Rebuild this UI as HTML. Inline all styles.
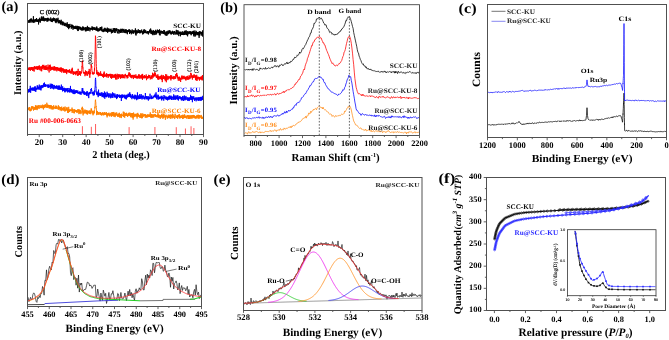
<!DOCTYPE html>
<html><head><meta charset="utf-8"><style>
html,body{margin:0;padding:0;background:#fff;}
svg{display:block;will-change:transform;}
text{font-family:"Liberation Serif", serif;text-rendering:geometricPrecision;}
</style></head><body>
<svg width="669" height="340" viewBox="0 0 669 340">
<rect width="669" height="340" fill="#fff"/>
<polyline fill="none" stroke="#000" stroke-width="0.9" stroke-linejoin="round"  points="28,21.55 28.12,21.88 28.24,21.21 28.36,21.12 28.48,20.98 28.6,20.35 28.72,21.55 28.84,23 28.96,21.24 29.08,20.72 29.2,21.98 29.32,20.5 29.44,21.51 29.56,20.3 29.68,21.31 29.8,22.13 29.92,19.77 30.04,22.77 30.16,19.09 30.28,19.78 30.4,19.12 30.52,20.95 30.64,19.75 30.76,21.5 30.88,21.35 31,20.94 31.12,18.24 31.24,20.49 31.36,21.17 31.48,21.21 31.6,19.3 31.72,20.49 31.84,19.9 31.96,22.69 32.08,22.21 32.2,20.04 32.32,20.91 32.44,21.95 32.56,20.24 32.68,20.77 32.8,21.01 32.92,21.45 33.04,19.44 33.16,20.91 33.28,22.37 33.4,16.21 33.52,21.76 33.64,20.89 33.76,20 33.88,23.02 34,21.58 34.12,19.3 34.24,20.75 34.36,21.31 34.48,20.41 34.6,21.4 34.72,20.52 34.84,21.34 34.96,22.21 35.08,19.76 35.2,20.76 35.32,19.98 35.44,20.64 35.56,19.11 35.68,20.13 35.8,20.22 35.92,21.46 36.04,21.73 36.16,18.88 36.28,19.47 36.4,21.12 36.52,18.07 36.64,19.81 36.76,20.22 36.88,21.77 37,21.1 37.12,19.92 37.24,19.86 37.36,19.98 37.48,22.01 37.6,19.76 37.72,19.89 37.84,20.63 37.96,19.96 38.08,19.98 38.2,18.91 38.32,19.42 38.44,19.66 38.56,24.48 38.68,20.03 38.8,20.11 38.92,20.89 39.04,19.72 39.16,22.3 39.28,20.17 39.4,20.75 39.52,18.58 39.64,20.46 39.76,18.1 39.88,17.69 40,19.67 40.12,18.98 40.24,20.19 40.36,22.57 40.48,19.02 40.6,19.25 40.72,20.3 40.84,20.51 40.96,19.73 41.08,19.69 41.2,20.72 41.32,20.5 41.44,16.49 41.56,19.79 41.68,19.91 41.8,18.64 41.92,20.14 42.04,18.84 42.16,20.94 42.28,20.03 42.4,19.9 42.52,19.11 42.64,19.64 42.76,17.47 42.88,18.45 43,20.23 43.12,16.34 43.24,20.69 43.36,17.7 43.48,20.57 43.6,16.92 43.72,19.89 43.84,19.83 43.96,17.9 44.08,21.1 44.2,21.32 44.32,19.58 44.44,19.34 44.56,19.82 44.68,18.53 44.8,20.91 44.92,19.02 45.04,19.59 45.16,18.73 45.28,18.93 45.4,18.18 45.52,19.75 45.64,20.03 45.76,20.77 45.88,19.67 46,18.87 46.12,19.29 46.24,19.03 46.36,19.69 46.48,19.25 46.6,19.34 46.72,18.11 46.84,18.77 46.96,21.61 47.08,18.94 47.2,18.5 47.32,20.11 47.44,21.34 47.56,18.06 47.68,19.5 47.8,19.01 47.92,17.72 48.04,20.6 48.16,21.24 48.28,19.84 48.4,18.9 48.52,20.29 48.64,19.16 48.76,18.3 48.88,18.51 49,18.39 49.12,19.11 49.24,19.22 49.36,19.75 49.48,19.77 49.6,19.31 49.72,19.24 49.84,20.55 49.96,19.49 50.08,19.66 50.2,20.87 50.32,21.2 50.44,20.64 50.56,20.3 50.68,17.51 50.8,18.28 50.92,20.97 51.04,20.99 51.16,19.72 51.28,20.51 51.4,21.92 51.52,20.85 51.64,20.96 51.76,19.38 51.88,21.66 52,18.49 52.12,20.92 52.24,20.5 52.36,20.94 52.48,22.1 52.6,21.65 52.72,18.64 52.84,19.41 52.96,20.92 53.08,18.82 53.2,19.99 53.32,20.99 53.44,18.15 53.56,17.63 53.68,20.38 53.8,20.15 53.92,19.84 54.04,20.2 54.16,19.19 54.28,18.47 54.4,18.24 54.52,19.15 54.64,18.42 54.76,20.92 54.88,20.31 55,21.28 55.12,19.32 55.24,19.74 55.36,22.33 55.48,19.57 55.6,20.85 55.72,19.77 55.84,22.31 55.96,21.15 56.08,23.14 56.2,18.13 56.32,21.92 56.44,20.84 56.56,20.97 56.68,19.36 56.8,20.54 56.92,21.97 57.04,21.07 57.16,20.91 57.28,20.92 57.4,21.14 57.52,21.32 57.64,18.85 57.76,20.63 57.88,19.21 58,17.78 58.12,20.95 58.24,23.27 58.36,21.71 58.48,20.35 58.6,20.66 58.72,23.09 58.84,22.02 58.96,21.94 59.08,21.87 59.2,20.49 59.32,22.95 59.44,22.7 59.56,22.36 59.68,20.96 59.8,19.93 59.92,21.47 60.04,23.56 60.16,20.89 60.28,22.24 60.4,22.44 60.52,20.97 60.64,24.53 60.76,24.27 60.88,22.11 61,23.58 61.12,23.18 61.24,19.78 61.36,23.13 61.48,22.82 61.6,23.03 61.72,21.75 61.84,22.73 61.96,22.88 62.08,25.14 62.2,22.12 62.32,23.22 62.44,25.04 62.56,22.69 62.68,24.7 62.8,21.34 62.92,25.28 63.04,24.63 63.16,24.63 63.28,24.39 63.4,23.8 63.52,23.97 63.64,23.48 63.76,22.08 63.88,23.93 64,25.47 64.12,24.6 64.24,23.95 64.36,23.4 64.48,23.38 64.6,26 64.72,24.79 64.84,24.33 64.96,23.91 65.08,23.08 65.2,24.33 65.32,26.28 65.44,25.36 65.56,24.29 65.68,24.35 65.8,24.77 65.92,22.87 66.04,23.15 66.16,23.81 66.28,25.03 66.4,24 66.52,25.6 66.64,26.74 66.76,24.67 66.88,24.38 67,25.34 67.12,25.16 67.24,22.31 67.36,25.79 67.48,27.62 67.6,25.05 67.72,25.26 67.84,24.23 67.96,25.84 68.08,24.08 68.2,24.28 68.32,27.07 68.44,24.6 68.56,26.92 68.68,29.15 68.8,26.06 68.92,26.14 69.04,28.08 69.16,25.65 69.28,25.24 69.4,24.4 69.52,26.04 69.64,27.74 69.76,27.18 69.88,25.03 70,23.88 70.12,26.5 70.24,26.57 70.36,26.02 70.48,26.56 70.6,26.69 70.72,26.05 70.84,26.38 70.96,26.71 71.08,26.54 71.2,27.13 71.32,28.74 71.44,27.31 71.56,27.58 71.68,24.77 71.8,27.19 71.92,24.55 72.04,25.2 72.16,27.85 72.28,27.71 72.4,26.77 72.52,25.01 72.64,26.59 72.76,26.28 72.88,25.23 73,29.73 73.12,27.42 73.24,26.31 73.36,25.9 73.48,28.45 73.6,27.11 73.72,26.02 73.84,27.51 73.96,26.08 74.08,27.99 74.2,28.52 74.32,28.52 74.44,26.98 74.56,28.14 74.68,27.42 74.8,28.94 74.92,27.24 75.04,26.16 75.16,26.01 75.28,26.72 75.4,27.11 75.52,27.99 75.64,28.91 75.76,25.79 75.88,26.9 76,28.03 76.12,28.29 76.24,27.43 76.36,29.07 76.48,28.15 76.6,26.53 76.72,27.83 76.84,28.89 76.96,28.52 77.08,25.82 77.2,29.58 77.32,28.74 77.44,29.61 77.56,26.29 77.68,27.77 77.8,26.83 77.92,31.07 78.04,27.97 78.16,30.82 78.28,27.47 78.4,28.42 78.52,26.33 78.64,27.83 78.76,29.42 78.88,26.87 79,29.57 79.12,28.74 79.24,27.25 79.36,27.82 79.48,26.59 79.6,28.38 79.72,27.84 79.84,27.53 79.96,28.15 80.08,28.31 80.2,27.06 80.32,27.48 80.44,29.59 80.56,26.84 80.68,28.62 80.8,27.89 80.92,27.56 81.04,29.66 81.16,28.11 81.28,30.45 81.4,27.85 81.52,29.21 81.64,28.13 81.76,27.94 81.88,28.5 82,28.21 82.12,29.56 82.24,30.62 82.36,27.65 82.48,28.8 82.6,29 82.72,30.06 82.84,26.33 82.96,27.67 83.08,27.02 83.2,29.76 83.32,27.78 83.44,26.96 83.56,30.04 83.68,30.33 83.8,27.31 83.92,27.82 84.04,28.23 84.16,27.79 84.28,29.53 84.4,28.17 84.52,28.27 84.64,28.35 84.76,28.24 84.88,29.61 85,28 85.12,27.72 85.24,27.97 85.36,31.26 85.48,27.28 85.6,29.4 85.72,29.08 85.84,29.17 85.96,29.18 86.08,31.32 86.2,27.93 86.32,27.34 86.44,27.96 86.56,30.42 86.68,29.99 86.8,30.07 86.92,28.03 87.04,27.53 87.16,28.73 87.28,30.73 87.4,25.89 87.52,29.74 87.64,27.9 87.76,30.34 87.88,27.9 88,28.81 88.12,27.41 88.24,28.02 88.36,30.74 88.48,30.09 88.6,28.69 88.72,28.15 88.84,26.97 88.96,28.7 89.08,29.12 89.2,29.06 89.32,29.05 89.44,27.86 89.56,29.08 89.68,29.11 89.8,30.64 89.92,31.31 90.04,28.91 90.16,28.28 90.28,29.09 90.4,28.47 90.52,27.87 90.64,29.1 90.76,27.97 90.88,29.89 91,29.05 91.12,29.46 91.24,28.96 91.36,28.34 91.48,28.08 91.6,28.9 91.72,28.55 91.84,29.45 91.96,26.41 92.08,27.61 92.2,29.26 92.32,27.64 92.44,28.47 92.56,30.42 92.68,26.8 92.8,29.29 92.92,29.36 93.04,29.01 93.16,28.7 93.28,28.76 93.4,28.07 93.52,28.89 93.64,27.31 93.76,29.68 93.88,27.82 94,29.08 94.12,29.38 94.24,29.06 94.36,28.72 94.48,29.87 94.6,27.32 94.72,29.77 94.84,29.53 94.96,28.82 95.08,29.7 95.2,29.38 95.32,28.98 95.44,30.02 95.56,29.79 95.68,29.54 95.8,27.57 95.92,29.94 96.04,30.67 96.16,30.5 96.28,29.04 96.4,27.56 96.52,30.45 96.64,29.2 96.76,26.47 96.88,29.82 97,27.68 97.12,27.92 97.24,28.69 97.36,30.89 97.48,29.01 97.6,29.76 97.72,31.46 97.84,31.3 97.96,29.35 98.08,29.2 98.2,28.04 98.32,28.7 98.44,30 98.56,29.97 98.68,31.35 98.8,31.33 98.92,29.63 99.04,29.49 99.16,30.4 99.28,30.24 99.4,30.81 99.52,30.04 99.64,29.24 99.76,30.02 99.88,28.46 100,27.74 100.12,30.3 100.24,27.22 100.36,30 100.48,27.71 100.6,29.25 100.72,27.4 100.84,28.69 100.96,27.1 101.08,29.32 101.2,30.74 101.32,27.85 101.44,29.04 101.56,29.72 101.68,30.62 101.8,26.58 101.92,29.62 102.04,30.4 102.16,31.29 102.28,31.75 102.4,31.11 102.52,30.17 102.64,30.17 102.76,30.73 102.88,29.22 103,29.8 103.12,30.9 103.24,32.11 103.36,29.69 103.48,29.67 103.6,30.12 103.72,31.44 103.84,29.87 103.96,31.61 104.08,28.56 104.2,29.72 104.32,30.82 104.44,30.86 104.56,31.16 104.68,28.23 104.8,27.78 104.92,30.37 105.04,29.24 105.16,28.25 105.28,31.21 105.4,31.04 105.52,30.6 105.64,29.49 105.76,31.23 105.88,29.78 106,31.33 106.12,29.03 106.24,28.65 106.36,30.33 106.48,29.29 106.6,30.89 106.72,31.6 106.84,29.07 106.96,31.73 107.08,29.74 107.2,31.21 107.32,27.63 107.44,29.67 107.56,32.86 107.68,32.77 107.8,32.5 107.92,29.39 108.04,30.47 108.16,31.99 108.28,28.79 108.4,28.65 108.52,30.39 108.64,30.78 108.76,29.32 108.88,28.39 109,28.64 109.12,31.07 109.24,29.44 109.36,30.16 109.48,30.57 109.6,31.61 109.72,29.96 109.84,30.93 109.96,29.34 110.08,29.96 110.2,29.2 110.32,31.69 110.44,30.37 110.56,29.56 110.68,30.01 110.8,30.17 110.92,31.24 111.04,28.61 111.16,29.26 111.28,30.03 111.4,33.39 111.52,31.58 111.64,30.36 111.76,31.32 111.88,32.88 112,30.25 112.12,32.47 112.24,31.93 112.36,31.95 112.48,31.33 112.6,29.98 112.72,32.79 112.84,32.55 112.96,31.24 113.08,31.39 113.2,28.28 113.32,31.35 113.44,30.41 113.56,31.14 113.68,31.43 113.8,30.26 113.92,28.38 114.04,31.1 114.16,29.83 114.28,30.31 114.4,30.01 114.52,30.32 114.64,28.06 114.76,32.75 114.88,31.03 115,32.03 115.12,33.03 115.24,30.79 115.36,28.7 115.48,29.76 115.6,29.39 115.72,30.23 115.84,30.9 115.96,28.52 116.08,31.22 116.2,29.1 116.32,31.19 116.44,30.73 116.56,30.5 116.68,28.36 116.8,30.25 116.92,30.18 117.04,28.95 117.16,30.86 117.28,33.02 117.4,33.18 117.52,32.43 117.64,31.73 117.76,33.19 117.88,32.59 118,30.87 118.12,30.86 118.24,29.17 118.36,31.06 118.48,30.45 118.6,30.86 118.72,29.72 118.84,30.54 118.96,33.6 119.08,30.9 119.2,30.71 119.32,31.6 119.44,31.81 119.56,29.71 119.68,30.76 119.8,32.06 119.92,31.32 120.04,31.15 120.16,32.8 120.28,30.24 120.4,31.12 120.52,30.43 120.64,32.75 120.76,28.8 120.88,30.27 121,30.44 121.12,31.82 121.24,31.75 121.36,32.67 121.48,29.26 121.6,31.93 121.72,30.74 121.84,30.31 121.96,30.44 122.08,30.03 122.2,28.71 122.32,30.67 122.44,29.38 122.56,29.59 122.68,31.54 122.8,31.47 122.92,32.95 123.04,30.9 123.16,29.37 123.28,30.26 123.4,30.08 123.52,29.74 123.64,31.65 123.76,30.41 123.88,28.88 124,32.43 124.12,31.04 124.24,30.04 124.36,31.3 124.48,31.9 124.6,31.38 124.72,32.61 124.84,31.68 124.96,31.65 125.08,33.08 125.2,29.53 125.32,31.02 125.44,30.92 125.56,31.46 125.68,29.66 125.8,33.11 125.92,31.35 126.04,29.84 126.16,29.28 126.28,30.92 126.4,31.15 126.52,30.43 126.64,31.36 126.76,30.53 126.88,33.27 127,30.44 127.12,31.23 127.24,32.41 127.36,34.24 127.48,31.24 127.6,30.76 127.72,30.33 127.84,32.21 127.96,29.99 128.08,30.76 128.2,31.28 128.32,30.68 128.44,30.22 128.56,32 128.68,29.65 128.8,29.68 128.92,29.79 129.04,31.52 129.16,31.14 129.28,29.32 129.4,30.83 129.52,34 129.64,32.01 129.76,31.02 129.88,30.36 130,32.11 130.12,29.86 130.24,30.05 130.36,30.47 130.48,32.56 130.6,31.66 130.72,33.12 130.84,31.36 130.96,32.5 131.08,30.73 131.2,31.25 131.32,34.29 131.44,31.41 131.56,30.87 131.68,32.71 131.8,31.83 131.92,32.85 132.04,30.9 132.16,29.46 132.28,31.15 132.4,31.49 132.52,31.6 132.64,33.3 132.76,31.85 132.88,32.43 133,30.23 133.12,31.67 133.24,33.33 133.36,32.4 133.48,31.8 133.6,31.28 133.72,33.58 133.84,30.46 133.96,31.4 134.08,32.06 134.2,32.4 134.32,31.04 134.44,31.9 134.56,31.23 134.68,31.77 134.8,31.41 134.92,30.25 135.04,31.55 135.16,32.58 135.28,30.47 135.4,28.39 135.52,34.56 135.64,30.36 135.76,31.81 135.88,29.86 136,35.52 136.12,34.27 136.24,34.36 136.36,31.37 136.48,32.48 136.6,31.77 136.72,31.75 136.84,33.42 136.96,30.13 137.08,32.86 137.2,31.6 137.32,33.28 137.44,31.88 137.56,30.89 137.68,31.99 137.8,32.52 137.92,31.72 138.04,32.24 138.16,31.09 138.28,29.24 138.4,32.73 138.52,32.5 138.64,31.88 138.76,31.79 138.88,32.91 139,30.73 139.12,30.91 139.24,31.51 139.36,33.1 139.48,30.14 139.6,33.11 139.72,31.01 139.84,30.48 139.96,33.2 140.08,31.65 140.2,30.27 140.32,31.36 140.44,32.84 140.56,33.15 140.68,31.29 140.8,32.25 140.92,31.58 141.04,31.05 141.16,32.21 141.28,31.77 141.4,31.63 141.52,31.25 141.64,29.59 141.76,31.86 141.88,31.18 142,32.76 142.12,33.12 142.24,32.09 142.36,32.86 142.48,33.23 142.6,32.53 142.72,34.47 142.84,30.91 142.96,32.8 143.08,31.5 143.2,34.01 143.32,33.83 143.44,29.64 143.56,30.77 143.68,32.66 143.8,32.81 143.92,32.75 144.04,31.82 144.16,32.43 144.28,32.67 144.4,31.83 144.52,33.11 144.64,29.33 144.76,32.52 144.88,30.75 145,33.04 145.12,31.68 145.24,30.93 145.36,32.39 145.48,30.91 145.6,30.91 145.72,30.17 145.84,31.94 145.96,32.55 146.08,33.16 146.2,31.82 146.32,33.2 146.44,32.02 146.56,31.89 146.68,32.66 146.8,33.23 146.92,31.62 147.04,31.74 147.16,31.84 147.28,32.12 147.4,31 147.52,33.22 147.64,31.58 147.76,32.58 147.88,31.1 148,33.48 148.12,32.51 148.24,31.58 148.36,34.39 148.48,32.5 148.6,34.12 148.72,33.18 148.84,31.32 148.96,31.65 149.08,32.6 149.2,32.17 149.32,32.16 149.44,31.57 149.56,30.03 149.68,31.86 149.8,29.57 149.92,32.55 150.04,31.29 150.16,31.31 150.28,31.89 150.4,32.46 150.52,31.41 150.64,28.53 150.76,30.93 150.88,29.81 151,31.05 151.12,34 151.24,30.96 151.36,33.71 151.48,30.61 151.6,32.53 151.72,31.82 151.84,32.13 151.96,32.85 152.08,34.22 152.2,32.43 152.32,32.36 152.44,31.1 152.56,32.89 152.68,31.94 152.8,35.16 152.92,32.19 153.04,34.24 153.16,29.97 153.28,31.91 153.4,33.27 153.52,31.86 153.64,31.35 153.76,31.67 153.88,30.69 154,32.41 154.12,35.09 154.24,33.6 154.36,31.01 154.48,31.29 154.6,31.83 154.72,33.46 154.84,31.36 154.96,31.52 155.08,34.48 155.2,34.83 155.32,31.9 155.44,31.04 155.56,30.55 155.68,31.54 155.8,29.78 155.92,33.21 156.04,31.63 156.16,32.91 156.28,34.51 156.4,33.71 156.52,31.05 156.64,33.37 156.76,33.71 156.88,31.53 157,31.29 157.12,32.27 157.24,30.56 157.36,32.25 157.48,29.64 157.6,31.14 157.72,32.24 157.84,32.16 157.96,32.62 158.08,32.74 158.2,32.19 158.32,32.31 158.44,29.98 158.56,32.36 158.68,31.63 158.8,32.61 158.92,32.91 159.04,32.08 159.16,31.73 159.28,34.43 159.4,32.88 159.52,29.37 159.64,34.83 159.76,35.14 159.88,30.81 160,30.85 160.12,35.38 160.24,33.4 160.36,31.72 160.48,32.97 160.6,31.89 160.72,32.27 160.84,31.89 160.96,30.51 161.08,32.07 161.2,32.02 161.32,31.15 161.44,32.48 161.56,31.51 161.68,32.73 161.8,33.74 161.92,32.97 162.04,33.13 162.16,32.96 162.28,32.63 162.4,31.11 162.52,32.21 162.64,33.44 162.76,31.32 162.88,32.18 163,32.62 163.12,31.72 163.24,32.02 163.36,31.81 163.48,34.06 163.6,32.72 163.72,33.91 163.84,31.7 163.96,29.99 164.08,31.32 164.2,30.3 164.32,32.56 164.44,33.83 164.56,33.36 164.68,31.08 164.8,31.75 164.92,34.67 165.04,33 165.16,32.64 165.28,33.85 165.4,35.46 165.52,34.13 165.64,32.8 165.76,33.06 165.88,33.36 166,31.95 166.12,33 166.24,32.72 166.36,31.57 166.48,32.6 166.6,32.78 166.72,35.83 166.84,31.59 166.96,32.54 167.08,35.26 167.2,33.19 167.32,33.89 167.44,32.13 167.56,31.75 167.68,30.81 167.8,31.63 167.92,33.32 168.04,32.32 168.16,31.54 168.28,32.28 168.4,32.75 168.52,34.17 168.64,32.04 168.76,32.44 168.88,30.64 169,32.31 169.12,33.54 169.24,30.22 169.36,32.35 169.48,32.99 169.6,31.35 169.72,31.82 169.84,32.68 169.96,32.75 170.08,32.66 170.2,30.6 170.32,32.59 170.44,31.78 170.56,32.14 170.68,34.29 170.8,33.51 170.92,33.81 171.04,32.21 171.16,33.85 171.28,34.14 171.4,34.1 171.52,34.39 171.64,32.63 171.76,32.6 171.88,33.75 172,31.24 172.12,33.05 172.24,32.2 172.36,32.39 172.48,30.82 172.6,31.8 172.72,33.03 172.84,33.85 172.96,33.97 173.08,32.74 173.2,32.62 173.32,31.89 173.44,33.31 173.56,32.56 173.68,33.55 173.8,34.87 173.92,32.82 174.04,31.14 174.16,31.87 174.28,31.19 174.4,31.49 174.52,32.85 174.64,32.82 174.76,31.13 174.88,33.63 175,34.33 175.12,32.47 175.24,33.29 175.36,32.5 175.48,33.22 175.6,33.64 175.72,34.26 175.84,34.3 175.96,34.27 176.08,34.48 176.2,33.68 176.32,29.84 176.44,33.67 176.56,33.28 176.68,32.01 176.8,33.98 176.92,32.52 177.04,30.67 177.16,34.6 177.28,34.63 177.4,33.2 177.52,34.01 177.64,34.17 177.76,33.35 177.88,30.13 178,32.18 178.12,32.44 178.24,31.83 178.36,33.2 178.48,34.34 178.6,32.42 178.72,31.67 178.84,36.11 178.96,32.47 179.08,31.57 179.2,33.27 179.32,33.48 179.44,32.19 179.56,33.91 179.68,32.85 179.8,33.43 179.92,33.21 180.04,33.9 180.16,32.29 180.28,33.4 180.4,32.91 180.52,36.27 180.64,32.21 180.76,34.62 180.88,31.56 181,32.89 181.12,33.87 181.24,33.43 181.36,34.85 181.48,33.54 181.6,32.36 181.72,32.44 181.84,33.64 181.96,33.73 182.08,34.67 182.2,33.55 182.32,34.29 182.44,34.91 182.56,33.27 182.68,31.37 182.8,31.73 182.92,31.43 183.04,34.92 183.16,32.12 183.28,34.51 183.4,33.77 183.52,35.07 183.64,34.26 183.76,32.99 183.88,32.88 184,33.21 184.12,33.32 184.24,32.51 184.36,33.09 184.48,34.98 184.6,30.79 184.72,33.43 184.84,32.09 184.96,33.35 185.08,34.42 185.2,33.08 185.32,34.04 185.44,31.32 185.56,34.43 185.68,32.46 185.8,31.19 185.92,33.37 186.04,30.19 186.16,32.3 186.28,33.43 186.4,34.96 186.52,33.51 186.64,33.48 186.76,31.56 186.88,34.83 187,35.27 187.12,33.23 187.24,32.94 187.36,31.34 187.48,34.22 187.6,36.31 187.72,34.03 187.84,33.81 187.96,33.84 188.08,31.41 188.2,33.58 188.32,31.8 188.44,32.99 188.56,33.55 188.68,34.25 188.8,33.72 188.92,33.68 189.04,32.01 189.16,31.76 189.28,33.9 189.4,32.44 189.52,31.75 189.64,31.8 189.76,32.7 189.88,31.13 190,31.72 190.12,31.39 190.24,32.6 190.36,33.75 190.48,33.02 190.6,31.56 190.72,32.5 190.84,34.34 190.96,33.04 191.08,32.92 191.2,35.26 191.32,33.22 191.44,31.97 191.56,31.79 191.68,33.7 191.8,33.66 191.92,31.74 192.04,32.19 192.16,33.32 192.28,33.99 192.4,32.59 192.52,34.05 192.64,33.99 192.76,31.29 192.88,32.98 193,33.82 193.12,32.69 193.24,30.89 193.36,33.03 193.48,34.22 193.6,35.18 193.72,30.84 193.84,36.37 193.96,32.07 194.08,34.47 194.2,34.79 194.32,34.51 194.44,33.38 194.56,32.05 194.68,34.11 194.8,32.57 194.92,30.49 195.04,36.65 195.16,34.21 195.28,35.49 195.4,32.36 195.52,34.7 195.64,35.24 195.76,35.2 195.88,33.39 196,32.04 196.12,33.22 196.24,30.89 196.36,31.47 196.48,33.54 196.6,32.3 196.72,33.25 196.84,35.13 196.96,35.23 197.08,34.94 197.2,33.4 197.32,34.84 197.44,32.56 197.56,33.07 197.68,34.51 197.8,32.04 197.92,33.15 198.04,31.95 198.16,33.61 198.28,35.36 198.4,32.83 198.52,33.75 198.64,32.46 198.76,32.17 198.88,32.07 199,35.17 199.12,37.85 199.24,34.06 199.36,31.11 199.48,34.32 199.6,33.13 199.72,34.44 199.84,35.6 199.96,33.84 200.08,34.22 200.2,32.86 200.32,33.07 200.44,31.56 200.56,33.03 200.68,31.9 200.8,33.38 200.92,32.45 201.04,33.67 201.16,32.88 201.28,31.92 201.4,33.93 201.52,32.48 201.64,34.42 201.76,35.53 201.88,34.55 202,32.6 202.12,35.26 202.24,31.84 202.36,35.3 202.48,32.83 202.6,30.39 202.72,36.63 202.84,34.49 202.96,32.4 203.08,33.79"/>
<polyline fill="none" stroke="#ff0000" stroke-width="0.9" stroke-linejoin="round"  points="28,67.03 28.12,69.11 28.24,68.75 28.36,69.79 28.48,68.12 28.6,69.03 28.72,67.99 28.84,69.98 28.96,69.28 29.08,68.97 29.2,69.56 29.32,68.84 29.44,67.32 29.56,69.78 29.68,69.41 29.8,68.88 29.92,70.18 30.04,69.3 30.16,67.76 30.28,68.1 30.4,70.76 30.52,70.6 30.64,68.74 30.76,67.57 30.88,68.18 31,68.33 31.12,67.06 31.24,68.9 31.36,67.38 31.48,67.44 31.6,69.87 31.72,68.02 31.84,68.71 31.96,69.5 32.08,66.97 32.2,68.66 32.32,68.78 32.44,67.76 32.56,70.7 32.68,69.42 32.8,67.39 32.92,68.34 33.04,69.45 33.16,69.16 33.28,70.7 33.4,70.16 33.52,68.26 33.64,68.45 33.76,67.06 33.88,68.8 34,68.67 34.12,71.59 34.24,68.58 34.36,66.05 34.48,67.66 34.6,68.55 34.72,66.96 34.84,67.39 34.96,67.95 35.08,68.75 35.2,68.15 35.32,67.3 35.44,69.22 35.56,67.67 35.68,67.7 35.8,66.68 35.92,66.85 36.04,68.98 36.16,66.35 36.28,68.12 36.4,69.01 36.52,67.73 36.64,68.43 36.76,66.85 36.88,69.62 37,69.37 37.12,68.36 37.24,66.05 37.36,66.85 37.48,69.16 37.6,69.99 37.72,68.35 37.84,69.42 37.96,67.28 38.08,67.74 38.2,67.94 38.32,68.41 38.44,66.15 38.56,68.98 38.68,69.4 38.8,66.54 38.92,67.06 39.04,67.07 39.16,67.06 39.28,65.33 39.4,68.71 39.52,67.95 39.64,67.2 39.76,70.17 39.88,67.88 40,66.84 40.12,67.8 40.24,66.48 40.36,66.78 40.48,68.08 40.6,66.99 40.72,67 40.84,69.51 40.96,68.57 41.08,71.11 41.2,68.16 41.32,68.09 41.44,69.2 41.56,67.23 41.68,71.25 41.8,66.4 41.92,67.2 42.04,65.9 42.16,67.08 42.28,68.07 42.4,69.14 42.52,64.9 42.64,67.47 42.76,67.05 42.88,66.61 43,66.09 43.12,67.53 43.24,65.48 43.36,67.6 43.48,67.85 43.6,66.07 43.72,66.32 43.84,64.85 43.96,69.65 44.08,65.97 44.2,69.31 44.32,68.22 44.44,68 44.56,66.21 44.68,68.75 44.8,69.54 44.92,66.49 45.04,67.23 45.16,68.79 45.28,67.97 45.4,69.89 45.52,66.23 45.64,68.23 45.76,66.18 45.88,70.03 46,66.79 46.12,65.1 46.24,67.5 46.36,67.49 46.48,69.86 46.6,67 46.72,67.64 46.84,68.37 46.96,69.52 47.08,67.63 47.2,68.9 47.32,68.31 47.44,67.38 47.56,67.82 47.68,67.77 47.8,67.64 47.92,70.51 48.04,64.63 48.16,69.11 48.28,68.87 48.4,67.68 48.52,66.91 48.64,67.54 48.76,68.35 48.88,68.67 49,68.15 49.12,72.46 49.24,66.13 49.36,68.11 49.48,65.06 49.6,68.74 49.72,67.05 49.84,67.39 49.96,69.22 50.08,68.68 50.2,64.66 50.32,67.95 50.44,66.17 50.56,69.15 50.68,70.79 50.8,67.34 50.92,68.04 51.04,67.67 51.16,68.38 51.28,68.73 51.4,69.48 51.52,66.88 51.64,69.83 51.76,66.97 51.88,68.38 52,69.93 52.12,68.91 52.24,67.03 52.36,67.32 52.48,67.61 52.6,68.11 52.72,69.5 52.84,66.72 52.96,68.76 53.08,68.95 53.2,68.92 53.32,68.83 53.44,70.07 53.56,67.45 53.68,67.83 53.8,69.08 53.92,70.48 54.04,66.25 54.16,70.01 54.28,68.19 54.4,68.19 54.52,67.42 54.64,66.41 54.76,68.14 54.88,67.16 55,70.54 55.12,66.96 55.24,70.32 55.36,69.01 55.48,68.44 55.6,67.93 55.72,67.87 55.84,67.5 55.96,68.19 56.08,68.85 56.2,69.69 56.32,67.34 56.44,68.61 56.56,67.51 56.68,69.14 56.8,71.34 56.92,69.73 57.04,68.67 57.16,67.19 57.28,67.45 57.4,67.16 57.52,69.96 57.64,68.27 57.76,68.37 57.88,68.48 58,69.33 58.12,70.86 58.24,67.75 58.36,68.9 58.48,68.39 58.6,70.35 58.72,68.18 58.84,68.08 58.96,67.82 59.08,67.82 59.2,70 59.32,71.03 59.44,68.36 59.56,70.62 59.68,69.84 59.8,68.31 59.92,69.28 60.04,69.36 60.16,68.85 60.28,71.89 60.4,67.5 60.52,70.16 60.64,70.12 60.76,69.1 60.88,69.96 61,70.82 61.12,68.64 61.24,70.05 61.36,70.68 61.48,67.57 61.6,71.63 61.72,72.58 61.84,71.04 61.96,71.17 62.08,68.41 62.2,69.92 62.32,69.14 62.44,69.42 62.56,71.23 62.68,69.22 62.8,70.02 62.92,68 63.04,70.04 63.16,70.34 63.28,69.45 63.4,69.46 63.52,72.48 63.64,68.94 63.76,69.15 63.88,69.45 64,71.79 64.12,72.85 64.24,69.61 64.36,70.04 64.48,70.01 64.6,71.75 64.72,69.5 64.84,72.24 64.96,70.98 65.08,70.7 65.2,71.39 65.32,71.53 65.44,72.48 65.56,69.51 65.68,72.1 65.8,70.33 65.92,69.9 66.04,70.93 66.16,72.86 66.28,71.5 66.4,69.04 66.52,69.82 66.64,74.11 66.76,73.21 66.88,71.31 67,72.36 67.12,70.43 67.24,70.96 67.36,71.39 67.48,69.85 67.6,69.98 67.72,71.25 67.84,70.8 67.96,69.96 68.08,71.66 68.2,70.93 68.32,72.43 68.44,71.28 68.56,70.28 68.68,71.84 68.8,71.15 68.92,69.9 69.04,70.94 69.16,72.29 69.28,72.19 69.4,72.95 69.52,69.55 69.64,71.07 69.76,69.58 69.88,71.76 70,71.07 70.12,71.02 70.24,72.53 70.36,71.86 70.48,72.11 70.6,73.23 70.72,72.86 70.84,71.08 70.96,72.71 71.08,72 71.2,73.74 71.32,71.57 71.44,70.85 71.56,71.43 71.68,71 71.8,68.83 71.92,72.12 72.04,71.98 72.16,71.31 72.28,67.76 72.4,70.13 72.52,69.86 72.64,72.3 72.76,73.73 72.88,72.37 73,71.63 73.12,71.89 73.24,71.96 73.36,75 73.48,71.47 73.6,71.66 73.72,73.54 73.84,72.18 73.96,73.31 74.08,71.94 74.2,72.33 74.32,72.07 74.44,72.81 74.56,73.25 74.68,73.85 74.8,71.56 74.92,72.46 75.04,74.27 75.16,72.06 75.28,72.68 75.4,74.1 75.52,72.56 75.64,73.07 75.76,72.01 75.88,75.19 76,72.95 76.12,71.15 76.24,73.16 76.36,70.93 76.48,71.03 76.6,73.05 76.72,73.15 76.84,73.76 76.96,71.29 77.08,70.99 77.2,72.29 77.32,71.01 77.44,73.73 77.56,74.04 77.68,75.98 77.8,73.75 77.92,72.08 78.04,71.77 78.16,68.82 78.28,72.12 78.4,72.62 78.52,75.38 78.64,73.55 78.76,73.54 78.88,73.12 79,73.65 79.12,74.56 79.24,71.68 79.36,72.39 79.48,71.21 79.6,74.8 79.72,73.94 79.84,73.81 79.96,71.57 80.08,73.14 80.2,72.67 80.32,73.03 80.44,74.01 80.56,75.66 80.68,71.5 80.8,73.85 80.92,73.11 81.04,71.63 81.16,72.57 81.28,72.06 81.4,73.26 81.52,71.6 81.64,71.57 81.76,69.72 81.88,66.99 82,66.11 82.12,66.7 82.24,61.41 82.36,62.88 82.48,60.57 82.6,62.44 82.72,64.66 82.84,68.28 82.96,67.63 83.08,71.27 83.2,71.16 83.32,72.54 83.44,72.01 83.56,73.09 83.68,72.02 83.8,72.94 83.92,73.71 84.04,73.15 84.16,72.61 84.28,71.93 84.4,73.4 84.52,73.63 84.64,72.96 84.76,72.4 84.88,73.93 85,76.18 85.12,72.99 85.24,73.74 85.36,73.81 85.48,70.43 85.6,73.54 85.72,73.62 85.84,75.01 85.96,73.14 86.08,72.55 86.2,73.58 86.32,73.65 86.44,71.21 86.56,73.42 86.68,71.93 86.8,73.24 86.92,74.39 87.04,75.77 87.16,74.33 87.28,73.83 87.4,74.89 87.52,74.7 87.64,75.45 87.76,74.79 87.88,71.55 88,73.85 88.12,73.76 88.24,72.63 88.36,73.78 88.48,72.65 88.6,71.13 88.72,72.78 88.84,71.22 88.96,73.62 89.08,73.54 89.2,68.92 89.32,74.31 89.44,74.5 89.56,73.6 89.68,75.38 89.8,77.72 89.92,72.01 90.04,74.53 90.16,73.75 90.28,73.56 90.4,73.88 90.52,71.73 90.64,69.47 90.76,69.62 90.88,68.84 91,67.63 91.12,64.69 91.24,64.23 91.36,65.9 91.48,65.02 91.6,67.46 91.72,66.32 91.84,68.85 91.96,70.47 92.08,72.02 92.2,71.88 92.32,73.97 92.44,73.02 92.56,73.21 92.68,72.47 92.8,74.08 92.92,71.9 93.04,74.55 93.16,73.77 93.28,73.39 93.4,73.21 93.52,73.7 93.64,74.2 93.76,74.02 93.88,73.24 94,73.65 94.12,72.55 94.24,73.5 94.36,70.9 94.48,68.18 94.6,70.58 94.72,66.8 94.84,61.88 94.96,58.37 95.08,51.97 95.2,49.35 95.32,41.98 95.44,35.71 95.56,36.85 95.68,36.94 95.8,44.22 95.92,46.48 96.04,52.02 96.16,59.38 96.28,63.43 96.4,66.7 96.52,67.01 96.64,71.43 96.76,73.77 96.88,70.22 97,74.12 97.12,72.38 97.24,74.58 97.36,73.87 97.48,73.28 97.6,72.67 97.72,74.3 97.84,73.1 97.96,74.67 98.08,73.33 98.2,71.92 98.32,76.37 98.44,73.68 98.56,73.42 98.68,74.55 98.8,72.41 98.92,72.68 99.04,73.7 99.16,73.7 99.28,74.41 99.4,75.65 99.52,73.84 99.64,74.98 99.76,75.12 99.88,73.21 100,74.74 100.12,73.41 100.24,75.74 100.36,75.06 100.48,74.58 100.6,71.34 100.72,74.73 100.84,73.73 100.96,75.44 101.08,74.51 101.2,73.73 101.32,75.74 101.44,75.53 101.56,74.03 101.68,76.06 101.8,74.4 101.92,74.4 102.04,74.91 102.16,73.92 102.28,74.7 102.4,74.63 102.52,76.59 102.64,76.57 102.76,74.56 102.88,76.72 103,74.83 103.12,75.34 103.24,75.93 103.36,75.26 103.48,77.71 103.6,75.23 103.72,73.58 103.84,76.48 103.96,72.73 104.08,74.65 104.2,71.57 104.32,75 104.44,75.98 104.56,75.97 104.68,76.19 104.8,77.02 104.92,75.03 105.04,76.17 105.16,75.54 105.28,74.71 105.4,76.35 105.52,75.59 105.64,75.81 105.76,75.58 105.88,74.97 106,74.25 106.12,75.7 106.24,74.75 106.36,73.42 106.48,73.96 106.6,77.28 106.72,73.51 106.84,75.52 106.96,75.98 107.08,76.02 107.2,74.41 107.32,74.94 107.44,75.49 107.56,75.62 107.68,74.6 107.8,74.02 107.92,76.52 108.04,76.42 108.16,77.85 108.28,74.7 108.4,75.4 108.52,75.55 108.64,76.4 108.76,74.01 108.88,74.9 109,75.28 109.12,74.19 109.24,75.74 109.36,75.54 109.48,75.04 109.6,75.98 109.72,73.9 109.84,75.48 109.96,76.05 110.08,75.89 110.2,76.81 110.32,74.21 110.44,73.86 110.56,77.39 110.68,76.14 110.8,78.07 110.92,76.35 111.04,74.65 111.16,74.69 111.28,74.7 111.4,73.98 111.52,78.7 111.64,75.28 111.76,76.54 111.88,76.38 112,77.82 112.12,77.9 112.24,77.16 112.36,74.59 112.48,74.18 112.6,77.43 112.72,77.5 112.84,76.4 112.96,76.08 113.08,76.03 113.2,74.75 113.32,77.63 113.44,76.63 113.56,76.46 113.68,76.32 113.8,77.1 113.92,76.49 114.04,76.78 114.16,74.59 114.28,76.53 114.4,77.75 114.52,75.37 114.64,75.83 114.76,77.01 114.88,77.1 115,76.72 115.12,74.16 115.24,76.6 115.36,74.68 115.48,75.1 115.6,79.07 115.72,73.89 115.84,77.01 115.96,79.71 116.08,76.99 116.2,76.94 116.32,75.09 116.44,75.39 116.56,75.6 116.68,75.53 116.8,74.89 116.92,75.4 117.04,79.39 117.16,75.02 117.28,73.78 117.4,74.62 117.52,75.18 117.64,76.26 117.76,77.38 117.88,77.01 118,75.82 118.12,76.98 118.24,74.56 118.36,78.85 118.48,77.6 118.6,75.98 118.72,74.89 118.84,76.67 118.96,74.09 119.08,75.34 119.2,77.1 119.32,76.33 119.44,75.69 119.56,77.35 119.68,75.06 119.8,76.59 119.92,75.69 120.04,74.32 120.16,76.8 120.28,75.13 120.4,78.46 120.52,75.61 120.64,78.57 120.76,75.03 120.88,76.98 121,74.91 121.12,74.75 121.24,76.48 121.36,76.79 121.48,74.84 121.6,77.67 121.72,75.39 121.84,76.46 121.96,77.93 122.08,77 122.2,74.25 122.32,78.18 122.44,76.97 122.56,75.84 122.68,74.91 122.8,74.86 122.92,74.51 123.04,76.97 123.16,75.95 123.28,75.04 123.4,75.74 123.52,78.15 123.64,77.13 123.76,75.68 123.88,77.91 124,76.89 124.12,76.41 124.24,75.66 124.36,74.58 124.48,75.02 124.6,75.81 124.72,76.12 124.84,78.37 124.96,77 125.08,76.63 125.2,76.62 125.32,75.9 125.44,73.89 125.56,75.77 125.68,75.27 125.8,75.62 125.92,76.05 126.04,74.94 126.16,75.09 126.28,76.25 126.4,76.49 126.52,75.6 126.64,76.92 126.76,76.08 126.88,75.15 127,76.35 127.12,78.44 127.24,75.46 127.36,77.53 127.48,77.7 127.6,77.94 127.72,74.96 127.84,78.08 127.96,75.71 128.08,75.6 128.2,74.85 128.32,75.53 128.44,74.62 128.56,74.07 128.68,75.49 128.8,72.96 128.92,72.43 129.04,74.46 129.16,74.35 129.28,74.88 129.4,72.54 129.52,75.24 129.64,74.98 129.76,76.57 129.88,73.4 130,75.37 130.12,75.06 130.24,73.78 130.36,74.98 130.48,77.26 130.6,75.55 130.72,75.36 130.84,77.27 130.96,77.47 131.08,77.51 131.2,75.5 131.32,74.98 131.44,77.65 131.56,75.72 131.68,76.53 131.8,76.22 131.92,78.31 132.04,75.2 132.16,75.94 132.28,74.88 132.4,75.39 132.52,76.4 132.64,77.28 132.76,77.28 132.88,75.78 133,75.5 133.12,75.49 133.24,76.55 133.36,75.87 133.48,79.05 133.6,77.56 133.72,75.66 133.84,75.48 133.96,76.13 134.08,74.75 134.2,75.8 134.32,75.24 134.44,77.67 134.56,76.17 134.68,75.75 134.8,75.12 134.92,75.32 135.04,76.6 135.16,76.43 135.28,77.99 135.4,75.96 135.52,77.91 135.64,76.99 135.76,75.24 135.88,74.39 136,75.22 136.12,75.33 136.24,78.32 136.36,76.96 136.48,78.25 136.6,76.26 136.72,77.12 136.84,75.97 136.96,77.86 137.08,77.14 137.2,76.48 137.32,76.37 137.44,77.39 137.56,77.13 137.68,75.8 137.8,78.74 137.92,77.06 138.04,76.78 138.16,77.59 138.28,77.95 138.4,76.68 138.52,77.4 138.64,75.56 138.76,76.05 138.88,74.2 139,78.2 139.12,74.62 139.24,77.59 139.36,75.85 139.48,75.69 139.6,76.59 139.72,77.13 139.84,77.53 139.96,78.86 140.08,77.24 140.2,76.67 140.32,76.15 140.44,77.66 140.56,75.37 140.68,76.31 140.8,76.74 140.92,76.39 141.04,77.08 141.16,77.32 141.28,76.28 141.4,76.02 141.52,77.73 141.64,74.92 141.76,76.17 141.88,78.67 142,74.26 142.12,76.09 142.24,78.24 142.36,75 142.48,79.88 142.6,73.92 142.72,78.56 142.84,78.7 142.96,77.96 143.08,76.66 143.2,77.33 143.32,75.89 143.44,77.85 143.56,76.25 143.68,76.62 143.8,78.08 143.92,76.23 144.04,76.52 144.16,77.13 144.28,75.4 144.4,78.29 144.52,77.34 144.64,75.21 144.76,76.9 144.88,76.07 145,76.21 145.12,77.06 145.24,76.29 145.36,78.08 145.48,76.17 145.6,78.11 145.72,76.93 145.84,77.97 145.96,76.37 146.08,76.41 146.2,74.46 146.32,77.66 146.44,78.08 146.56,80.18 146.68,78.49 146.8,78.31 146.92,76.77 147.04,76.08 147.16,76.99 147.28,78.71 147.4,78.11 147.52,76.07 147.64,76.24 147.76,76.98 147.88,77.39 148,76.77 148.12,78.41 148.24,77.5 148.36,76.73 148.48,76.52 148.6,74.8 148.72,78.05 148.84,75.67 148.96,76.41 149.08,76.21 149.2,77.9 149.32,76.99 149.44,77.09 149.56,75.14 149.68,76.31 149.8,75.38 149.92,77.43 150.04,77.5 150.16,77.06 150.28,79.43 150.4,78.34 150.52,77.77 150.64,77.25 150.76,76.86 150.88,78.2 151,78.35 151.12,75.59 151.24,78.3 151.36,77.67 151.48,78.19 151.6,77.62 151.72,75.65 151.84,75.73 151.96,79.17 152.08,77.36 152.2,75.43 152.32,77.46 152.44,76.63 152.56,72.75 152.68,74.38 152.8,73.37 152.92,77.28 153.04,76.87 153.16,76.58 153.28,77.12 153.4,77.38 153.52,74.13 153.64,76.03 153.76,75.22 153.88,74.5 154,75.01 154.12,75.18 154.24,74.69 154.36,72.99 154.48,73.8 154.6,76.41 154.72,72.68 154.84,71.84 154.96,74.08 155.08,74.53 155.2,75.35 155.32,72.97 155.44,75.71 155.56,73.99 155.68,73.93 155.8,74.04 155.92,75.74 156.04,76.96 156.16,77.09 156.28,76.54 156.4,77.79 156.52,76.93 156.64,77.96 156.76,75.39 156.88,75.25 157,77.99 157.12,75.53 157.24,76.81 157.36,77.07 157.48,76.63 157.6,76.43 157.72,78.82 157.84,74.32 157.96,78.26 158.08,79.89 158.2,77.29 158.32,78.35 158.44,78.11 158.56,79.39 158.68,75.93 158.8,77.4 158.92,77.09 159.04,77.96 159.16,77.5 159.28,79.27 159.4,76.85 159.52,77.39 159.64,76.57 159.76,76.58 159.88,77.19 160,77.19 160.12,77.58 160.24,79.17 160.36,77.21 160.48,75.78 160.6,78.64 160.72,76.52 160.84,77.97 160.96,77.37 161.08,77.68 161.2,77.59 161.32,76.73 161.44,77.45 161.56,79.74 161.68,74.83 161.8,77.48 161.92,76.4 162.04,76.2 162.16,75.84 162.28,82.12 162.4,76.99 162.52,79.81 162.64,78.04 162.76,77.52 162.88,77.98 163,78.16 163.12,78.79 163.24,74.98 163.36,77.61 163.48,76.45 163.6,79 163.72,78.39 163.84,76.3 163.96,76.72 164.08,77.56 164.2,76.74 164.32,78.4 164.44,76.36 164.56,77.17 164.68,77.96 164.8,78.62 164.92,77.48 165.04,79.86 165.16,77.39 165.28,81.15 165.4,80.63 165.52,78.06 165.64,76.91 165.76,74.12 165.88,77.31 166,77.65 166.12,79.71 166.24,75.91 166.36,82.23 166.48,77.21 166.6,79 166.72,74.59 166.84,77.67 166.96,77.12 167.08,78.3 167.2,77.62 167.32,76.2 167.44,78.61 167.56,77.83 167.68,78.21 167.8,80.13 167.92,78.79 168.04,77.51 168.16,75.97 168.28,75.94 168.4,79.09 168.52,78.36 168.64,77.66 168.76,77.04 168.88,77.58 169,77.57 169.12,77.16 169.24,77.88 169.36,77.83 169.48,77.82 169.6,76.86 169.72,76.06 169.84,76.72 169.96,78.75 170.08,78.43 170.2,77.31 170.32,78.4 170.44,77.22 170.56,75.21 170.68,79.07 170.8,78 170.92,80.42 171.04,76.7 171.16,77.42 171.28,78.59 171.4,77.29 171.52,75.98 171.64,75.3 171.76,77.69 171.88,77.97 172,76.58 172.12,78.73 172.24,78.72 172.36,77.95 172.48,77.61 172.6,77.29 172.72,78.21 172.84,78.63 172.96,77.64 173.08,78.09 173.2,77.2 173.32,75.94 173.44,76.41 173.56,78.44 173.68,78.07 173.8,79.38 173.92,77.6 174.04,78.53 174.16,79.04 174.28,78.65 174.4,77.64 174.52,77.23 174.64,77.55 174.76,76.2 174.88,77.79 175,78.29 175.12,76.39 175.24,78.98 175.36,76.87 175.48,75.88 175.6,75.47 175.72,74.54 175.84,75.45 175.96,74.1 176.08,76.28 176.2,74.92 176.32,74.82 176.44,74.06 176.56,72.93 176.68,76.09 176.8,73.19 176.92,76.74 177.04,75.99 177.16,78.29 177.28,78.13 177.4,74.94 177.52,77.37 177.64,77.49 177.76,78.11 177.88,78.5 178,76.68 178.12,78.1 178.24,80.58 178.36,77.88 178.48,77.31 178.6,77.26 178.72,77.1 178.84,79.01 178.96,77.73 179.08,78.01 179.2,80.8 179.32,80.57 179.44,76.67 179.56,78.29 179.68,78.42 179.8,78.17 179.92,78.26 180.04,77.69 180.16,79.55 180.28,78.44 180.4,78.13 180.52,80.11 180.64,82.03 180.76,78.28 180.88,78.13 181,79.77 181.12,78.34 181.24,79.31 181.36,76.78 181.48,77.37 181.6,76.56 181.72,77.9 181.84,78.07 181.96,75.42 182.08,77.8 182.2,78.53 182.32,77.98 182.44,76.69 182.56,79.25 182.68,77 182.8,76.39 182.92,76.56 183.04,76.93 183.16,78.94 183.28,79.15 183.4,78.05 183.52,76.44 183.64,77.06 183.76,76.78 183.88,77.61 184,75.78 184.12,77.95 184.24,78.57 184.36,77.66 184.48,78.36 184.6,76.75 184.72,78.18 184.84,77.1 184.96,79.17 185.08,79.02 185.2,77.31 185.32,79.23 185.44,77.47 185.56,79.58 185.68,78.4 185.8,77.33 185.92,80.52 186.04,77.04 186.16,76.57 186.28,76.18 186.4,78.15 186.52,77.79 186.64,77.77 186.76,77.39 186.88,79.51 187,77.37 187.12,77.03 187.24,79.29 187.36,79.49 187.48,78.25 187.6,75.86 187.72,77.17 187.84,78.56 187.96,77.88 188.08,79.64 188.2,78.1 188.32,78.63 188.44,77.12 188.56,79.36 188.68,78.81 188.8,79.01 188.92,77.08 189.04,76.19 189.16,75.26 189.28,77.09 189.4,76.59 189.52,79.12 189.64,79.23 189.76,77.94 189.88,76.33 190,77.23 190.12,76.36 190.24,78.53 190.36,76.85 190.48,76.62 190.6,74.56 190.72,72.82 190.84,73.86 190.96,73.22 191.08,74.86 191.2,74.67 191.32,73.92 191.44,75.48 191.56,77.52 191.68,75.07 191.8,75.53 191.92,76.66 192.04,76.38 192.16,76.88 192.28,78.11 192.4,79.56 192.52,75.54 192.64,77.55 192.76,77.55 192.88,77.3 193,77.02 193.12,76.62 193.24,77.88 193.36,75.88 193.48,75.94 193.6,77.63 193.72,75.7 193.84,75.28 193.96,76.65 194.08,74.21 194.2,76.13 194.32,75.74 194.44,75.44 194.56,75.96 194.68,75.99 194.8,77.64 194.92,77.36 195.04,76.49 195.16,78.07 195.28,77.67 195.4,75.86 195.52,79.86 195.64,75.32 195.76,77.83 195.88,79.19 196,76.77 196.12,77.29 196.24,80.52 196.36,76.77 196.48,78.6 196.6,78.99 196.72,74.83 196.84,77.91 196.96,78.48 197.08,80.8 197.2,77.02 197.32,78 197.44,78.81 197.56,78.15 197.68,76.68 197.8,78.54 197.92,78.2 198.04,78.59 198.16,79.38 198.28,79.25 198.4,78.55 198.52,78.45 198.64,76.83 198.76,77.94 198.88,78.35 199,77.64 199.12,78.1 199.24,77.16 199.36,79.88 199.48,80.59 199.6,77.67 199.72,78.58 199.84,77.85 199.96,79.58 200.08,77.79 200.2,78.22 200.32,77.88 200.44,78.28 200.56,76.99 200.68,76.71 200.8,77.32 200.92,79.11 201.04,78.3 201.16,79.41 201.28,78.14 201.4,79.33 201.52,77.1 201.64,78.86 201.76,77.91 201.88,76.24 202,78.25 202.12,80.44 202.24,75.85 202.36,78.55 202.48,75.15 202.6,79.57 202.72,75.91 202.84,77.03 202.96,76.26 203.08,80.07"/>
<polyline fill="none" stroke="#0000ff" stroke-width="0.9" stroke-linejoin="round"  points="28,92.21 28.12,90.07 28.24,89.17 28.36,90.83 28.48,92.36 28.6,90.43 28.72,91.62 28.84,89.68 28.96,89.6 29.08,89.35 29.2,89.95 29.32,92.2 29.44,88.74 29.56,91.92 29.68,88.85 29.8,89.71 29.92,91.4 30.04,91.24 30.16,90.22 30.28,85.83 30.4,90.26 30.52,88.64 30.64,92.74 30.76,89.51 30.88,89.95 31,88.38 31.12,89.12 31.24,88.16 31.36,89.93 31.48,89.29 31.6,90.21 31.72,88.75 31.84,88.93 31.96,90.33 32.08,89.57 32.2,87.35 32.32,89.86 32.44,88.05 32.56,88.83 32.68,90.36 32.8,88.34 32.92,89.83 33.04,88.44 33.16,90.91 33.28,90.7 33.4,88.6 33.52,88.87 33.64,88.13 33.76,89.29 33.88,87.93 34,87.34 34.12,90.03 34.24,87.43 34.36,87.93 34.48,86.84 34.6,91.08 34.72,86.89 34.84,89.09 34.96,88 35.08,89.98 35.2,86.31 35.32,88.73 35.44,91.2 35.56,88.2 35.68,88.63 35.8,91.83 35.92,87.61 36.04,88.54 36.16,89.59 36.28,89.31 36.4,88.85 36.52,87.98 36.64,88.72 36.76,88.38 36.88,89.96 37,89.08 37.12,87.77 37.24,85.37 37.36,88.97 37.48,88.98 37.6,87.02 37.72,85.73 37.84,86.68 37.96,89.02 38.08,86.69 38.2,87.35 38.32,88.09 38.44,89.21 38.56,87.74 38.68,87.55 38.8,87.05 38.92,89.52 39.04,88.83 39.16,87.46 39.28,84.61 39.4,86.58 39.52,88.11 39.64,86.58 39.76,89.62 39.88,87.75 40,87.63 40.12,88 40.24,87.79 40.36,86.19 40.48,86.18 40.6,89.79 40.72,85.67 40.84,86.47 40.96,90.42 41.08,86.76 41.2,85.97 41.32,85.26 41.44,87.44 41.56,87.96 41.68,88.35 41.8,86.77 41.92,87.87 42.04,85.44 42.16,86.78 42.28,85.77 42.4,86.71 42.52,87.33 42.64,86.66 42.76,85.26 42.88,87.81 43,85.77 43.12,86.52 43.24,86.04 43.36,84.52 43.48,86.16 43.6,86.45 43.72,83.63 43.84,86.66 43.96,83.28 44.08,85.98 44.2,84.28 44.32,85.96 44.44,82.55 44.56,85.34 44.68,85.73 44.8,87.01 44.92,83.9 45.04,83.97 45.16,85.41 45.28,86.29 45.4,86.14 45.52,86.75 45.64,84.46 45.76,86.28 45.88,85.68 46,84.51 46.12,84.61 46.24,85.16 46.36,86.01 46.48,85.96 46.6,85.72 46.72,85.55 46.84,86.46 46.96,85.98 47.08,86.09 47.2,86.12 47.32,85.14 47.44,84.6 47.56,86.36 47.68,86.28 47.8,85.56 47.92,85.34 48.04,87.92 48.16,84.97 48.28,85.6 48.4,87.08 48.52,84.54 48.64,86.01 48.76,87.96 48.88,86.97 49,86.64 49.12,86.6 49.24,86.06 49.36,87.04 49.48,85.77 49.6,85.47 49.72,86.08 49.84,87.02 49.96,86.37 50.08,86.77 50.2,83.68 50.32,87.39 50.44,88.72 50.56,87.57 50.68,85.68 50.8,85.08 50.92,86.38 51.04,84.94 51.16,86.92 51.28,85.49 51.4,87.41 51.52,87.68 51.64,83.79 51.76,88.42 51.88,84.91 52,84.43 52.12,85.45 52.24,84.62 52.36,87.37 52.48,84.44 52.6,87.41 52.72,88.54 52.84,86.92 52.96,86.87 53.08,86.25 53.2,84.93 53.32,86.91 53.44,86.76 53.56,87.18 53.68,89.31 53.8,86.79 53.92,86.9 54.04,88.23 54.16,84.91 54.28,85.17 54.4,86.08 54.52,85.79 54.64,87.37 54.76,86.24 54.88,88.64 55,88.42 55.12,88.01 55.24,86.87 55.36,86.78 55.48,87.74 55.6,85.91 55.72,87.29 55.84,88.16 55.96,87.21 56.08,88.8 56.2,88.43 56.32,86.12 56.44,87.25 56.56,85.44 56.68,87.84 56.8,86.22 56.92,88.31 57.04,87.73 57.16,88.44 57.28,87.19 57.4,85.72 57.52,86.71 57.64,87.27 57.76,89.09 57.88,88.04 58,88.36 58.12,89.72 58.24,88.04 58.36,89.2 58.48,86.02 58.6,88.9 58.72,87.52 58.84,87.68 58.96,85.33 59.08,88.31 59.2,89.85 59.32,85.85 59.44,88.07 59.56,87.23 59.68,89.43 59.8,87.64 59.92,88.69 60.04,87.75 60.16,89.01 60.28,88.11 60.4,88.33 60.52,88.41 60.64,86.75 60.76,88.77 60.88,89.93 61,87.86 61.12,89.82 61.24,86.18 61.36,84.64 61.48,87.05 61.6,88.12 61.72,88.74 61.84,88.66 61.96,88.71 62.08,90.09 62.2,88.32 62.32,87.44 62.44,87.5 62.56,91.39 62.68,86.3 62.8,88.83 62.92,90.75 63.04,89.66 63.16,88.19 63.28,89.18 63.4,90.2 63.52,90.63 63.64,88.24 63.76,88.96 63.88,89.63 64,90.64 64.12,91.01 64.24,89.04 64.36,87.8 64.48,89.96 64.6,91.58 64.72,90.36 64.84,89.86 64.96,92.39 65.08,88.46 65.2,89.93 65.32,89.07 65.44,89.81 65.56,89.89 65.68,91.56 65.8,88.77 65.92,89.26 66.04,88.08 66.16,90.5 66.28,89.45 66.4,90.49 66.52,88.8 66.64,89.65 66.76,91.29 66.88,89.93 67,90.88 67.12,90.8 67.24,89.82 67.36,88.46 67.48,91.42 67.6,90.51 67.72,92.46 67.84,88.07 67.96,88.49 68.08,87.98 68.2,89.47 68.32,91.7 68.44,91.19 68.56,90.53 68.68,91.09 68.8,91.5 68.92,90.31 69.04,91.15 69.16,90.88 69.28,88.24 69.4,90.34 69.52,92.38 69.64,90.39 69.76,90.11 69.88,90.21 70,90.38 70.12,92.27 70.24,90.7 70.36,89.86 70.48,85.92 70.6,90.44 70.72,88.87 70.84,89.06 70.96,92.11 71.08,92.04 71.2,89.05 71.32,92.26 71.44,91.85 71.56,90.45 71.68,92.22 71.8,89.54 71.92,90.06 72.04,89.82 72.16,90.93 72.28,92.55 72.4,90.03 72.52,90.27 72.64,91.02 72.76,93.47 72.88,93.04 73,92.71 73.12,90.94 73.24,90.3 73.36,91.24 73.48,91.89 73.6,90.77 73.72,92.22 73.84,94.02 73.96,89.25 74.08,92.03 74.2,94.11 74.32,91.28 74.44,92.87 74.56,90.81 74.68,92.55 74.8,90.64 74.92,91.96 75.04,92.2 75.16,93.64 75.28,93.19 75.4,90.41 75.52,92.21 75.64,92.36 75.76,93.08 75.88,91.59 76,91.54 76.12,90.88 76.24,90.26 76.36,92.81 76.48,91.64 76.6,92.88 76.72,90.39 76.84,90.5 76.96,91.25 77.08,91.16 77.2,92.53 77.32,91.87 77.44,92.95 77.56,91.14 77.68,93.41 77.8,90.51 77.92,91.91 78.04,91.89 78.16,93.15 78.28,92.7 78.4,92.3 78.52,93.48 78.64,92.74 78.76,93.15 78.88,93.43 79,92.48 79.12,92.23 79.24,92.95 79.36,92.11 79.48,93.04 79.6,93.88 79.72,93.59 79.84,91.95 79.96,91.15 80.08,94.43 80.2,92.49 80.32,93.91 80.44,92.21 80.56,92.41 80.68,93.49 80.8,93.13 80.92,92.46 81.04,94.59 81.16,94.77 81.28,93.27 81.4,92.76 81.52,91.81 81.64,92.65 81.76,91.68 81.88,91.33 82,89.85 82.12,88.25 82.24,89.05 82.36,89.32 82.48,92.69 82.6,89.77 82.72,88.04 82.84,89.51 82.96,89.45 83.08,90.9 83.2,93.89 83.32,92.95 83.44,91.99 83.56,93.09 83.68,91.99 83.8,91.28 83.92,91.33 84.04,91.99 84.16,94.64 84.28,91.49 84.4,94.48 84.52,94.6 84.64,92.88 84.76,92 84.88,92.24 85,93.11 85.12,93.91 85.24,93.18 85.36,94.31 85.48,94.56 85.6,93.61 85.72,93.61 85.84,93.17 85.96,93.65 86.08,91.99 86.2,93.75 86.32,95.16 86.44,92.32 86.56,95.79 86.68,92.22 86.8,92.35 86.92,93.68 87.04,91.14 87.16,92.47 87.28,91.64 87.4,92.29 87.52,93.26 87.64,92.74 87.76,94.7 87.88,94.37 88,96.15 88.12,94.14 88.24,93.42 88.36,95.86 88.48,92.93 88.6,92.79 88.72,98.1 88.84,94.41 88.96,93.77 89.08,94.38 89.2,94.53 89.32,91.96 89.44,93.42 89.56,92.17 89.68,93.66 89.8,92.74 89.92,93.84 90.04,94.06 90.16,92.48 90.28,93.3 90.4,91.76 90.52,92.94 90.64,93.11 90.76,92.23 90.88,89.02 91,90.11 91.12,90.41 91.24,89.74 91.36,89.42 91.48,88.12 91.6,90.79 91.72,90.18 91.84,91.89 91.96,92.78 92.08,93.6 92.2,92.49 92.32,93.59 92.44,92.26 92.56,91.97 92.68,94.28 92.8,93.61 92.92,91.83 93.04,92.73 93.16,93.73 93.28,95.5 93.4,94.91 93.52,94.61 93.64,91.62 93.76,93.54 93.88,94.16 94,94.02 94.12,93.97 94.24,93.11 94.36,95.21 94.48,94.57 94.6,92.23 94.72,90.32 94.84,92.46 94.96,87.56 95.08,87.18 95.2,85.34 95.32,79.58 95.44,79.21 95.56,77.89 95.68,79.65 95.8,81.34 95.92,87.3 96.04,86.88 96.16,88.57 96.28,91.73 96.4,91.45 96.52,92.21 96.64,94.65 96.76,92.55 96.88,93.14 97,93.89 97.12,92.72 97.24,91.59 97.36,95.3 97.48,93.24 97.6,93.56 97.72,93.8 97.84,93.14 97.96,93.07 98.08,94.52 98.2,97.12 98.32,95.24 98.44,95.28 98.56,89.67 98.68,94.43 98.8,93.12 98.92,95.98 99.04,95.83 99.16,94.58 99.28,94.45 99.4,93.9 99.52,92.84 99.64,95.27 99.76,93.03 99.88,93.27 100,94.3 100.12,93.85 100.24,94.97 100.36,95.85 100.48,94.98 100.6,94.94 100.72,94.75 100.84,95.72 100.96,92.63 101.08,95.18 101.2,93.7 101.32,93.37 101.44,94.8 101.56,94.36 101.68,95.49 101.8,94.13 101.92,92.17 102.04,94.77 102.16,97.12 102.28,95.87 102.4,96.55 102.52,94.38 102.64,93.26 102.76,93.63 102.88,95.75 103,96.04 103.12,94.11 103.24,94.65 103.36,95.27 103.48,92.97 103.6,94.59 103.72,96.87 103.84,97.53 103.96,94.9 104.08,97.14 104.2,94.44 104.32,94.93 104.44,91.52 104.56,96.18 104.68,95.25 104.8,98.73 104.92,95.49 105.04,95.34 105.16,93.06 105.28,96.87 105.4,94.74 105.52,94.98 105.64,92.64 105.76,96.25 105.88,96.97 106,94.51 106.12,95.32 106.24,95.68 106.36,96.34 106.48,95.37 106.6,97.24 106.72,94.99 106.84,94.58 106.96,94.75 107.08,91.78 107.2,94.38 107.32,96.48 107.44,95.63 107.56,94.4 107.68,95.75 107.8,93.04 107.92,95.04 108.04,95.99 108.16,96.19 108.28,94.51 108.4,96.46 108.52,97.57 108.64,94.94 108.76,96.3 108.88,93.66 109,93.21 109.12,96.18 109.24,95.53 109.36,95.72 109.48,94.83 109.6,95.72 109.72,96.46 109.84,97.51 109.96,95.3 110.08,93.66 110.2,96.24 110.32,96.27 110.44,96.37 110.56,95.81 110.68,98.28 110.8,95.7 110.92,96.22 111.04,93.51 111.16,94.98 111.28,94.87 111.4,95.63 111.52,96.08 111.64,94.83 111.76,97.69 111.88,94.48 112,95.15 112.12,96 112.24,94.3 112.36,96.41 112.48,96.49 112.6,92.35 112.72,97.98 112.84,95.88 112.96,96.12 113.08,94.7 113.2,93.89 113.32,95.1 113.44,95.47 113.56,94.3 113.68,94.76 113.8,93.12 113.92,94.57 114.04,94.64 114.16,97.44 114.28,95.26 114.4,95.12 114.52,94.66 114.64,96.97 114.76,95.48 114.88,96.21 115,93.63 115.12,97.33 115.24,96.44 115.36,96.63 115.48,97.43 115.6,95.8 115.72,95.84 115.84,96.67 115.96,96.54 116.08,95.78 116.2,96.12 116.32,95.49 116.44,96.73 116.56,99.09 116.68,96.1 116.8,98.27 116.92,94.34 117.04,95.85 117.16,98.1 117.28,95.52 117.4,94.3 117.52,97.75 117.64,96.78 117.76,94.78 117.88,97.06 118,94.91 118.12,95.92 118.24,96 118.36,95.63 118.48,94.92 118.6,95.77 118.72,95.04 118.84,96.27 118.96,96.18 119.08,97.07 119.2,95.69 119.32,94.68 119.44,94.72 119.56,95.6 119.68,98 119.8,97.21 119.92,95.49 120.04,97.32 120.16,94.9 120.28,97.41 120.4,95.81 120.52,97.14 120.64,96.97 120.76,95.94 120.88,97.13 121,95.04 121.12,96.19 121.24,97.53 121.36,101 121.48,97.09 121.6,96.79 121.72,95.12 121.84,97.5 121.96,94.39 122.08,95.38 122.2,96.72 122.32,94.92 122.44,98.09 122.56,97.58 122.68,95.67 122.8,95.68 122.92,94.81 123.04,94.72 123.16,96.85 123.28,97.06 123.4,95.86 123.52,96.96 123.64,96.11 123.76,96.77 123.88,94.93 124,96.37 124.12,97.39 124.24,97.89 124.36,95.84 124.48,95.99 124.6,97.97 124.72,98.44 124.84,94.66 124.96,95.89 125.08,96.66 125.2,97.8 125.32,95.43 125.44,97.14 125.56,96.05 125.68,99.15 125.8,96.9 125.92,96.25 126.04,97.59 126.16,97.63 126.28,97.2 126.4,95.16 126.52,99.31 126.64,94.87 126.76,97.88 126.88,94.92 127,94.88 127.12,95.61 127.24,95.27 127.36,97 127.48,97.29 127.6,95.66 127.72,95.02 127.84,97.18 127.96,93.84 128.08,93.86 128.2,96.81 128.32,96.59 128.44,96.8 128.56,95.26 128.68,93.9 128.8,95.59 128.92,96.12 129.04,94.16 129.16,96.77 129.28,93.49 129.4,93.86 129.52,96.33 129.64,96.04 129.76,92.24 129.88,94.61 130,95.36 130.12,96.77 130.24,94.89 130.36,97.39 130.48,93.91 130.6,94.99 130.72,96.96 130.84,97.54 130.96,94.74 131.08,95.64 131.2,95.95 131.32,96.11 131.44,95.94 131.56,97.18 131.68,96.81 131.8,97.88 131.92,99.18 132.04,95.94 132.16,96.47 132.28,96.55 132.4,94.04 132.52,95.5 132.64,97.76 132.76,94.81 132.88,97.79 133,96.98 133.12,96.49 133.24,97.28 133.36,97.21 133.48,97.75 133.6,96.21 133.72,96.42 133.84,96.4 133.96,98.86 134.08,97.78 134.2,95.63 134.32,96.32 134.44,95.89 134.56,96.73 134.68,96.96 134.8,99.37 134.92,94.62 135.04,97.92 135.16,97.24 135.28,95.93 135.4,96.57 135.52,96.18 135.64,95.5 135.76,97.92 135.88,95.01 136,98.95 136.12,96.34 136.24,98.51 136.36,97.25 136.48,98.21 136.6,100.16 136.72,98.04 136.84,96.86 136.96,95.84 137.08,97.58 137.2,97.63 137.32,99.23 137.44,92.42 137.56,97.35 137.68,98.05 137.8,95.39 137.92,96.57 138.04,99.28 138.16,98.48 138.28,95.83 138.4,98.5 138.52,98.22 138.64,97.76 138.76,97.3 138.88,97.14 139,95.87 139.12,95.46 139.24,97.73 139.36,97.05 139.48,99.02 139.6,96.51 139.72,94.13 139.84,96.05 139.96,97.23 140.08,97.35 140.2,96.99 140.32,95.97 140.44,98.65 140.56,96.16 140.68,97.75 140.8,96.61 140.92,95.56 141.04,98.57 141.16,94.06 141.28,95.97 141.4,97.46 141.52,96.55 141.64,97.83 141.76,96.86 141.88,96.46 142,99.47 142.12,96.73 142.24,96.81 142.36,95.75 142.48,96.14 142.6,97.75 142.72,98.6 142.84,97.01 142.96,95.69 143.08,97.81 143.2,95.65 143.32,96.64 143.44,96.74 143.56,96.06 143.68,96.64 143.8,96.28 143.92,96.13 144.04,99.13 144.16,97.91 144.28,98.91 144.4,97.13 144.52,97.98 144.64,97.98 144.76,98.48 144.88,99.51 145,96.83 145.12,97.39 145.24,97.04 145.36,93.06 145.48,95.5 145.6,97.14 145.72,97.85 145.84,96.46 145.96,98.43 146.08,98.61 146.2,96.66 146.32,98.78 146.44,99.12 146.56,97.68 146.68,96.03 146.8,98.85 146.92,98.1 147.04,96.73 147.16,99.47 147.28,98.47 147.4,98.41 147.52,98.08 147.64,98.59 147.76,96.41 147.88,96.28 148,97.02 148.12,98.21 148.24,96.74 148.36,100.57 148.48,96.94 148.6,96.55 148.72,98.54 148.84,98.09 148.96,97.2 149.08,99.03 149.2,97.73 149.32,98.2 149.44,98.12 149.56,96.9 149.68,99.25 149.8,98.23 149.92,98.14 150.04,93.71 150.16,96.24 150.28,96.38 150.4,97.01 150.52,97.48 150.64,98.34 150.76,97.99 150.88,97.8 151,98.63 151.12,97.16 151.24,96.59 151.36,97.65 151.48,99.1 151.6,97.7 151.72,95.52 151.84,97.73 151.96,96.86 152.08,97.18 152.2,98.52 152.32,97.85 152.44,97.01 152.56,98.33 152.68,97.81 152.8,97.43 152.92,97.65 153.04,97.59 153.16,98.34 153.28,96.74 153.4,97.27 153.52,96.11 153.64,95.71 153.76,97.1 153.88,96.72 154,96.85 154.12,96.59 154.24,96.61 154.36,96.45 154.48,96.34 154.6,95.19 154.72,97.08 154.84,95.15 154.96,97.13 155.08,93.78 155.2,94.87 155.32,97.37 155.44,96.22 155.56,95.79 155.68,97.16 155.8,95.68 155.92,97.1 156.04,92.36 156.16,96.69 156.28,96.53 156.4,97.95 156.52,98.37 156.64,96.41 156.76,99.26 156.88,98.45 157,95.07 157.12,94.71 157.24,96.26 157.36,97.37 157.48,96.73 157.6,96.62 157.72,96.23 157.84,97.16 157.96,97.41 158.08,99.57 158.2,97.29 158.32,94.82 158.44,98.05 158.56,97.11 158.68,97.26 158.8,99.34 158.92,97.24 159.04,98.89 159.16,97.55 159.28,96.7 159.4,98.15 159.52,96.88 159.64,98.99 159.76,98.68 159.88,97.5 160,98.29 160.12,98.24 160.24,97.28 160.36,97.38 160.48,97.34 160.6,98.31 160.72,96.9 160.84,97.73 160.96,98.1 161.08,95.87 161.2,97.15 161.32,97.02 161.44,100.15 161.56,96.81 161.68,98.15 161.8,100.33 161.92,98.06 162.04,95.8 162.16,97.8 162.28,98.86 162.4,97.34 162.52,98.95 162.64,98.39 162.76,98.16 162.88,98.22 163,97.1 163.12,97.4 163.24,97.77 163.36,98.3 163.48,98.19 163.6,97.36 163.72,100.62 163.84,98.16 163.96,95.03 164.08,96.84 164.2,96.81 164.32,97.5 164.44,97.42 164.56,97.44 164.68,96.74 164.8,98.52 164.92,97.08 165.04,95.86 165.16,97.77 165.28,99.1 165.4,98.62 165.52,97.24 165.64,97.32 165.76,97.87 165.88,97.55 166,97.72 166.12,99.57 166.24,98.05 166.36,98.75 166.48,99.09 166.6,96.68 166.72,99.75 166.84,98.6 166.96,98.91 167.08,96.82 167.2,98.76 167.32,98.3 167.44,97.21 167.56,100.43 167.68,98.48 167.8,97.56 167.92,98.06 168.04,98.89 168.16,99.15 168.28,98.52 168.4,98.26 168.52,99.55 168.64,96.44 168.76,97.78 168.88,96.79 169,97.98 169.12,99.53 169.24,98.63 169.36,95.57 169.48,97.55 169.6,99.24 169.72,97.28 169.84,97.78 169.96,98.25 170.08,95.81 170.2,98.8 170.32,98.3 170.44,98.57 170.56,96.79 170.68,97.04 170.8,97.24 170.92,98.99 171.04,95.66 171.16,98.08 171.28,100 171.4,99.44 171.52,97.12 171.64,97.19 171.76,99.92 171.88,96.39 172,99.54 172.12,99.8 172.24,97.5 172.36,97.66 172.48,98.07 172.6,96.98 172.72,96.85 172.84,97.52 172.96,97.25 173.08,97.47 173.2,97.75 173.32,97.46 173.44,96.43 173.56,99.71 173.68,94.38 173.8,97.25 173.92,98.65 174.04,96.41 174.16,98.71 174.28,99.46 174.4,97.03 174.52,98.27 174.64,96.75 174.76,98.62 174.88,95.46 175,98.29 175.12,99.61 175.24,98.59 175.36,99.6 175.48,98.78 175.6,96.68 175.72,98.93 175.84,98.63 175.96,95.57 176.08,98.67 176.2,97.62 176.32,98.5 176.44,97.05 176.56,98.17 176.68,98.43 176.8,97.71 176.92,98.19 177.04,95.66 177.16,99.67 177.28,96.82 177.4,95.6 177.52,96.87 177.64,97.15 177.76,98.74 177.88,95.33 178,98.45 178.12,97.02 178.24,100.2 178.36,98.76 178.48,100.39 178.6,96.97 178.72,98.91 178.84,97.05 178.96,98.19 179.08,98.93 179.2,96.32 179.32,96.85 179.44,96.82 179.56,96.43 179.68,97.33 179.8,97.07 179.92,96.51 180.04,98.29 180.16,99.18 180.28,96.67 180.4,97.54 180.52,98.2 180.64,97.92 180.76,97.39 180.88,99.13 181,99.17 181.12,98.99 181.24,97.97 181.36,100.49 181.48,100.21 181.6,97.36 181.72,98.97 181.84,99.45 181.96,97.31 182.08,98.69 182.2,98.28 182.32,97.43 182.44,100.35 182.56,96.43 182.68,97.62 182.8,95.95 182.92,99.75 183.04,99.98 183.16,99.67 183.28,98.61 183.4,99.41 183.52,101.01 183.64,99.44 183.76,99.33 183.88,97.23 184,98.77 184.12,96.17 184.24,96.93 184.36,95.51 184.48,98.78 184.6,99.5 184.72,96.72 184.84,100.31 184.96,99.99 185.08,100.14 185.2,97.78 185.32,98.73 185.44,99.44 185.56,97.88 185.68,97.05 185.8,98.72 185.92,95.95 186.04,98.49 186.16,99.66 186.28,98.69 186.4,99.23 186.52,98.91 186.64,99.02 186.76,98.51 186.88,97.4 187,98.09 187.12,98.27 187.24,99.81 187.36,100.23 187.48,98.85 187.6,97.5 187.72,97.53 187.84,98.16 187.96,100.99 188.08,98.77 188.2,98.32 188.32,97.51 188.44,99.41 188.56,98.73 188.68,98.34 188.8,98.06 188.92,100.35 189.04,98.23 189.16,101.04 189.28,99.85 189.4,98.48 189.52,99.44 189.64,98.28 189.76,97.48 189.88,98.13 190,97.39 190.12,99.45 190.24,98.46 190.36,99.25 190.48,99.4 190.6,94.87 190.72,98.81 190.84,96.39 190.96,99.59 191.08,97.46 191.2,98.59 191.32,100.04 191.44,96.51 191.56,98.7 191.68,98.39 191.8,96.31 191.92,99.24 192.04,99.18 192.16,97.91 192.28,97.67 192.4,102.2 192.52,98.05 192.64,96.44 192.76,97.44 192.88,98.1 193,97.75 193.12,98.43 193.24,97.32 193.36,99.15 193.48,97.98 193.6,96.97 193.72,96.14 193.84,98.1 193.96,99.52 194.08,99.4 194.2,98.17 194.32,98.58 194.44,98.81 194.56,100.91 194.68,98.37 194.8,99.11 194.92,99.21 195.04,97.48 195.16,98.8 195.28,98.77 195.4,98.09 195.52,99.24 195.64,99.4 195.76,99.9 195.88,98.38 196,98.82 196.12,101.31 196.24,97.34 196.36,98.87 196.48,99.64 196.6,98.79 196.72,99.38 196.84,98.83 196.96,99.5 197.08,100.11 197.2,98.38 197.32,98.87 197.44,98.58 197.56,98.18 197.68,98.63 197.8,97.35 197.92,99.51 198.04,100.62 198.16,99.1 198.28,100.14 198.4,97.56 198.52,100.42 198.64,97.86 198.76,98.62 198.88,100.81 199,97.46 199.12,99.69 199.24,99.02 199.36,98.52 199.48,97.69 199.6,99.19 199.72,98.17 199.84,99.91 199.96,100.12 200.08,97.13 200.2,101.02 200.32,98.36 200.44,97.37 200.56,97.45 200.68,98.84 200.8,98.5 200.92,96.84 201.04,98.13 201.16,99.35 201.28,97.36 201.4,97.69 201.52,100.6 201.64,100.28 201.76,96.9 201.88,97.21 202,99.63 202.12,100.05 202.24,98.49 202.36,98.26 202.48,99.42 202.6,95.87 202.72,96.25 202.84,97.38 202.96,99.95 203.08,98.61"/>
<polyline fill="none" stroke="#ff8000" stroke-width="0.9" stroke-linejoin="round"  points="28,109.28 28.12,109.04 28.24,108.04 28.36,109.49 28.48,109.77 28.6,109.78 28.72,108 28.84,109.18 28.96,107.37 29.08,110.27 29.2,108.12 29.32,108.91 29.44,107.06 29.56,108.52 29.68,108 29.8,107.16 29.92,110.98 30.04,109.14 30.16,109.31 30.28,111.3 30.4,108.85 30.52,110.73 30.64,108.93 30.76,110.29 30.88,109.4 31,109.16 31.12,108.51 31.24,109.07 31.36,110.58 31.48,106.42 31.6,108.54 31.72,108.19 31.84,108.29 31.96,106.42 32.08,109.37 32.2,107.6 32.32,108.26 32.44,107.92 32.56,106.61 32.68,107.93 32.8,106.37 32.92,107.33 33.04,107.99 33.16,108.3 33.28,108.34 33.4,108.1 33.52,110.57 33.64,108.67 33.76,106.82 33.88,107.46 34,107.38 34.12,107.88 34.24,107.39 34.36,107.08 34.48,109.81 34.6,108.01 34.72,107.57 34.84,107.63 34.96,107.64 35.08,109.38 35.2,108.35 35.32,109.03 35.44,105.22 35.56,108.1 35.68,108.87 35.8,109.85 35.92,107.68 36.04,107.34 36.16,108.24 36.28,106.91 36.4,105.57 36.52,106.83 36.64,109.32 36.76,108.77 36.88,108.22 37,106.24 37.12,110.14 37.24,106.05 37.36,107.23 37.48,105.7 37.6,108.71 37.72,107.73 37.84,107.06 37.96,107.29 38.08,107.1 38.2,107.34 38.32,105.05 38.44,108.2 38.56,107.06 38.68,106.64 38.8,107.04 38.92,107.37 39.04,108.75 39.16,108.95 39.28,107.04 39.4,106.23 39.52,105.31 39.64,106.3 39.76,107.17 39.88,106.65 40,107 40.12,107.73 40.24,107.38 40.36,107.19 40.48,107.6 40.6,107.08 40.72,106.83 40.84,107.37 40.96,104.94 41.08,108.21 41.2,105.9 41.32,107.73 41.44,106.82 41.56,108.01 41.68,106.82 41.8,105.74 41.92,107.95 42.04,106.14 42.16,106.88 42.28,106.82 42.4,107.21 42.52,107.62 42.64,104.7 42.76,104.99 42.88,106.24 43,107.11 43.12,108.64 43.24,107.08 43.36,105.67 43.48,109.43 43.6,106.51 43.72,106.59 43.84,106.24 43.96,104.95 44.08,107.64 44.2,107.05 44.32,106.26 44.44,105.3 44.56,106.78 44.68,108.08 44.8,105.82 44.92,105.35 45.04,106.97 45.16,104.74 45.28,104.05 45.4,106.55 45.52,105.71 45.64,106.15 45.76,105.84 45.88,107.41 46,106.19 46.12,105.76 46.24,105.91 46.36,107.09 46.48,107.71 46.6,107.38 46.72,107.14 46.84,102.74 46.96,105.26 47.08,106.01 47.2,106.68 47.32,104.57 47.44,107.91 47.56,106.68 47.68,105.67 47.8,106.33 47.92,105.97 48.04,105.52 48.16,106.92 48.28,105.87 48.4,104.83 48.52,105.69 48.64,105.73 48.76,105.23 48.88,107.81 49,105.24 49.12,108.39 49.24,107.46 49.36,105.46 49.48,106.65 49.6,107.83 49.72,106.34 49.84,105.26 49.96,106.72 50.08,108.8 50.2,104.99 50.32,107.26 50.44,107.7 50.56,106.56 50.68,106.28 50.8,106.38 50.92,107.9 51.04,107.43 51.16,105.7 51.28,109.36 51.4,105.41 51.52,107.58 51.64,107.08 51.76,108.21 51.88,107.31 52,108.1 52.12,106.93 52.24,108.95 52.36,107.38 52.48,109.38 52.6,106.27 52.72,108.37 52.84,107.59 52.96,107.29 53.08,106.49 53.2,109.42 53.32,108.18 53.44,105.67 53.56,107.98 53.68,105.51 53.8,109.07 53.92,106.96 54.04,107.55 54.16,107.38 54.28,107.78 54.4,107.03 54.52,106.95 54.64,107.24 54.76,107.84 54.88,108.56 55,108.78 55.12,107.86 55.24,107.11 55.36,105.65 55.48,108.22 55.6,108.46 55.72,107.11 55.84,108.46 55.96,109.01 56.08,107.72 56.2,108.8 56.32,108 56.44,105.77 56.56,107.18 56.68,107.27 56.8,108.32 56.92,106.81 57.04,107.29 57.16,106.74 57.28,107.77 57.4,108.34 57.52,108.28 57.64,108.75 57.76,108.08 57.88,108.18 58,108.05 58.12,108.08 58.24,109.68 58.36,105.26 58.48,107.82 58.6,109.4 58.72,109.3 58.84,106.88 58.96,108.48 59.08,109.07 59.2,107.66 59.32,106.63 59.44,107.8 59.56,106.89 59.68,108.95 59.8,107.32 59.92,110.24 60.04,108.46 60.16,107.45 60.28,107.8 60.4,107.18 60.52,108.83 60.64,110.07 60.76,108.94 60.88,109.5 61,107.47 61.12,108.87 61.24,111.1 61.36,107.04 61.48,109.97 61.6,109.93 61.72,106.6 61.84,107.11 61.96,107.64 62.08,109.81 62.2,108.3 62.32,108.61 62.44,109.6 62.56,108.98 62.68,109.12 62.8,108.55 62.92,110.16 63.04,108.1 63.16,110.82 63.28,108.63 63.4,108.15 63.52,109.9 63.64,109.58 63.76,106.93 63.88,109.38 64,107.67 64.12,108.27 64.24,108.4 64.36,107.83 64.48,109.65 64.6,108.87 64.72,111.44 64.84,109.23 64.96,108.07 65.08,106.55 65.2,108.42 65.32,109.58 65.44,109.46 65.56,111.18 65.68,110.78 65.8,109.68 65.92,109.92 66.04,108.56 66.16,109.94 66.28,110.51 66.4,110.28 66.52,109.1 66.64,107.78 66.76,108.86 66.88,110.08 67,107.06 67.12,109.3 67.24,110.34 67.36,109.25 67.48,108.67 67.6,112.79 67.72,111.47 67.84,109.69 67.96,111.46 68.08,111.46 68.2,108.81 68.32,113.03 68.44,109.07 68.56,109.84 68.68,106.84 68.8,108.62 68.92,108.76 69.04,110.22 69.16,111.45 69.28,111.44 69.4,110.02 69.52,112.03 69.64,109.37 69.76,111.45 69.88,110.08 70,110.67 70.12,110.49 70.24,110.62 70.36,110.44 70.48,109.66 70.6,109.92 70.72,111.05 70.84,110.47 70.96,109.33 71.08,109.99 71.2,110.78 71.32,110.61 71.44,110.88 71.56,110.8 71.68,110 71.8,110.76 71.92,109.25 72.04,107.6 72.16,112.93 72.28,108.98 72.4,109.77 72.52,109.5 72.64,111.54 72.76,109.53 72.88,111.18 73,110.35 73.12,109.54 73.24,109.18 73.36,111.44 73.48,112.97 73.6,113.18 73.72,112.58 73.84,111.28 73.96,111.31 74.08,110.88 74.2,111.14 74.32,110.65 74.44,111.78 74.56,113.26 74.68,109.04 74.8,111.37 74.92,111.6 75.04,111.29 75.16,110.08 75.28,110.94 75.4,110.66 75.52,110 75.64,111.26 75.76,110.76 75.88,110.61 76,112 76.12,110.08 76.24,111.75 76.36,110.6 76.48,111.76 76.6,111.38 76.72,112.68 76.84,110.25 76.96,110.49 77.08,110.42 77.2,111.56 77.32,112.21 77.44,112.59 77.56,110.86 77.68,111.52 77.8,109.67 77.92,109.02 78.04,110.52 78.16,111.34 78.28,109.79 78.4,109.56 78.52,112.11 78.64,110.65 78.76,109.7 78.88,114.11 79,111.76 79.12,111.24 79.24,112.34 79.36,112.84 79.48,113.33 79.6,109.59 79.72,109.97 79.84,111.5 79.96,110.18 80.08,113.22 80.2,109.92 80.32,110.89 80.44,111.96 80.56,112.32 80.68,111.07 80.8,111.4 80.92,114.12 81.04,112.02 81.16,111.87 81.28,112.57 81.4,111.2 81.52,111.09 81.64,110.67 81.76,110.47 81.88,108.19 82,109.21 82.12,107.55 82.24,109.2 82.36,106.78 82.48,110.82 82.6,112.52 82.72,109.56 82.84,109.76 82.96,108.32 83.08,115.42 83.2,111.6 83.32,113.89 83.44,111.02 83.56,113.07 83.68,111.1 83.8,112.13 83.92,110.16 84.04,111.36 84.16,112.65 84.28,111.63 84.4,111.66 84.52,113.03 84.64,112.79 84.76,113.56 84.88,109.56 85,111.63 85.12,112.68 85.24,110.56 85.36,109.95 85.48,113.24 85.6,111.12 85.72,111.6 85.84,112.96 85.96,111.95 86.08,112.85 86.2,111.38 86.32,112.16 86.44,113.54 86.56,112.72 86.68,109.97 86.8,114.16 86.92,112.45 87.04,111.4 87.16,113.93 87.28,110.5 87.4,114.47 87.52,111.73 87.64,114.16 87.76,112.39 87.88,110.99 88,112.56 88.12,112.82 88.24,113 88.36,110.94 88.48,111.5 88.6,113.02 88.72,113.3 88.84,111.23 88.96,111.47 89.08,110.51 89.2,113.32 89.32,113.38 89.44,111.59 89.56,111.03 89.68,113.85 89.8,110.78 89.92,112.64 90.04,111.26 90.16,110.48 90.28,112.47 90.4,111.99 90.52,113.26 90.64,114.17 90.76,111.04 90.88,112.91 91,111.27 91.12,109.03 91.24,108.31 91.36,110.56 91.48,109.02 91.6,109.85 91.72,111.13 91.84,110.88 91.96,110.87 92.08,112.73 92.2,113.55 92.32,111.94 92.44,110.94 92.56,112.56 92.68,110.92 92.8,111.86 92.92,113.92 93.04,115.29 93.16,112.99 93.28,111.85 93.4,113.42 93.52,111.45 93.64,111.77 93.76,114.17 93.88,113.27 94,110.89 94.12,110.48 94.24,113.09 94.36,111.87 94.48,110.88 94.6,109.59 94.72,109.43 94.84,106.75 94.96,108.2 95.08,104.82 95.2,102.59 95.32,100.59 95.44,101.2 95.56,99.68 95.68,101.72 95.8,101.96 95.92,105.13 96.04,105.4 96.16,106.89 96.28,106.3 96.4,107.38 96.52,111.97 96.64,115.11 96.76,110.78 96.88,111.27 97,112.93 97.12,113.2 97.24,112.02 97.36,112.91 97.48,111.11 97.6,113.78 97.72,113.95 97.84,114.78 97.96,112.85 98.08,112.78 98.2,113.58 98.32,114.32 98.44,113.67 98.56,112.34 98.68,114.42 98.8,114.26 98.92,112.44 99.04,113.75 99.16,113.81 99.28,113.67 99.4,114.35 99.52,113.4 99.64,112.62 99.76,112.86 99.88,112.23 100,112.33 100.12,112.77 100.24,112.87 100.36,114.63 100.48,112.08 100.6,113.39 100.72,112.8 100.84,115.09 100.96,113.77 101.08,113.08 101.2,114.4 101.32,113.59 101.44,113.01 101.56,115.22 101.68,114.33 101.8,115.46 101.92,114.85 102.04,114.44 102.16,113.75 102.28,112.43 102.4,114.4 102.52,112.71 102.64,114.39 102.76,113.66 102.88,112.92 103,112.59 103.12,114.46 103.24,115.12 103.36,113.41 103.48,114.23 103.6,115.26 103.72,112.84 103.84,113.4 103.96,112.93 104.08,115.08 104.2,114.09 104.32,113.31 104.44,112.02 104.56,113.64 104.68,114.7 104.8,113.54 104.92,113.41 105.04,114.58 105.16,112.55 105.28,113.96 105.4,114.57 105.52,113.08 105.64,113.03 105.76,114.22 105.88,113.85 106,113.71 106.12,114.21 106.24,114.24 106.36,112.04 106.48,113.29 106.6,115.55 106.72,115.26 106.84,115.53 106.96,113.81 107.08,117.39 107.2,114.91 107.32,114.06 107.44,114.64 107.56,115.02 107.68,116.09 107.8,112.99 107.92,114.81 108.04,114.01 108.16,113.95 108.28,115.43 108.4,115.09 108.52,113.1 108.64,114.81 108.76,114.48 108.88,112.7 109,115.19 109.12,114.18 109.24,114.45 109.36,114.65 109.48,116.26 109.6,114.34 109.72,113.93 109.84,116.22 109.96,113.89 110.08,113.78 110.2,112.85 110.32,115.55 110.44,114.68 110.56,114.9 110.68,114.58 110.8,114.27 110.92,113.57 111.04,113.58 111.16,114.92 111.28,114.59 111.4,116.78 111.52,113.65 111.64,112.32 111.76,113.39 111.88,116.01 112,113.18 112.12,115.37 112.24,116.11 112.36,114.4 112.48,115.35 112.6,112.26 112.72,114.16 112.84,112.79 112.96,114.79 113.08,114.63 113.2,112.1 113.32,115.67 113.44,115.04 113.56,114.09 113.68,115.44 113.8,111.96 113.92,114.49 114.04,117.01 114.16,113.94 114.28,114.39 114.4,114.14 114.52,115.62 114.64,115.24 114.76,114.51 114.88,112.84 115,114.23 115.12,117.14 115.24,114.55 115.36,115.51 115.48,114.31 115.6,112.81 115.72,115.32 115.84,115.21 115.96,114.24 116.08,114.48 116.2,115.21 116.32,114.26 116.44,115.29 116.56,114.7 116.68,112.36 116.8,114.78 116.92,114.29 117.04,114.04 117.16,115.39 117.28,114.43 117.4,115.55 117.52,116.16 117.64,116.87 117.76,113.73 117.88,114.19 118,115.99 118.12,114.72 118.24,114.13 118.36,116.32 118.48,115.56 118.6,113.7 118.72,116.69 118.84,113.84 118.96,114.73 119.08,114.75 119.2,115.01 119.32,112.76 119.44,116.75 119.56,113.58 119.68,116.56 119.8,116.74 119.92,117.66 120.04,117.86 120.16,114.53 120.28,116.11 120.4,114.85 120.52,115.74 120.64,114.09 120.76,114.44 120.88,114.51 121,116.8 121.12,115.06 121.24,117.54 121.36,118.09 121.48,113.7 121.6,115.07 121.72,114.33 121.84,114.96 121.96,114.53 122.08,115.04 122.2,116.17 122.32,116.14 122.44,115.41 122.56,115.13 122.68,115.26 122.8,115.27 122.92,115.76 123.04,115.15 123.16,115.69 123.28,111.63 123.4,116.01 123.52,117.06 123.64,115.36 123.76,113.62 123.88,116.63 124,114.81 124.12,111.92 124.24,114.94 124.36,115.84 124.48,115.6 124.6,116.53 124.72,117.77 124.84,115.32 124.96,113.04 125.08,113.98 125.2,115.39 125.32,115.94 125.44,114.08 125.56,114.54 125.68,115.72 125.8,113.13 125.92,113.09 126.04,114.96 126.16,115.49 126.28,114.69 126.4,112.72 126.52,115.24 126.64,113.77 126.76,115.93 126.88,115.11 127,113.69 127.12,115.91 127.24,115.59 127.36,116.1 127.48,116.72 127.6,115.6 127.72,116.58 127.84,114.41 127.96,116.03 128.08,115.25 128.2,113.46 128.32,115.48 128.44,114.05 128.56,113.02 128.68,114.47 128.8,115.34 128.92,113.83 129.04,114.27 129.16,112.53 129.28,114.29 129.4,115.51 129.52,115.26 129.64,115.71 129.76,114.07 129.88,113.71 130,114.79 130.12,113.54 130.24,112.82 130.36,116.18 130.48,114.21 130.6,117.2 130.72,113.72 130.84,115.76 130.96,114.03 131.08,115.51 131.2,114.2 131.32,115.39 131.44,115.18 131.56,113.08 131.68,115.92 131.8,117.39 131.92,114.73 132.04,114.41 132.16,115.48 132.28,115.36 132.4,117.78 132.52,113.03 132.64,114.66 132.76,113.44 132.88,115.07 133,115.31 133.12,119.57 133.24,115.8 133.36,117.39 133.48,114.88 133.6,112.56 133.72,115.96 133.84,117.26 133.96,115.64 134.08,115.68 134.2,116 134.32,113.82 134.44,114.58 134.56,116.69 134.68,116.07 134.8,114.47 134.92,115.13 135.04,115.35 135.16,115.32 135.28,116.24 135.4,115.61 135.52,115.68 135.64,113.96 135.76,114.35 135.88,115.86 136,113.77 136.12,116.86 136.24,114.97 136.36,114.63 136.48,116.23 136.6,114.79 136.72,114.59 136.84,115.41 136.96,115.6 137.08,118.53 137.2,113.23 137.32,115.52 137.44,115.28 137.56,116.59 137.68,115.15 137.8,112.86 137.92,117.01 138.04,114.37 138.16,115.5 138.28,114.07 138.4,114.37 138.52,115.03 138.64,116.51 138.76,116.5 138.88,114.93 139,116.13 139.12,115.18 139.24,115.68 139.36,115.76 139.48,115.48 139.6,115.14 139.72,117.63 139.84,115.84 139.96,115.71 140.08,114.74 140.2,117.5 140.32,116.62 140.44,116.45 140.56,115.85 140.68,116.96 140.8,113.24 140.92,117.87 141.04,115.4 141.16,114.29 141.28,115.78 141.4,118.06 141.52,116.2 141.64,114.31 141.76,115.15 141.88,118.35 142,114.13 142.12,113.26 142.24,115.35 142.36,118.04 142.48,115.36 142.6,117.11 142.72,114.94 142.84,114.81 142.96,116.79 143.08,116.37 143.2,113.81 143.32,116.4 143.44,116.4 143.56,115.03 143.68,115.95 143.8,116 143.92,115.18 144.04,115.08 144.16,114.99 144.28,115.43 144.4,114.78 144.52,115.68 144.64,114.1 144.76,115.82 144.88,116.34 145,114.61 145.12,114.76 145.24,117.86 145.36,117.2 145.48,114.26 145.6,116.37 145.72,115.35 145.84,115.71 145.96,115.12 146.08,115.76 146.2,117.29 146.32,116.37 146.44,115.33 146.56,115.05 146.68,115.33 146.8,116.43 146.92,117.83 147.04,114.64 147.16,115.8 147.28,116.93 147.4,114.98 147.52,116.24 147.64,116.41 147.76,114.27 147.88,114.69 148,117.12 148.12,116.17 148.24,116.4 148.36,115.28 148.48,116.17 148.6,116.34 148.72,115.3 148.84,114.63 148.96,115.85 149.08,116.84 149.2,114.47 149.32,117.01 149.44,116.62 149.56,114.92 149.68,115.87 149.8,115.82 149.92,116.56 150.04,116.6 150.16,114.46 150.28,112.3 150.4,117 150.52,115.55 150.64,116.34 150.76,117.19 150.88,117.33 151,114.58 151.12,117.91 151.24,115.01 151.36,113.96 151.48,117.36 151.6,114.4 151.72,116.35 151.84,115.61 151.96,115.6 152.08,116.3 152.2,115.88 152.32,114.87 152.44,116.63 152.56,117.53 152.68,115.3 152.8,114.33 152.92,117.33 153.04,117.1 153.16,116.29 153.28,114.76 153.4,115.23 153.52,116.1 153.64,114.75 153.76,117.48 153.88,115.81 154,116.31 154.12,114.35 154.24,114.35 154.36,114.35 154.48,115.38 154.6,114.68 154.72,114.57 154.84,115.17 154.96,115.07 155.08,116.47 155.2,114.73 155.32,113.96 155.44,115.17 155.56,116.91 155.68,114.86 155.8,115.63 155.92,115.3 156.04,116.21 156.16,116.12 156.28,115.02 156.4,115.69 156.52,116.99 156.64,117.17 156.76,117 156.88,116.95 157,115.67 157.12,115.64 157.24,117.05 157.36,114.78 157.48,116 157.6,115.6 157.72,115.66 157.84,115.78 157.96,112.82 158.08,117.6 158.2,114.34 158.32,115.7 158.44,115.64 158.56,115.31 158.68,117.65 158.8,115.58 158.92,116.33 159.04,114.71 159.16,115.62 159.28,115.78 159.4,115.8 159.52,115.51 159.64,116.3 159.76,117.83 159.88,116.01 160,116 160.12,114.96 160.24,118.9 160.36,117.91 160.48,116.77 160.6,118.06 160.72,115.41 160.84,117.67 160.96,116.41 161.08,116.32 161.2,115.27 161.32,115.35 161.44,115.85 161.56,116.54 161.68,113.93 161.8,116.31 161.92,117.59 162.04,115.52 162.16,116.48 162.28,114.65 162.4,117.13 162.52,115.03 162.64,114.88 162.76,115.9 162.88,118.8 163,115.26 163.12,114.89 163.24,116.75 163.36,116.5 163.48,118.05 163.6,114.89 163.72,113.6 163.84,115.22 163.96,116.68 164.08,116.66 164.2,117.45 164.32,114.67 164.44,115.4 164.56,116.15 164.68,117.2 164.8,116.81 164.92,115.85 165.04,115.72 165.16,117.26 165.28,117.34 165.4,119.77 165.52,116.13 165.64,118.07 165.76,115.02 165.88,115.74 166,115.6 166.12,114.72 166.24,115.39 166.36,115.76 166.48,116.29 166.6,115.86 166.72,117.06 166.84,116.27 166.96,116.36 167.08,117.74 167.2,118.01 167.32,118.66 167.44,116.35 167.56,116.44 167.68,118.09 167.8,115.52 167.92,117.62 168.04,118.08 168.16,117.64 168.28,115.87 168.4,114.68 168.52,115.93 168.64,116.57 168.76,117.3 168.88,116.22 169,116.09 169.12,118.06 169.24,115.7 169.36,117.58 169.48,117.41 169.6,115 169.72,116.74 169.84,115.84 169.96,115.42 170.08,114.45 170.2,114.76 170.32,118.89 170.44,116.04 170.56,116.76 170.68,115.32 170.8,116.12 170.92,116.18 171.04,114.81 171.16,114.69 171.28,116.76 171.4,114.93 171.52,115.48 171.64,116.38 171.76,117.21 171.88,118.47 172,115.54 172.12,117.17 172.24,117.58 172.36,116.58 172.48,118.1 172.6,113.73 172.72,118.08 172.84,116.51 172.96,114.51 173.08,117.37 173.2,117.73 173.32,117.84 173.44,117.83 173.56,116.51 173.68,115.74 173.8,116.05 173.92,116.52 174.04,117 174.16,115.84 174.28,116.62 174.4,117.51 174.52,116.92 174.64,119.05 174.76,118.91 174.88,115.34 175,115.16 175.12,113.79 175.24,115.34 175.36,114.81 175.48,115.53 175.6,115.47 175.72,116.31 175.84,117.47 175.96,116.23 176.08,116.23 176.2,117.61 176.32,117.13 176.44,117.12 176.56,117.65 176.68,115.54 176.8,116.87 176.92,115.95 177.04,117.75 177.16,117.53 177.28,115.52 177.4,118.1 177.52,115.39 177.64,118.82 177.76,116.88 177.88,115.72 178,115.46 178.12,116.32 178.24,116.65 178.36,115.91 178.48,117.29 178.6,115.17 178.72,115.82 178.84,116.69 178.96,114.67 179.08,117.03 179.2,115.34 179.32,114 179.44,118.25 179.56,117.04 179.68,117.69 179.8,116.19 179.92,118.32 180.04,118.28 180.16,117.91 180.28,118.17 180.4,117.12 180.52,116.14 180.64,117.44 180.76,117.79 180.88,117.01 181,116.49 181.12,115.06 181.24,117.49 181.36,117.14 181.48,117.59 181.6,116.88 181.72,117.56 181.84,116.66 181.96,117.63 182.08,117.6 182.2,115.18 182.32,116.46 182.44,117.32 182.56,117.79 182.68,119.04 182.8,114.72 182.92,116.73 183.04,117.59 183.16,118.14 183.28,118.65 183.4,115.8 183.52,116.42 183.64,115.68 183.76,117.72 183.88,115.39 184,118.12 184.12,117.86 184.24,117.37 184.36,114.49 184.48,116.11 184.6,117.67 184.72,114.69 184.84,116.6 184.96,116.75 185.08,117.83 185.2,115.8 185.32,117.17 185.44,116.4 185.56,116.88 185.68,116.74 185.8,117.07 185.92,116.96 186.04,118.02 186.16,115.69 186.28,118.2 186.4,116.72 186.52,118.13 186.64,117 186.76,117.84 186.88,118.54 187,115.63 187.12,115.75 187.24,116.74 187.36,117.15 187.48,115.17 187.6,116.75 187.72,116.6 187.84,116.09 187.96,116.73 188.08,115.27 188.2,118.6 188.32,117.44 188.44,119.01 188.56,116.01 188.68,115.7 188.8,117.27 188.92,115.16 189.04,117.22 189.16,116.21 189.28,116.62 189.4,117.26 189.52,117.04 189.64,119.01 189.76,117.68 189.88,115.59 190,118.06 190.12,115.55 190.24,117.1 190.36,115.65 190.48,116.11 190.6,118.44 190.72,115.94 190.84,116.32 190.96,116.41 191.08,116.69 191.2,118.6 191.32,115.75 191.44,115.69 191.56,117.67 191.68,115.31 191.8,116.65 191.92,118.28 192.04,117.05 192.16,116.53 192.28,116.29 192.4,116.06 192.52,115.14 192.64,117.21 192.76,118.42 192.88,118.12 193,116.46 193.12,116.28 193.24,117.84 193.36,114.94 193.48,116.61 193.6,116.73 193.72,115.88 193.84,116.01 193.96,117.47 194.08,115.3 194.2,116.44 194.32,116.4 194.44,117.19 194.56,115.62 194.68,118.29 194.8,116.78 194.92,116.83 195.04,116.72 195.16,117.69 195.28,116.06 195.4,118.37 195.52,117.35 195.64,117.01 195.76,118.52 195.88,116.36 196,117.82 196.12,117.16 196.24,117.61 196.36,117.97 196.48,115.52 196.6,117.86 196.72,116.19 196.84,117.6 196.96,118.65 197.08,117.77 197.2,115.45 197.32,114.91 197.44,116.77 197.56,115.9 197.68,115.97 197.8,117.22 197.92,117.76 198.04,115.27 198.16,117.1 198.28,117.73 198.4,114.8 198.52,116.1 198.64,118.31 198.76,115.88 198.88,117.9 199,118.93 199.12,114.99 199.24,117.48 199.36,117.54 199.48,117.45 199.6,116.38 199.72,116.88 199.84,115.01 199.96,117.36 200.08,117.8 200.2,116.5 200.32,116.23 200.44,116.72 200.56,117.22 200.68,117.3 200.8,117.13 200.92,117.32 201.04,115.73 201.16,114.94 201.28,117.92 201.4,118.79 201.52,115.73 201.64,116.54 201.76,117.59 201.88,118.29 202,117.97 202.12,118.65 202.24,117.21 202.36,117.72 202.48,117.72 202.6,116.81 202.72,118.58 202.84,117.95 202.96,118.34 203.08,116.86"/>
<line x1="82.41" y1="126.2" x2="82.41" y2="134.5" stroke="#ff3030" stroke-width="0.8" />
<line x1="91.33" y1="126.8" x2="91.33" y2="134.5" stroke="#ff3030" stroke-width="0.8" />
<line x1="95.55" y1="124" x2="95.55" y2="134.5" stroke="#ff3030" stroke-width="0.8" />
<line x1="129.11" y1="127.1" x2="129.11" y2="134.5" stroke="#ff3030" stroke-width="0.8" />
<line x1="154.92" y1="127" x2="154.92" y2="134.5" stroke="#ff3030" stroke-width="0.8" />
<line x1="176.28" y1="127.2" x2="176.28" y2="134.5" stroke="#ff3030" stroke-width="0.8" />
<line x1="185.43" y1="128.5" x2="185.43" y2="134.5" stroke="#ff3030" stroke-width="0.8" />
<line x1="191.06" y1="126.3" x2="191.06" y2="134.5" stroke="#ff3030" stroke-width="0.8" />
<line x1="193.88" y1="128" x2="193.88" y2="134.5" stroke="#ff3030" stroke-width="0.8" />
<rect x="27.5" y="3.5" width="176" height="131" fill="none" stroke="#505050" stroke-width="1"/>
<line x1="27.5" y1="134.5" x2="27.5" y2="136" stroke="#505050" stroke-width="0.9" />
<line x1="39.23" y1="134.5" x2="39.23" y2="137.1" stroke="#505050" stroke-width="0.9" />
<line x1="50.97" y1="134.5" x2="50.97" y2="136" stroke="#505050" stroke-width="0.9" />
<line x1="62.7" y1="134.5" x2="62.7" y2="137.1" stroke="#505050" stroke-width="0.9" />
<line x1="74.43" y1="134.5" x2="74.43" y2="136" stroke="#505050" stroke-width="0.9" />
<line x1="86.17" y1="134.5" x2="86.17" y2="137.1" stroke="#505050" stroke-width="0.9" />
<line x1="97.9" y1="134.5" x2="97.9" y2="136" stroke="#505050" stroke-width="0.9" />
<line x1="109.63" y1="134.5" x2="109.63" y2="137.1" stroke="#505050" stroke-width="0.9" />
<line x1="121.37" y1="134.5" x2="121.37" y2="136" stroke="#505050" stroke-width="0.9" />
<line x1="133.1" y1="134.5" x2="133.1" y2="137.1" stroke="#505050" stroke-width="0.9" />
<line x1="144.83" y1="134.5" x2="144.83" y2="136" stroke="#505050" stroke-width="0.9" />
<line x1="156.57" y1="134.5" x2="156.57" y2="137.1" stroke="#505050" stroke-width="0.9" />
<line x1="168.3" y1="134.5" x2="168.3" y2="136" stroke="#505050" stroke-width="0.9" />
<line x1="180.03" y1="134.5" x2="180.03" y2="137.1" stroke="#505050" stroke-width="0.9" />
<line x1="191.77" y1="134.5" x2="191.77" y2="136" stroke="#505050" stroke-width="0.9" />
<line x1="203.5" y1="134.5" x2="203.5" y2="137.1" stroke="#505050" stroke-width="0.9" />
<text x="39.23" y="145" font-size="8.8" font-weight="bold" fill="#000" text-anchor="middle">20</text>
<text x="62.7" y="145" font-size="8.8" font-weight="bold" fill="#000" text-anchor="middle">30</text>
<text x="86.17" y="145" font-size="8.8" font-weight="bold" fill="#000" text-anchor="middle">40</text>
<text x="109.63" y="145" font-size="8.8" font-weight="bold" fill="#000" text-anchor="middle">50</text>
<text x="133.1" y="145" font-size="8.8" font-weight="bold" fill="#000" text-anchor="middle">60</text>
<text x="156.57" y="145" font-size="8.8" font-weight="bold" fill="#000" text-anchor="middle">70</text>
<text x="180.03" y="145" font-size="8.8" font-weight="bold" fill="#000" text-anchor="middle">80</text>
<text x="203.5" y="145" font-size="8.8" font-weight="bold" fill="#000" text-anchor="middle">90</text>
<text x="121" y="158" font-size="10.6" font-weight="bold" fill="#000" text-anchor="middle" textLength="57.5" lengthAdjust="spacingAndGlyphs">2 theta (deg.)</text>
<text x="21" y="62.8" font-size="10.3" font-weight="bold" fill="#000" text-anchor="middle" textLength="64.5" lengthAdjust="spacingAndGlyphs" transform="rotate(-90 21 62.8)">Intensity (a.u.)</text>
<text x="1.5" y="11.3" font-size="14.2" font-weight="bold" fill="#000" text-anchor="start" textLength="16.8" lengthAdjust="spacingAndGlyphs">(a)</text>
<text x="39.8" y="14.1" font-size="6" font-weight="normal" fill="#000" text-anchor="start" textLength="19.6" lengthAdjust="spacingAndGlyphs" style="stroke:#000;stroke-width:0.3">C (002)</text>
<text x="173.2" y="27.6" font-size="6.6" font-weight="bold" fill="#000" text-anchor="start" textLength="27.8" lengthAdjust="spacingAndGlyphs">SCC-KU</text>
<text x="151.6" y="50.5" font-size="6.6" font-weight="bold" fill="#ff0000" text-anchor="start" textLength="49.6" lengthAdjust="spacingAndGlyphs">Ru@SCC-KU-8</text>
<text x="157.2" y="92" font-size="6.6" font-weight="bold" fill="#0000ff" text-anchor="start" textLength="43.2" lengthAdjust="spacingAndGlyphs">Ru@SCC-KU</text>
<text x="151.7" y="113" font-size="6.6" font-weight="bold" fill="#ff8000" text-anchor="start" textLength="49" lengthAdjust="spacingAndGlyphs">Ru@SCC-KU-6</text>
<text x="28.8" y="122.8" font-size="7" font-weight="bold" fill="#ff0000" text-anchor="start" textLength="52.2" lengthAdjust="spacingAndGlyphs">Ru #00-006-0663</text>
<text x="83" y="62" font-size="5.6" font-weight="normal" fill="#000" text-anchor="start" textLength="12.2" lengthAdjust="spacingAndGlyphs" transform="rotate(-90 83 62)" style="stroke:#000;stroke-width:0.12">(100)</text>
<text x="92" y="64.5" font-size="5.6" font-weight="normal" fill="#000" text-anchor="start" textLength="12.2" lengthAdjust="spacingAndGlyphs" transform="rotate(-90 92 64.5)" style="stroke:#000;stroke-width:0.12">(002)</text>
<text x="101.4" y="48.2" font-size="5.6" font-weight="normal" fill="#000" text-anchor="start" textLength="12.2" lengthAdjust="spacingAndGlyphs" transform="rotate(-90 101.4 48.2)" style="stroke:#000;stroke-width:0.12">(101)</text>
<text x="129.9" y="70.6" font-size="5.6" font-weight="normal" fill="#000" text-anchor="start" textLength="12.2" lengthAdjust="spacingAndGlyphs" transform="rotate(-90 129.9 70.6)" style="stroke:#000;stroke-width:0.12">(102)</text>
<text x="156.7" y="71.8" font-size="5.6" font-weight="normal" fill="#000" text-anchor="start" textLength="12.2" lengthAdjust="spacingAndGlyphs" transform="rotate(-90 156.7 71.8)" style="stroke:#000;stroke-width:0.12">(110)</text>
<text x="176.5" y="71.8" font-size="5.6" font-weight="normal" fill="#000" text-anchor="start" textLength="12.2" lengthAdjust="spacingAndGlyphs" transform="rotate(-90 176.5 71.8)" style="stroke:#000;stroke-width:0.12">(103)</text>
<text x="191.5" y="71.8" font-size="5.6" font-weight="normal" fill="#000" text-anchor="start" textLength="12.2" lengthAdjust="spacingAndGlyphs" transform="rotate(-90 191.5 71.8)" style="stroke:#000;stroke-width:0.12">(112)</text>
<text x="198.1" y="73" font-size="5.6" font-weight="normal" fill="#000" text-anchor="start" textLength="12.2" lengthAdjust="spacingAndGlyphs" transform="rotate(-90 198.1 73)" style="stroke:#000;stroke-width:0.12">(201)</text>
<polyline fill="none" stroke="#000000" stroke-width="0.75" stroke-linejoin="round"  points="244.5,69.45 245.1,70.1 245.7,69.93 246.3,69.28 246.9,69.82 247.5,69.65 248.1,70.23 248.7,69.17 249.3,70.06 249.9,69.8 250.5,69.02 251.1,70.08 251.7,69.98 252.3,68.79 252.9,70.5 253.5,68.84 254.1,68.93 254.7,69.22 255.3,69.77 255.9,69.65 256.5,69.27 257.1,70.02 257.7,69.49 258.3,69.99 258.9,70.71 259.5,69.31 260.1,67.83 260.7,68.93 261.3,68.57 261.9,69.17 262.5,69.15 263.1,68.43 263.7,68.44 264.3,68.89 264.9,68.87 265.5,67.5 266.1,69.26 266.7,68.63 267.3,68.47 267.9,68.5 268.5,67.66 269.1,68.04 269.7,68.48 270.3,68.37 270.9,67.91 271.5,67.38 272.1,66.95 272.7,67.96 273.3,67.4 273.9,66.76 274.5,65.69 275.1,66.25 275.7,65.55 276.3,67.1 276.9,66.4 277.5,65.77 278.1,65.88 278.7,67.28 279.3,66.41 279.9,64.88 280.5,65.35 281.1,64.56 281.7,64.08 282.3,64.89 282.9,65.88 283.5,65.22 284.1,64.19 284.7,63.75 285.3,63.86 285.9,64.09 286.5,62.54 287.1,62.11 287.7,63.92 288.3,62.85 288.9,63.36 289.5,62.41 290.1,62.79 290.7,61.26 291.3,61.35 291.9,61.36 292.5,60.52 293.1,59.17 293.7,59.35 294.3,57.95 294.9,56.98 295.5,57.49 296.1,57.41 296.7,56.56 297.3,54.86 297.9,55.46 298.5,54.81 299.1,53.63 299.7,51.98 300.3,53.26 300.9,52.45 301.5,51.35 302.1,49.2 302.7,48.38 303.3,48.8 303.9,47.74 304.5,46.63 305.1,45.28 305.7,44.61 306.3,42.93 306.9,41.74 307.5,40.04 308.1,39.26 308.7,37.49 309.3,36.84 309.9,35.32 310.5,33.07 311.1,33.05 311.7,29.92 312.3,29.23 312.9,28.02 313.5,26.58 314.1,23.12 314.7,23.46 315.3,22.44 315.9,21.69 316.5,18.95 317.1,19.07 317.7,18.65 318.3,17.73 318.9,18.26 319.5,17.11 320.1,18.54 320.7,18.69 321.3,18.1 321.9,19.02 322.5,20.17 323.1,21.52 323.7,23.09 324.3,23.51 324.9,25.16 325.5,24.76 326.1,24.85 326.7,27.18 327.3,28.46 327.9,28.85 328.5,29.34 329.1,30.97 329.7,32.56 330.3,32.04 330.9,32.14 331.5,32.44 332.1,34.34 332.7,33.6 333.3,34.32 333.9,35.01 334.5,35.1 335.1,33.99 335.7,34.81 336.3,34.55 336.9,34.15 337.5,34.2 338.1,32.98 338.7,32.76 339.3,31.91 339.9,32.02 340.5,30.63 341.1,30.55 341.7,29.02 342.3,28.81 342.9,27.93 343.5,27.18 344.1,26.16 344.7,24.57 345.3,22.99 345.9,20.42 346.5,20.81 347.1,18.71 347.7,17.97 348.3,16.69 348.9,17.33 349.5,16.5 350.1,18.08 350.7,19.59 351.3,21.67 351.9,23.93 352.5,26.47 353.1,28.32 353.7,32.53 354.3,35.33 354.9,38.04 355.5,40.97 356.1,43.59 356.7,46.24 357.3,49.77 357.9,52.21 358.5,53 359.1,56.06 359.7,57.45 360.3,59.35 360.9,60.4 361.5,62.26 362.1,63.44 362.7,64.34 363.3,63.83 363.9,65.69 364.5,65.91 365.1,65.92 365.7,67.51 366.3,66.85 366.9,68.44 367.5,69.17 368.1,68.26 368.7,69.33 369.3,69.37 369.9,69.77 370.5,68.92 371.1,70.17 371.7,70.04 372.3,70.49 372.9,70.22 373.5,70.94 374.1,70.62 374.7,70.97 375.3,71.47 375.9,70.95 376.5,71.52 377.1,71.23 377.7,71.51 378.3,71.07 378.9,71.91 379.5,72.27 380.1,71.65 380.7,72.17 381.3,71.99 381.9,71.18 382.5,72 383.1,72.54 383.7,71.58 384.3,70.9 384.9,72 385.5,71.56 386.1,72.96 386.7,71.93 387.3,71.97 387.9,71.65 388.5,72.15 389.1,71.73 389.7,71.57 390.3,72.05 390.9,71.66 391.5,72.83 392.1,71.51 392.7,72.12 393.3,71.81 393.9,71.46 394.5,73.13 395.1,71.11 395.7,73.05 396.3,71.53 396.9,72.36 397.5,73.55 398.1,71.2 398.7,71.63 399.3,73.1 399.9,72.51 400.5,72.13 401.1,72.43 401.7,71.93 402.3,72.53 402.9,73.29 403.5,72.29 404.1,72.58 404.7,73.17 405.3,73.6 405.9,72.23 406.5,72.72 407.1,72.27 407.7,72.23 408.3,72.38 408.9,72.27 409.5,71.69 410.1,71.56 410.7,72.25 411.3,72.73 411.9,73.32 412.5,72.4 413.1,72.61 413.7,73.06 414.3,73.12 414.9,72.67 415.5,72.72 416.1,73.77 416.7,72.59 417.3,72.52 417.9,71.92 418.5,73.04 419.1,72.67"/>
<polyline fill="none" stroke="#ff0000" stroke-width="0.75" stroke-linejoin="round"  points="244.5,97.32 245.1,96.1 245.7,96.69 246.3,96.73 246.9,97.1 247.5,95.48 248.1,97.01 248.7,96.15 249.3,96.06 249.9,95.93 250.5,95.86 251.1,95.86 251.7,94.77 252.3,96.28 252.9,96.01 253.5,95.45 254.1,95.9 254.7,97.15 255.3,96.09 255.9,95.66 256.5,96.76 257.1,95.39 257.7,95.71 258.3,95.48 258.9,95.62 259.5,96.12 260.1,96.02 260.7,95.29 261.3,95.59 261.9,95.68 262.5,95.39 263.1,95.57 263.7,95.18 264.3,95.15 264.9,95.52 265.5,94.88 266.1,95.56 266.7,95.13 267.3,94.64 267.9,94.71 268.5,94.68 269.1,94.75 269.7,94.8 270.3,94.52 270.9,94.07 271.5,95.2 272.1,94.82 272.7,94.29 273.3,94.64 273.9,94.21 274.5,93.8 275.1,93.88 275.7,95.16 276.3,94.16 276.9,94.09 277.5,93.22 278.1,93.65 278.7,94.44 279.3,93.36 279.9,93.57 280.5,93.49 281.1,92.94 281.7,93.21 282.3,92.26 282.9,92.18 283.5,91.35 284.1,92.86 284.7,91.39 285.3,91.05 285.9,91.51 286.5,90.28 287.1,90.31 287.7,89.66 288.3,89.86 288.9,89.41 289.5,89.68 290.1,89.1 290.7,88.62 291.3,88.52 291.9,88.2 292.5,87.41 293.1,87.46 293.7,86.6 294.3,85.61 294.9,84.18 295.5,84.37 296.1,82.7 296.7,82.76 297.3,81.97 297.9,80.92 298.5,79.93 299.1,79.01 299.7,79.33 300.3,76.95 300.9,75.84 301.5,75.32 302.1,73.9 302.7,73.1 303.3,70.6 303.9,69.16 304.5,69.78 305.1,66.19 305.7,64.26 306.3,62.69 306.9,61.29 307.5,58.26 308.1,57.15 308.7,55.1 309.3,53.58 309.9,51.53 310.5,49.49 311.1,47.78 311.7,45.43 312.3,45.73 312.9,42.91 313.5,42.01 314.1,41.9 314.7,39.85 315.3,39.68 315.9,38.52 316.5,38.32 317.1,37.45 317.7,36.84 318.3,37.66 318.9,36.76 319.5,36.34 320.1,37.22 320.7,38.21 321.3,38.11 321.9,40.12 322.5,41.23 323.1,43.07 323.7,42.76 324.3,44.72 324.9,44.88 325.5,47.04 326.1,48.82 326.7,50.49 327.3,51.79 327.9,53.33 328.5,54.63 329.1,56.25 329.7,58.09 330.3,59.58 330.9,60.94 331.5,62.41 332.1,63.55 332.7,62.79 333.3,64.09 333.9,64.9 334.5,65.03 335.1,66.06 335.7,65.8 336.3,65.25 336.9,65.27 337.5,65.73 338.1,64.53 338.7,63.98 339.3,63.88 339.9,62.9 340.5,62.65 341.1,61.36 341.7,60.5 342.3,58.46 342.9,56.58 343.5,55.36 344.1,52.04 344.7,51.51 345.3,49.44 345.9,46.44 346.5,43.58 347.1,41.43 347.7,38.48 348.3,37.14 348.9,36.77 349.5,36.12 350.1,37.49 350.7,39.8 351.3,43.27 351.9,47.94 352.5,53.13 353.1,59.59 353.7,64.73 354.3,72.1 354.9,78.62 355.5,83.03 356.1,87.18 356.7,89.4 357.3,91.5 357.9,92.9 358.5,94 359.1,93.91 359.7,93.61 360.3,94.47 360.9,94.98 361.5,95.75 362.1,94.12 362.7,95.58 363.3,94.49 363.9,95.89 364.5,95.81 365.1,95.9 365.7,96.17 366.3,95.97 366.9,95.49 367.5,96.08 368.1,96.59 368.7,95.96 369.3,96.1 369.9,95.51 370.5,96.82 371.1,96.01 371.7,95.95 372.3,96.17 372.9,96.01 373.5,96.4 374.1,97.26 374.7,97.07 375.3,97.47 375.9,97.56 376.5,96.37 377.1,97.16 377.7,97.76 378.3,98.24 378.9,96.36 379.5,96.41 380.1,97.45 380.7,97.06 381.3,96.73 381.9,97.46 382.5,96.86 383.1,96.1 383.7,97.3 384.3,97.39 384.9,97.67 385.5,97.85 386.1,97.47 386.7,97.26 387.3,97.05 387.9,96.55 388.5,97.2 389.1,97.97 389.7,97.8 390.3,98.55 390.9,97.41 391.5,96.57 392.1,97.96 392.7,98.08 393.3,96.94 393.9,96.72 394.5,97.66 395.1,97.97 395.7,97.03 396.3,97.45 396.9,97.24 397.5,97.04 398.1,96.98 398.7,97.76 399.3,97.51 399.9,97.37 400.5,96.37 401.1,98.67 401.7,97.27 402.3,97.71 402.9,97.2 403.5,98.01 404.1,97.04 404.7,97.89 405.3,97.76 405.9,98.36 406.5,97.31 407.1,97.56 407.7,97.8 408.3,99.03 408.9,97.18 409.5,98.12 410.1,97.64 410.7,98.16 411.3,98.35 411.9,98.1 412.5,98.18 413.1,98.2 413.7,97.76 414.3,97.97 414.9,97.23 415.5,97.93 416.1,97.73 416.7,98.01 417.3,98.55 417.9,98.38 418.5,98.44 419.1,98.78"/>
<polyline fill="none" stroke="#0000ff" stroke-width="0.75" stroke-linejoin="round"  points="244.5,117.03 245.1,118.49 245.7,118.23 246.3,118.17 246.9,117.51 247.5,118.46 248.1,118.75 248.7,118.66 249.3,118.06 249.9,118.41 250.5,118.54 251.1,118.99 251.7,118.65 252.3,118.06 252.9,118.01 253.5,118.03 254.1,118.04 254.7,117.63 255.3,118.28 255.9,117.49 256.5,117.41 257.1,117.99 257.7,117.48 258.3,117.63 258.9,116.64 259.5,118.13 260.1,117.69 260.7,117.6 261.3,117.89 261.9,117.73 262.5,117.23 263.1,118.63 263.7,117.31 264.3,118.04 264.9,118.45 265.5,117.1 266.1,117.39 266.7,116.82 267.3,117.72 267.9,116.9 268.5,116.41 269.1,117.59 269.7,117.29 270.3,116.26 270.9,117.26 271.5,116.65 272.1,117.89 272.7,117.27 273.3,115.99 273.9,116.05 274.5,115.65 275.1,116.09 275.7,115.96 276.3,116.23 276.9,115.8 277.5,114.9 278.1,115.15 278.7,116.23 279.3,116.01 279.9,115.17 280.5,114.97 281.1,114.67 281.7,114.48 282.3,113.29 282.9,114.34 283.5,113.23 284.1,113.36 284.7,111.66 285.3,112.82 285.9,113.1 286.5,110.93 287.1,112.61 287.7,111.76 288.3,110.84 288.9,110.09 289.5,111.24 290.1,110.47 290.7,110.35 291.3,109.58 291.9,108.87 292.5,109.18 293.1,107.55 293.7,107.86 294.3,105.84 294.9,105.57 295.5,104.63 296.1,105.41 296.7,103.14 297.3,102.79 297.9,103.07 298.5,102.18 299.1,102.54 299.7,101.69 300.3,100.38 300.9,99.75 301.5,97.76 302.1,97.59 302.7,97.22 303.3,96.57 303.9,95.13 304.5,94.46 305.1,93.58 305.7,93.66 306.3,92.4 306.9,91.07 307.5,90.17 308.1,89.54 308.7,88.08 309.3,87.34 309.9,85.56 310.5,85.8 311.1,84.94 311.7,83.6 312.3,82.64 312.9,81.68 313.5,81.81 314.1,80.24 314.7,78.85 315.3,78.41 315.9,78.76 316.5,78.5 317.1,78.05 317.7,77.92 318.3,77.42 318.9,76.38 319.5,76.81 320.1,76.45 320.7,77.6 321.3,77.48 321.9,78.65 322.5,79.13 323.1,79.04 323.7,81.52 324.3,82.6 324.9,82.53 325.5,84.41 326.1,85.78 326.7,86.24 327.3,87.71 327.9,88.09 328.5,89.21 329.1,89.4 329.7,89.88 330.3,90.9 330.9,91.7 331.5,92.05 332.1,92.18 332.7,92.37 333.3,92.83 333.9,92.97 334.5,93.63 335.1,93.86 335.7,93.97 336.3,94.26 336.9,94.6 337.5,95.45 338.1,95.21 338.7,94.07 339.3,94.37 339.9,93.74 340.5,93.6 341.1,93.05 341.7,92.16 342.3,90.91 342.9,89.47 343.5,90.02 344.1,89.68 344.7,87.34 345.3,86.49 345.9,84.04 346.5,82.42 347.1,79.98 347.7,78.72 348.3,77.52 348.9,75.26 349.5,76.29 350.1,76.6 350.7,76.69 351.3,80.45 351.9,83.1 352.5,87.14 353.1,91.27 353.7,94.75 354.3,98.16 354.9,102.05 355.5,105.01 356.1,108.76 356.7,110.3 357.3,110.41 357.9,111.41 358.5,112.56 359.1,113.45 359.7,113.42 360.3,113.67 360.9,115.42 361.5,115.02 362.1,113.7 362.7,113.66 363.3,114.23 363.9,114.85 364.5,115.09 365.1,114.69 365.7,114.08 366.3,115.13 366.9,115.4 367.5,115.15 368.1,114.95 368.7,115.59 369.3,115.32 369.9,114.82 370.5,115.54 371.1,114.87 371.7,116.14 372.3,115.95 372.9,115.24 373.5,115.95 374.1,116.57 374.7,114.83 375.3,115.97 375.9,116.99 376.5,115.35 377.1,116.16 377.7,115.56 378.3,116.35 378.9,115.17 379.5,115.65 380.1,116.28 380.7,116.68 381.3,116.83 381.9,116.87 382.5,117.27 383.1,117.05 383.7,117.09 384.3,116.19 384.9,116.65 385.5,118.46 386.1,117.98 386.7,117.23 387.3,117.2 387.9,117.35 388.5,116.62 389.1,117.91 389.7,116.67 390.3,116.85 390.9,118.08 391.5,115.81 392.1,117.14 392.7,116.04 393.3,116.63 393.9,116.95 394.5,116.83 395.1,117.13 395.7,116.64 396.3,117.02 396.9,116.45 397.5,116.9 398.1,116.38 398.7,117.5 399.3,116.46 399.9,117.55 400.5,116.97 401.1,117.04 401.7,117.86 402.3,117.29 402.9,116.22 403.5,117.53 404.1,115.7 404.7,117.43 405.3,117.08 405.9,116.55 406.5,117.36 407.1,117.17 407.7,118.43 408.3,117.12 408.9,118.43 409.5,118.14 410.1,117.06 410.7,116.96 411.3,118.14 411.9,117.36 412.5,117.53 413.1,117.32 413.7,116.81 414.3,117.28 414.9,116.97 415.5,116.68 416.1,117.36 416.7,118.51 417.3,118.43 417.9,117.53 418.5,117.65 419.1,117.86"/>
<polyline fill="none" stroke="#ff8c1a" stroke-width="0.75" stroke-linejoin="round"  points="244.5,133.69 245.1,133.09 245.7,132.63 246.3,132.64 246.9,133.44 247.5,134.21 248.1,132.41 248.7,131.59 249.3,133.12 249.9,132.6 250.5,132.69 251.1,133.25 251.7,132.58 252.3,131.78 252.9,131.4 253.5,132.42 254.1,131.77 254.7,132.53 255.3,131.64 255.9,132.11 256.5,131.46 257.1,132.04 257.7,131.96 258.3,132.49 258.9,132.87 259.5,132 260.1,131.59 260.7,133.1 261.3,132.19 261.9,132.3 262.5,132.26 263.1,132.69 263.7,132.41 264.3,132.2 264.9,132.2 265.5,131.26 266.1,131.33 266.7,131.55 267.3,131.59 267.9,131.49 268.5,131.58 269.1,131.36 269.7,131.05 270.3,130.33 270.9,131.62 271.5,131.41 272.1,130.55 272.7,131.24 273.3,131.12 273.9,130.88 274.5,129.76 275.1,130.05 275.7,130.31 276.3,131.47 276.9,130.05 277.5,130.26 278.1,129.78 278.7,130.05 279.3,130.45 279.9,129.03 280.5,128.49 281.1,130.25 281.7,129.74 282.3,129.23 282.9,129.93 283.5,129.77 284.1,127.92 284.7,128.82 285.3,129.36 285.9,128.22 286.5,128.25 287.1,128.78 287.7,127.95 288.3,127.28 288.9,127.4 289.5,126.88 290.1,127.75 290.7,126.34 291.3,127.66 291.9,125.94 292.5,126.52 293.1,125.27 293.7,125.48 294.3,125.8 294.9,125.43 295.5,125.11 296.1,123.92 296.7,123.61 297.3,123.26 297.9,123.05 298.5,122.07 299.1,122.47 299.7,121.63 300.3,121.66 300.9,120.87 301.5,120.56 302.1,119.37 302.7,119.12 303.3,118.19 303.9,118.27 304.5,117.83 305.1,117.86 305.7,116.19 306.3,118.15 306.9,115.78 307.5,116.02 308.1,115.39 308.7,112.91 309.3,113.63 309.9,114.07 310.5,111.41 311.1,112.65 311.7,111.2 312.3,110.93 312.9,110.81 313.5,109.17 314.1,109.84 314.7,108.91 315.3,108.39 315.9,108.72 316.5,109.82 317.1,107.71 317.7,107.54 318.3,106.99 318.9,106.4 319.5,106.86 320.1,107.6 320.7,107.05 321.3,107.61 321.9,107.18 322.5,109 323.1,107.15 323.7,108.95 324.3,109.5 324.9,109.92 325.5,109.74 326.1,110.3 326.7,111.35 327.3,112.04 327.9,111.79 328.5,112.32 329.1,113.67 329.7,114.37 330.3,113.95 330.9,114.25 331.5,114.52 332.1,116.48 332.7,115.58 333.3,115.46 333.9,116.23 334.5,117.13 335.1,116.69 335.7,115.45 336.3,116.3 336.9,116.13 337.5,116.07 338.1,115.45 338.7,115.78 339.3,115.26 339.9,115.91 340.5,115.6 341.1,114.56 341.7,114.07 342.3,114.34 342.9,114.55 343.5,114.06 344.1,113.35 344.7,110.94 345.3,111.63 345.9,110.43 346.5,109.58 347.1,108.04 347.7,107.49 348.3,106.43 348.9,107.52 349.5,106.28 350.1,106.3 350.7,107.79 351.3,109.9 351.9,112.94 352.5,115.75 353.1,118.47 353.7,120.93 354.3,122.18 354.9,123.18 355.5,124.85 356.1,125.15 356.7,125.26 357.3,125.54 357.9,126.64 358.5,127.34 359.1,127.85 359.7,128.49 360.3,127.84 360.9,127.97 361.5,129.11 362.1,129.59 362.7,128.94 363.3,129.65 363.9,130.49 364.5,130.12 365.1,130.07 365.7,129.04 366.3,130.99 366.9,130.68 367.5,130.46 368.1,130.2 368.7,129.83 369.3,130.53 369.9,130.6 370.5,131.33 371.1,130.12 371.7,131.65 372.3,130.94 372.9,131.64 373.5,130.52 374.1,131.31 374.7,131.86 375.3,131.32 375.9,130.51 376.5,131.21 377.1,131.75 377.7,130.75 378.3,130.79 378.9,131.79 379.5,131.2 380.1,132.14 380.7,131.14 381.3,130.79 381.9,131.39 382.5,132.65 383.1,131.37 383.7,131.85 384.3,132 384.9,131.36 385.5,132.49 386.1,132 386.7,132.16 387.3,131 387.9,130.98 388.5,130.43 389.1,131.86 389.7,131.85 390.3,132.39 390.9,132.82 391.5,131.88 392.1,131.88 392.7,132.29 393.3,132.89 393.9,131.61 394.5,132.42 395.1,131.95 395.7,131.92 396.3,132.56 396.9,131.69 397.5,131.55 398.1,132.52 398.7,132.15 399.3,132.03 399.9,132.11 400.5,132.47 401.1,132.01 401.7,132.65 402.3,132.47 402.9,133.07 403.5,132.96 404.1,132.75 404.7,132.18 405.3,132.36 405.9,131.99 406.5,133.89 407.1,132.21 407.7,132.65 408.3,133.11 408.9,131.62 409.5,131.93 410.1,132.18 410.7,131.86 411.3,131.73 411.9,132.15 412.5,133.16 413.1,132.86 413.7,132.49 414.3,132.5 414.9,131.58 415.5,132.89 416.1,132.76 416.7,131.94 417.3,132.66 417.9,132.45 418.5,132.29 419.1,132.03"/>
<line x1="319.3" y1="18.5" x2="319.3" y2="135.5" stroke="#222" stroke-width="0.7" stroke-dasharray="1.6,1.6"/>
<line x1="349.4" y1="18.5" x2="349.4" y2="135.5" stroke="#222" stroke-width="0.7" stroke-dasharray="1.6,1.6"/>
<rect x="244" y="4.7" width="175.5" height="130.8" fill="none" stroke="#444" stroke-width="0.9"/>
<line x1="244" y1="135.5" x2="244" y2="137" stroke="#505050" stroke-width="0.9" />
<line x1="255.7" y1="135.5" x2="255.7" y2="138.1" stroke="#505050" stroke-width="0.9" />
<line x1="267.4" y1="135.5" x2="267.4" y2="137" stroke="#505050" stroke-width="0.9" />
<line x1="279.1" y1="135.5" x2="279.1" y2="138.1" stroke="#505050" stroke-width="0.9" />
<line x1="290.8" y1="135.5" x2="290.8" y2="137" stroke="#505050" stroke-width="0.9" />
<line x1="302.5" y1="135.5" x2="302.5" y2="138.1" stroke="#505050" stroke-width="0.9" />
<line x1="314.2" y1="135.5" x2="314.2" y2="137" stroke="#505050" stroke-width="0.9" />
<line x1="325.9" y1="135.5" x2="325.9" y2="138.1" stroke="#505050" stroke-width="0.9" />
<line x1="337.6" y1="135.5" x2="337.6" y2="137" stroke="#505050" stroke-width="0.9" />
<line x1="349.3" y1="135.5" x2="349.3" y2="138.1" stroke="#505050" stroke-width="0.9" />
<line x1="361" y1="135.5" x2="361" y2="137" stroke="#505050" stroke-width="0.9" />
<line x1="372.7" y1="135.5" x2="372.7" y2="138.1" stroke="#505050" stroke-width="0.9" />
<line x1="384.4" y1="135.5" x2="384.4" y2="137" stroke="#505050" stroke-width="0.9" />
<line x1="396.1" y1="135.5" x2="396.1" y2="138.1" stroke="#505050" stroke-width="0.9" />
<line x1="407.8" y1="135.5" x2="407.8" y2="137" stroke="#505050" stroke-width="0.9" />
<line x1="419.5" y1="135.5" x2="419.5" y2="138.1" stroke="#505050" stroke-width="0.9" />
<text x="255.7" y="146" font-size="8.4" font-weight="bold" fill="#000" text-anchor="middle">800</text>
<text x="279.1" y="146" font-size="8.4" font-weight="bold" fill="#000" text-anchor="middle">1000</text>
<text x="302.5" y="146" font-size="8.4" font-weight="bold" fill="#000" text-anchor="middle">1200</text>
<text x="325.9" y="146" font-size="8.4" font-weight="bold" fill="#000" text-anchor="middle">1400</text>
<text x="349.3" y="146" font-size="8.4" font-weight="bold" fill="#000" text-anchor="middle">1600</text>
<text x="372.7" y="146" font-size="8.4" font-weight="bold" fill="#000" text-anchor="middle">1800</text>
<text x="396.1" y="146" font-size="8.4" font-weight="bold" fill="#000" text-anchor="middle">2000</text>
<text x="419.5" y="146" font-size="8.4" font-weight="bold" fill="#000" text-anchor="middle">2200</text>
<text x="291.6" y="161.4" font-size="10.9" font-weight="bold" fill="#000" text-anchor="start">Raman Shift (cm<tspan font-size="6.2" dy="-4">-1</tspan><tspan dy="4">)</tspan></text>
<text x="237.2" y="70.4" font-size="10.8" font-weight="bold" fill="#000" text-anchor="middle" textLength="68" lengthAdjust="spacingAndGlyphs" transform="rotate(-90 237.2 70.4)">Intensity (a.u.)</text>
<text x="220.2" y="11.6" font-size="14.2" font-weight="bold" fill="#000" text-anchor="start" textLength="17.6" lengthAdjust="spacingAndGlyphs">(b)</text>
<text x="307.2" y="13.7" font-size="6.5" font-weight="bold" fill="#000" text-anchor="start" textLength="23.9" lengthAdjust="spacingAndGlyphs">D band</text>
<text x="338.5" y="13" font-size="6.5" font-weight="bold" fill="#000" text-anchor="start" textLength="22.8" lengthAdjust="spacingAndGlyphs">G band</text>
<text x="245.1" y="62.4" font-size="6.6" font-weight="bold" fill="#000" text-anchor="start" style="letter-spacing:0.22px">I<tspan font-size="5.0" dy="2.6">D</tspan><tspan dy="-2.6">/I</tspan><tspan font-size="5.0" dy="2.6">G</tspan><tspan dy="-2.6">=0.98</tspan></text>
<text x="245.1" y="89.9" font-size="6.6" font-weight="bold" fill="#ff0000" text-anchor="start" style="letter-spacing:0.22px">I<tspan font-size="5.0" dy="2.6">D</tspan><tspan dy="-2.6">/I</tspan><tspan font-size="5.0" dy="2.6">G</tspan><tspan dy="-2.6">=0.97</tspan></text>
<text x="245.1" y="111.8" font-size="6.6" font-weight="bold" fill="#0000ff" text-anchor="start" style="letter-spacing:0.22px">I<tspan font-size="5.0" dy="2.6">D</tspan><tspan dy="-2.6">/I</tspan><tspan font-size="5.0" dy="2.6">G</tspan><tspan dy="-2.6">=0.95</tspan></text>
<text x="245.1" y="127" font-size="6.6" font-weight="bold" fill="#ff8c1a" text-anchor="start" style="letter-spacing:0.22px">I<tspan font-size="5.0" dy="2.6">D</tspan><tspan dy="-2.6">/I</tspan><tspan font-size="5.0" dy="2.6">G</tspan><tspan dy="-2.6">=0.96</tspan></text>
<text x="389.65" y="67.7" font-size="6.9" font-weight="bold" fill="#1a1a1a" text-anchor="start" textLength="27.8" lengthAdjust="spacingAndGlyphs">SCC-KU</text>
<text x="367.85" y="92.6" font-size="6.9" font-weight="bold" fill="#1a1a1a" text-anchor="start" textLength="49.6" lengthAdjust="spacingAndGlyphs">Ru@SCC-KU-8</text>
<text x="374.55" y="113.1" font-size="6.9" font-weight="bold" fill="#1a1a1a" text-anchor="start" textLength="42.9" lengthAdjust="spacingAndGlyphs">Ru@SCC-KU</text>
<text x="368.25" y="130" font-size="6.9" font-weight="bold" fill="#1a1a1a" text-anchor="start" textLength="49.2" lengthAdjust="spacingAndGlyphs">Ru@SCC-KU-6</text>
<polyline fill="none" stroke="#111" stroke-width="0.8" stroke-linejoin="round"  points="488,124.83 488.5,124.87 489,124.31 489.5,124.81 490,124.97 490.5,125.08 491,124.77 491.5,124.9 492,124.93 492.5,124.58 493,124.53 493.5,125.3 494,124.45 494.5,125.04 495,124.67 495.5,125.06 496,124.41 496.5,124.72 497,124.64 497.5,124.45 498,124.59 498.5,124.24 499,124.42 499.5,124.3 500,124.61 500.5,124.34 501,123.93 501.5,124.2 502,124.26 502.5,124 503,124.63 503.5,124.33 504,124.43 504.5,123.93 505,124.01 505.5,124.4 506,123.66 506.5,124.16 507,124.05 507.5,123.86 508,124 508.5,123.63 509,123.99 509.5,123.54 510,123.5 510.5,124.26 511,123.61 511.5,123.17 512,124.06 512.5,123.52 513,122.68 513.5,123.67 514,123.94 514.5,123.74 515,124.12 515.5,123.38 516,123.39 516.5,122.72 517,122.86 517.5,123.06 518,122.56 518.5,122.26 519,121.43 519.5,122.34 520,122.51 520.5,123.56 521,123.56 521.5,124.32 522,123.86 522.5,124.66 523,123.7 523.5,124.03 524,124.7 524.5,123.93 525,123.56 525.5,123.95 526,124.03 526.5,123.95 527,123.07 527.5,123.68 528,122.95 528.5,124.09 529,123.51 529.5,123.32 530,123.61 530.5,123.52 531,122.98 531.5,123.77 532,123.18 532.5,122.69 533,123.59 533.5,123.59 534,123.47 534.5,123.22 535,122.75 535.5,123.25 536,123.48 536.5,123.14 537,123.33 537.5,122.58 538,123.08 538.5,123.01 539,122.25 539.5,122.17 540,122.4 540.5,122.6 541,122.67 541.5,122.43 542,122.43 542.5,122.38 543,122.4 543.5,122.51 544,122.44 544.5,122.24 545,122.29 545.5,122.05 546,122.38 546.5,121.96 547,122.57 547.5,122.04 548,122.1 548.5,121.75 549,121.85 549.5,121.96 550,121.89 550.5,121.66 551,121.47 551.5,121.79 552,121.79 552.5,121.88 553,122.05 553.5,121.55 554,121.02 554.5,121.54 555,121 555.5,121.13 556,121.79 556.5,121.62 557,121.22 557.5,121.19 558,121.32 558.5,120.79 559,121.42 559.5,121.14 560,121.76 560.5,120.88 561,121.49 561.5,120.97 562,121.46 562.5,120.85 563,121.35 563.5,120.99 564,120.86 564.5,121.05 565,121.22 565.5,121.19 566,121.52 566.5,121.28 567,120.24 567.5,120.89 568,120.4 568.5,120.87 569,121.15 569.5,120.56 570,120.59 570.5,120.97 571,120.83 571.5,121.37 572,120.98 572.5,121.03 573,121.38 573.5,120.69 574,120.83 574.5,120.52 575,120.88 575.5,121.09 576,121.18 576.5,120.74 577,120.53 577.5,120.5 578,120.29 578.5,120.73 579,121.08 579.5,119.95 580,119.99 580.5,121.04 581,120.12 581.5,120.67 582,120.17 582.5,120.75 583,120.71 583.5,120.47 584,120.6 584.5,120.26 585,120.23 585.5,120.25 586,119.12 586.5,115.41 587,107.71 587.5,115.46 588,118.58 588.5,119.53 589,119.64 589.5,120.15 590,120.03 590.5,120.15 591,120.04 591.5,120.21 592,119.65 592.5,120.46 593,120.07 593.5,120.07 594,120.09 594.5,120.2 595,120.07 595.5,119.89 596,119.73 596.5,119.26 597,119.78 597.5,119.59 598,119.55 598.5,120.33 599,119.02 599.5,119.56 600,119.87 600.5,119.72 601,119.73 601.5,118.91 602,118.93 602.5,119.33 603,118.98 603.5,119.5 604,118.98 604.5,118.9 605,118.9 605.5,118.61 606,118.65 606.5,118.34 607,118.46 607.5,118.25 608,118.4 608.5,117.82 609,117.72 609.5,118.23 610,118.09 610.5,117.58 611,117.65 611.5,117.26 612,118.03 612.5,116.8 613,117.64 613.5,116.73 614,116.95 614.5,116.63 615,116.49 615.5,116.77 616,116.62 616.5,116.18 617,115.88 617.5,116.66 618,116.35 618.5,115.86 619,115.62 619.5,115.68 620,115.51 620.5,115.73 621,116.09 621.5,118.15 622,119.67 622.5,122.06 622.5,122.21 622.6,122 622.7,120.19 622.8,118.45 622.9,115.94 623,113.75 623,114.34 623.1,112.18 623.2,109.96 623.3,108.46 623.4,106.1 623.5,103.49 623.5,104.13 623.6,102.01 623.7,100.59 623.8,97.69 623.9,95.3 624,93.16 624,93.1 624.1,98.27 624.2,104.4 624.3,109.93 624.4,117.38 624.5,124.61 624.5,123.56 624.6,130.54 624.7,130.58 624.8,130.63 624.9,130.63 625,130.85 625.5,131.17 626,130.46 626.5,130.4 627,130.32 627.5,131.21 628,131.29 628.5,130.44 629,130.42 629.5,130.96 630,131.26 630.5,131.25 631,131.01 631.5,131.17 632,131.07 632.5,130.82 633,131.56 633.5,131 634,130.68 634.5,130.88 635,130.57 635.5,131.05 636,131.38 636.5,130.68 637,131.41 637.5,131.71 638,131.2 638.5,130.75 639,130.85 639.5,131.02 640,130.74 640.5,130.76 641,131.07 641.5,131.1 642,131.35 642.5,130.82 643,131.75 643.5,131.52 644,131.48 644.5,131.02 645,131.75 645.5,131.14 646,131.8 646.5,131.59 647,131.02 647.5,131.16 648,131.88 648.5,131.63 649,131.3 649.5,131.42 650,131.43 650.5,131.15 651,131.34 651.5,131.22 652,131.3 652.5,131.58 653,131.17 653.5,131.69 654,131.52 654.5,131.73 655,131.78 655.5,131.9 656,131.73 656.5,131.77 657,131.52 657.5,131.76 658,131.33 658.5,131.54 659,131.85 659.5,131.63 660,131.79 660.5,131.35 661,132.1 661.5,131.53 662,131.83 662.5,131.72 663,132.02 663.5,131.64 664,131.47 664.5,131.21 665,131.71 665.5,131.45 666,131.99"/>
<polyline fill="none" stroke="#1a1aff" stroke-width="0.8" stroke-linejoin="round"  points="488,92.42 488.5,92.34 489,92.67 489.5,92.63 490,92.6 490.5,92.45 491,92.38 491.5,92.97 492,91.98 492.5,92.72 493,92.5 493.5,92.41 494,92.24 494.5,92.3 495,92.04 495.5,91.97 496,92.27 496.5,91.86 497,92.47 497.5,92.52 498,91.36 498.5,91.82 499,92.25 499.5,92.22 500,92.18 500.5,92.24 501,92.3 501.5,92.31 502,92.52 502.5,92.06 503,92.25 503.5,91.61 504,91.97 504.5,91.68 505,92.31 505.5,92.53 506,92.06 506.5,91.58 507,91.86 507.5,91.88 508,91.9 508.5,92.11 509,92.05 509.5,91.13 510,92.12 510.5,91.64 511,91.6 511.5,92.08 512,91.64 512.5,91.34 513,91.34 513.5,91.66 514,91.86 514.5,91.99 515,91.55 515.5,91.44 516,91.92 516.5,91.36 517,91.8 517.5,91.45 518,91.41 518.5,91.26 519,91.35 519.5,91.12 520,91.02 520.5,90.91 521,90.53 521.5,90.52 522,90.22 522.5,90.38 523,90.64 523.5,90.89 524,91.63 524.5,91.16 525,90.99 525.5,91.03 526,91.25 526.5,91 527,90.98 527.5,90.93 528,91.01 528.5,91.03 529,91.02 529.5,90.47 530,90.58 530.5,90.17 531,90.99 531.5,91.04 532,91.06 532.5,90.74 533,90.97 533.5,90.64 534,90.59 534.5,90.21 535,90.37 535.5,90.39 536,90.74 536.5,90.89 537,90.33 537.5,90.52 538,90.46 538.5,90.17 539,89.91 539.5,90.12 540,89.92 540.5,90.17 541,90.19 541.5,90.15 542,90.12 542.5,90.26 543,89.87 543.5,90.3 544,89.63 544.5,90.04 545,90.09 545.5,89.75 546,89.5 546.5,90.01 547,89.64 547.5,89.95 548,89.9 548.5,89.66 549,89.62 549.5,89.82 550,89.62 550.5,89.25 551,89.47 551.5,89.52 552,89.39 552.5,89.34 553,89.21 553.5,89.17 554,88.92 554.5,88.75 555,89.34 555.5,88.85 556,89.02 556.5,88.54 557,88.91 557.5,88.62 558,89.52 558.5,88.48 559,88.44 559.5,88.87 560,88.87 560.5,88.04 561,88.6 561.5,88.73 562,88.18 562.5,88.63 563,88.3 563.5,88.15 564,88.29 564.5,88.23 565,87.98 565.5,88.85 566,88.15 566.5,88.05 567,88.43 567.5,88.17 568,88.49 568.5,88.07 569,88.19 569.5,88.1 570,88.09 570.5,87.97 571,87.97 571.5,88.39 572,87.77 572.5,87.78 573,87.8 573.5,88 574,87.93 574.5,88.04 575,87.44 575.5,87.81 576,87.68 576.5,87.62 577,87.71 577.5,87.15 578,87.68 578.5,87.62 579,87.2 579.5,87.5 580,87.88 580.5,87.37 581,87.58 581.5,87.34 582,87.16 582.5,87.1 583,87.19 583.5,87.56 584,87.38 584.5,86.92 585,87.22 585.5,86.72 586,86.06 586.5,84.54 587,79.92 587.5,84 588,86.45 588.5,86.15 589,86.91 589.5,86.47 590,86.86 590.5,86.83 591,86.76 591.5,86.32 592,86.82 592.5,86.82 593,86.59 593.5,86.77 594,87.02 594.5,86.57 595,86.79 595.5,86.42 596,86.77 596.5,86.81 597,87.24 597.5,86.83 598,86.69 598.5,86.91 599,86.29 599.5,86.78 600,86.35 600.5,86.26 601,86.61 601.5,86.32 602,86.52 602.5,85.76 603,86.11 603.5,85.84 604,85.82 604.5,85.35 605,85.97 605.5,85.72 606,85.35 606.5,85.18 607,85.23 607.5,85.71 608,85.27 608.5,85.14 609,85.26 609.5,85.07 610,85.05 610.5,85.09 611,84.9 611.5,84.95 612,84.35 612.5,84.57 613,84.38 613.5,84.41 614,84.29 614.5,84.04 615,84.02 615.5,84.24 616,83.77 616.5,83.51 617,83.86 617.5,83.86 618,83.45 618.5,83.45 619,83.12 619.5,83.18 620,83.4 620.5,83.23 621,84.17 621.5,85.96 622,87.52 622.5,89.9 622.5,89.93 622.6,90.46 622.7,89 622.8,86.91 622.9,85.37 623,83.17 623,83.74 623.1,81.97 623.2,80.4 623.3,78.54 623.4,76.8 623.5,75.36 623.5,74.84 623.6,65.16 623.7,55.26 623.8,44.81 623.9,33.97 624,23.61 624,23.53 624.1,34.4 624.2,45.16 624.3,62.31 624.4,80.08 624.5,90.43 624.5,90.06 624.6,100.23 624.7,100.03 624.8,100.5 624.9,100.78 625,99.97 625.5,100.5 626,100.54 626.5,100.19 627,100.25 627.5,100.09 628,100.16 628.5,100.4 629,100.53 629.5,100.4 630,100.59 630.5,100.44 631,100.11 631.5,100.76 632,100.7 632.5,100.25 633,100.86 633.5,100.55 634,100.47 634.5,100.92 635,99.85 635.5,100.07 636,100.65 636.5,100.42 637,100.26 637.5,100.86 638,100.62 638.5,100.2 639,100.36 639.5,100.73 640,100.97 640.5,100.05 641,100.61 641.5,100.46 642,100.14 642.5,100.53 643,100.19 643.5,100.45 644,100.99 644.5,100.72 645,100.8 645.5,100.77 646,100.72 646.5,100.89 647,100.38 647.5,100.59 648,100.9 648.5,100.53 649,100.62 649.5,101.03 650,101.12 650.5,100.62 651,100.58 651.5,100.94 652,100.87 652.5,100.66 653,100.98 653.5,100.99 654,100.89 654.5,101.6 655,101.23 655.5,101.11 656,101.17 656.5,101.66 657,101.22 657.5,100.79 658,101.06 658.5,101.01 659,100.87 659.5,101.09 660,101.1 660.5,101.04 661,100.95 661.5,101.28 662,100.71 662.5,101.31 663,101.13 663.5,101.21 664,100.57 664.5,101.58 665,100.76 665.5,100.98 666,101.37"/>
<rect x="487.5" y="4.5" width="179" height="133" fill="none" stroke="#505050" stroke-width="1"/>
<line x1="666.5" y1="137.5" x2="666.5" y2="140.3" stroke="#505050" stroke-width="0.9" />
<line x1="651.58" y1="137.5" x2="651.58" y2="139.1" stroke="#505050" stroke-width="0.9" />
<line x1="636.67" y1="137.5" x2="636.67" y2="140.3" stroke="#505050" stroke-width="0.9" />
<line x1="621.75" y1="137.5" x2="621.75" y2="139.1" stroke="#505050" stroke-width="0.9" />
<line x1="606.83" y1="137.5" x2="606.83" y2="140.3" stroke="#505050" stroke-width="0.9" />
<line x1="591.92" y1="137.5" x2="591.92" y2="139.1" stroke="#505050" stroke-width="0.9" />
<line x1="577" y1="137.5" x2="577" y2="140.3" stroke="#505050" stroke-width="0.9" />
<line x1="562.08" y1="137.5" x2="562.08" y2="139.1" stroke="#505050" stroke-width="0.9" />
<line x1="547.17" y1="137.5" x2="547.17" y2="140.3" stroke="#505050" stroke-width="0.9" />
<line x1="532.25" y1="137.5" x2="532.25" y2="139.1" stroke="#505050" stroke-width="0.9" />
<line x1="517.33" y1="137.5" x2="517.33" y2="140.3" stroke="#505050" stroke-width="0.9" />
<line x1="502.42" y1="137.5" x2="502.42" y2="139.1" stroke="#505050" stroke-width="0.9" />
<line x1="487.5" y1="137.5" x2="487.5" y2="140.3" stroke="#505050" stroke-width="0.9" />
<text x="666.5" y="148.1" font-size="8.5" font-weight="bold" fill="#000" text-anchor="middle">0</text>
<text x="636.67" y="148.1" font-size="8.5" font-weight="bold" fill="#000" text-anchor="middle">200</text>
<text x="606.83" y="148.1" font-size="8.5" font-weight="bold" fill="#000" text-anchor="middle">400</text>
<text x="577" y="148.1" font-size="8.5" font-weight="bold" fill="#000" text-anchor="middle">600</text>
<text x="547.17" y="148.1" font-size="8.5" font-weight="bold" fill="#000" text-anchor="middle">800</text>
<text x="517.33" y="148.1" font-size="8.5" font-weight="bold" fill="#000" text-anchor="middle">1000</text>
<text x="487.5" y="148.1" font-size="8.5" font-weight="bold" fill="#000" text-anchor="middle">1200</text>
<text x="582.1" y="161.9" font-size="10.8" font-weight="bold" fill="#000" text-anchor="middle" textLength="100.8" lengthAdjust="spacingAndGlyphs">Binding Energy (eV)</text>
<text x="480.3" y="69.5" font-size="11.2" font-weight="bold" fill="#000" text-anchor="middle" textLength="35" lengthAdjust="spacingAndGlyphs" transform="rotate(-90 480.3 69.5)">Counts</text>
<text x="458.6" y="12.6" font-size="14.2" font-weight="bold" fill="#000" text-anchor="start" textLength="18" lengthAdjust="spacingAndGlyphs">(c)</text>
<line x1="491.5" y1="11.3" x2="505.5" y2="11.3" stroke="#666" stroke-width="0.9" />
<line x1="491.5" y1="21.3" x2="505.5" y2="21.3" stroke="#7a7aee" stroke-width="0.9" />
<text x="507" y="13.6" font-size="6.8" font-weight="bold" fill="#222" text-anchor="start" textLength="28" lengthAdjust="spacingAndGlyphs">SCC-KU</text>
<text x="507" y="23.3" font-size="6.8" font-weight="bold" fill="#222" text-anchor="start" textLength="43.8" lengthAdjust="spacingAndGlyphs">Ru@SCC-KU</text>
<text x="618.5" y="20.9" font-size="6.9" font-weight="bold" fill="#000" text-anchor="start" textLength="12.8" lengthAdjust="spacingAndGlyphs">C1s</text>
<text x="580.7" y="73.2" font-size="6.4" font-weight="bold" fill="#000" text-anchor="start" textLength="12.7" lengthAdjust="spacingAndGlyphs">O1s</text>
<text x="589.7" y="82.1" font-size="6.4" font-weight="bold" fill="#000" text-anchor="start" textLength="17.6" lengthAdjust="spacingAndGlyphs">Ru3p</text>
<polyline fill="none" stroke="#1a1a1a" stroke-width="0.7" stroke-linejoin="round"  points="28.1,297.25 28.9,301.6 29.7,300.11 30.5,297.32 31.3,299.43 32.1,299.49 32.9,294.45 33.7,292.85 34.5,293.67 35.3,296.73 36.1,301.34 36.9,302.38 37.7,297.34 38.5,298.51 39.3,295.6 40.1,297.61 40.9,293.24 41.7,293.39 42.5,286.49 43.3,288.69 44.1,295.17 44.9,280.35 45.7,280.88 46.5,269.87 47.3,279.48 48.1,276.56 48.9,268.9 49.7,266.24 50.5,268.95 51.3,270.04 52.1,262.02 52.9,262.87 53.7,250.51 54.5,252.48 55.3,254.14 56.1,244.8 56.9,243.25 57.7,244.2 58.5,239.5 59.3,239.5 60.1,241.44 60.9,239.5 61.7,242.95 62.5,240.63 63.3,240.09 64.1,243.6 64.9,245.65 65.7,248.39 66.5,247.63 67.3,246.71 68.1,253.37 68.9,253.52 69.7,257 70.5,272.8 71.3,275.66 72.1,268.78 72.9,267.71 73.7,279.59 74.5,277.33 75.3,277.38 76.1,285.21 76.9,278.19 77.7,288.2 78.5,275 79.3,292.07 80.1,283.13 80.9,284.98 81.7,283.01 82.5,290.87 83.3,290.98 84.1,289.49 84.9,289.53 85.7,289.28 86.5,285.8 87.3,282.17 88.1,282.62 88.9,283.08 89.7,286.05 90.5,284.95 91.3,286.14 92.1,288.41 92.9,287.01 93.7,285.3 94.5,285.22 95.3,285.06 96.1,297.32 96.9,296.6 97.7,289.07 98.5,293.36 99.3,297.22 100.1,301.09 100.9,293.04 101.7,297.02 102.5,300.41 103.3,290.12 104.1,293.19 104.9,296.19 105.7,293.3 106.5,303.45 107.3,299.82 108.1,297.45 108.9,292.43 109.7,299.72 110.5,298.91 111.3,293.78 112.1,294.15 112.9,290.69 113.7,295.56 114.5,299.5 115.3,299.73 116.1,298.62 116.9,299.36 117.7,293.38 118.5,294.13 119.3,300.68 120.1,298.11 120.9,292.45 121.7,297.94 122.5,299.08 123.3,298.67 124.1,296.76 124.9,293.04 125.7,297.31 126.5,300.65 127.3,295.32 128.1,291.13 128.9,295.98 129.7,289.45 130.5,295.7 131.3,292.37 132.1,297.8 132.9,293.73 133.7,297.54 134.5,300.51 135.3,291.41 136.1,288.77 136.9,293.25 137.7,290.77 138.5,290.96 139.3,287.8 140.1,289.93 140.9,289.46 141.7,278.7 142.5,282.01 143.3,289.89 144.1,289.97 144.9,280.61 145.7,275.15 146.5,284.67 147.3,274.07 148.1,278.07 148.9,275.03 149.7,278.07 150.5,269.81 151.3,271.13 152.1,275.55 152.9,263.22 153.7,263.46 154.5,272.79 155.3,267.61 156.1,262.5 156.9,262.5 157.7,262.8 158.5,262.5 159.3,262.5 160.1,267.27 160.9,268.77 161.7,266.74 162.5,266.81 163.3,271.22 164.1,270.52 164.9,265.14 165.7,270.41 166.5,271.77 167.3,276.52 168.1,276.74 168.9,272.93 169.7,275.97 170.5,287.27 171.3,277.05 172.1,281.19 172.9,277.45 173.7,288.99 174.5,283.63 175.3,282.65 176.1,280.89 176.9,283.68 177.7,289.91 178.5,288.22 179.3,282.92 180.1,293.63 180.9,288.66 181.7,285.53 182.5,290.45 183.3,287.6 184.1,288.43 184.9,287.89 185.7,290.72 186.5,289.33 187.3,286.35 188.1,294.33 188.9,289.41 189.7,297.01 190.5,295.44 191.3,295.12 192.1,294.59 192.9,297.8 193.7,291.82 194.5,289.35 195.3,295.14 196.1,284.73 196.9,291.84 197.7,294.71 198.5,292.15 199.3,298.57 200.1,297.07 200.9,294.83"/>
<polyline fill="none" stroke="#3a3ad8" stroke-width="0.9" stroke-linejoin="round"  points="44.6,303.6 70,302.3 100,300.8 118,300.3"/>
<polyline fill="none" stroke="#333" stroke-width="0.9" stroke-linejoin="round"  points="28,304.7 44.6,304.5"/>
<polyline fill="none" stroke="#22cc22" stroke-width="1" stroke-linejoin="round"  points="66,250.25 66.8,252.14 67.6,254.97 68.4,257.76 69.2,260.52 70,263.25 70.8,265.98 71.6,268.64 72.4,271.19 73.2,273.64 74,276.06 74.8,278.37 75.6,280.39 76.4,282.1 77.2,283.64 78,285.19 78.8,286.74 79.6,288.1 80.4,289.24 81.2,290.14 82,291.01 82.8,291.89 83.6,292.69 84.4,293.36 85.2,293.88 86,294.33 86.8,294.79 87.6,295.24 88.4,295.69 89.2,296.15 90,296.52 90.8,296.8 91.6,297.01 92.4,297.21 93.2,297.42 94,297.62 94.8,297.83 95.6,298.03 96.4,298.24 97.2,298.44 98,298.61 98.8,298.73 99.6,298.78 140,300.8"/>
<polyline fill="none" stroke="#666" stroke-width="0.9" stroke-linejoin="round"  points="140,300.8 163,300.5 163,299.4 195,299.3"/>
<polyline fill="none" stroke="#22cc22" stroke-width="1.1" stroke-linejoin="round"  points="190,299.3 195,298.8 201,297"/>
<polyline fill="none" stroke="#e8a000" stroke-width="0.7" stroke-linejoin="round"  points="29,300.89 29.8,300.68 30.6,300.36 31.4,300.04 32.2,299.72 33,299.4 33.8,299.01 34.6,298.54 35.4,297.97 36.2,297.39 37,296.8 37.8,296.21 38.6,295.63 39.4,294.99 40.2,294.14 41,293.07 41.8,291.85 42.6,290.63 43.4,289.33 44.2,287.66 45,285.63 45.8,283.33 46.6,281.04 47.4,278.78 48.2,276.53 49,274.29 49.8,272.12 50.6,270.02 51.4,268 52.2,265.79 53,263.3 53.8,260.54 54.6,257.71 55.4,254.93 56.2,252.29 57,249.8 57.8,247.4 58.6,245 59.4,242.93 60.2,241.2 61,240.17 61.8,239.72 62.6,240.05 63.4,241.19 64.2,243.03 65,245.5 65.8,248.2 66.6,251.03 67.4,253.87 68.2,256.67 69,259.43 69.8,262.17 70.6,264.9 71.4,266.72"/>
<polyline fill="none" stroke="#ff3030" stroke-width="0.8" stroke-linejoin="round"  points="28.1,300.74 29,300.5 29.9,300.14 30.8,299.78 31.7,299.42 32.6,299.06 33.5,298.66 34.4,298.15 35.3,297.55 36.2,296.89 37.1,296.23 38,295.57 38.9,294.91 39.8,294.06 40.7,292.98 41.6,291.66 42.5,290.29 43.4,288.78 44.3,286.87 45.2,284.55 46.1,281.97 47,279.41 47.9,276.87 48.8,274.35 49.7,271.9 50.6,269.53 51.5,267.25 52.4,264.69 53.3,261.81 54.2,258.62 55.1,255.45 56,252.44 56.9,249.6 57.8,246.9 58.7,244.28 59.6,242.04 60.5,240.36 61.4,239.47 62.3,239.38 63.2,240.39 64.1,242.31 65,245.03 65.9,248.05 66.8,251.24 67.7,254.41 68.6,257.55 69.5,260.64 70.4,263.72 71.3,266.74 72.2,269.65 73.1,272.44 74,275.16 74.9,277.7 75.8,279.91 76.7,281.78 77.6,283.51 78.5,285.26 79.4,286.84 80.3,288.17 81.2,289.24 82.1,290.22 83,291.21 83.9,292.05 84.8,292.74 85.7,293.26 86.6,293.77 87.5,294.28 88.4,294.79 89.3,295.28 90.2,295.68 91.1,295.98 92,296.21 92.9,296.44 93.8,296.67 94.7,296.9 95.6,297.13 96.5,297.36 97.4,297.59 98.3,297.76 99.2,297.87 100.1,297.94 101,298 101.9,298.07 102.8,298.14 103.7,298.2 104.6,298.27 105.5,298.33 106.4,298.37 107.3,298.37 108.2,298.33 109.1,298.3 110,298.26 110.9,298.23 111.8,298.2 112.7,298.16 113.6,298.13 114.5,298.09 115.4,298.06 116.3,298.02 117.2,297.94 118.1,297.83 119,297.7 119.9,297.56 120.8,297.43 121.7,297.29 122.6,297.16 123.5,297.01 124.4,296.82 125.3,296.57 126.2,296.27 127.1,295.97 128,295.67 128.9,295.37 129.8,295.07 130.7,294.78 131.6,294.49 132.5,294.21 133.4,293.92 134.3,293.64 135.2,293.35 136.1,293.07 137,292.78 137.9,292.38 138.8,291.84 139.7,291.18 140.6,290.52 141.5,289.8 142.4,288.94 143.3,287.93 144.2,286.85 145.1,285.73 146,284.34 146.9,282.67 147.8,280.75 148.7,278.83 149.6,276.91 150.5,275.02 151.4,273.26 152.3,271.64 153.2,270.12 154.1,268.59 155,267.35 155.9,266.41 156.8,265.79 157.7,265.32 158.6,265.03 159.5,265.01 160.4,265.19 161.3,265.7 162.2,266.48 163.1,267.56 164,268.88 164.9,270.4 165.8,272.04 166.7,273.69 167.6,275.33 168.5,276.91 169.4,278.42 170.3,279.88 171.2,281.34 172.1,282.8 173,284.21 173.9,285.37 174.8,286.28 175.7,287.01 176.6,287.73 177.5,288.45 178.4,289.17 179.3,289.9 180.2,290.54 181.1,291.09 182,291.55 182.9,292 183.8,292.45 184.7,292.9 185.6,293.35 186.5,293.75 187.4,294.07 188.3,294.3 189.2,294.49 190.1,294.69 191,294.88 191.9,295.08 192.8,295.27 193.7,295.46 194.6,295.66 195.5,295.84 196.4,296 197.3,296.14 198.2,296.25 199.1,296.36 200,296.47 200.9,296.55"/>
<rect x="27.5" y="177.5" width="174" height="129" fill="none" stroke="#505050" stroke-width="1"/>
<line x1="27.5" y1="306.5" x2="27.5" y2="309.1" stroke="#505050" stroke-width="0.9" />
<line x1="49.25" y1="306.5" x2="49.25" y2="309.1" stroke="#505050" stroke-width="0.9" />
<line x1="71" y1="306.5" x2="71" y2="309.1" stroke="#505050" stroke-width="0.9" />
<line x1="92.75" y1="306.5" x2="92.75" y2="309.1" stroke="#505050" stroke-width="0.9" />
<line x1="114.5" y1="306.5" x2="114.5" y2="309.1" stroke="#505050" stroke-width="0.9" />
<line x1="136.25" y1="306.5" x2="136.25" y2="309.1" stroke="#505050" stroke-width="0.9" />
<line x1="158" y1="306.5" x2="158" y2="309.1" stroke="#505050" stroke-width="0.9" />
<line x1="179.75" y1="306.5" x2="179.75" y2="309.1" stroke="#505050" stroke-width="0.9" />
<line x1="201.5" y1="306.5" x2="201.5" y2="309.1" stroke="#505050" stroke-width="0.9" />
<line x1="38.38" y1="306.5" x2="38.38" y2="308" stroke="#505050" stroke-width="0.9" />
<line x1="60.12" y1="306.5" x2="60.12" y2="308" stroke="#505050" stroke-width="0.9" />
<line x1="81.88" y1="306.5" x2="81.88" y2="308" stroke="#505050" stroke-width="0.9" />
<line x1="103.62" y1="306.5" x2="103.62" y2="308" stroke="#505050" stroke-width="0.9" />
<line x1="125.38" y1="306.5" x2="125.38" y2="308" stroke="#505050" stroke-width="0.9" />
<line x1="147.12" y1="306.5" x2="147.12" y2="308" stroke="#505050" stroke-width="0.9" />
<line x1="168.88" y1="306.5" x2="168.88" y2="308" stroke="#505050" stroke-width="0.9" />
<line x1="190.62" y1="306.5" x2="190.62" y2="308" stroke="#505050" stroke-width="0.9" />
<text x="27.5" y="316.6" font-size="8.4" font-weight="bold" fill="#000" text-anchor="middle">455</text>
<text x="49.25" y="316.6" font-size="8.4" font-weight="bold" fill="#000" text-anchor="middle">460</text>
<text x="71" y="316.6" font-size="8.4" font-weight="bold" fill="#000" text-anchor="middle">465</text>
<text x="92.75" y="316.6" font-size="8.4" font-weight="bold" fill="#000" text-anchor="middle">470</text>
<text x="114.5" y="316.6" font-size="8.4" font-weight="bold" fill="#000" text-anchor="middle">475</text>
<text x="136.25" y="316.6" font-size="8.4" font-weight="bold" fill="#000" text-anchor="middle">480</text>
<text x="158" y="316.6" font-size="8.4" font-weight="bold" fill="#000" text-anchor="middle">485</text>
<text x="179.75" y="316.6" font-size="8.4" font-weight="bold" fill="#000" text-anchor="middle">490</text>
<text x="201.5" y="316.6" font-size="8.4" font-weight="bold" fill="#000" text-anchor="middle">495</text>
<text x="1.2" y="183.6" font-size="14.2" font-weight="bold" fill="#000" text-anchor="start" textLength="18.3" lengthAdjust="spacingAndGlyphs">(d)</text>
<text x="29.5" y="185.6" font-size="6.2" font-weight="bold" fill="#000" text-anchor="start" textLength="18" lengthAdjust="spacingAndGlyphs">Ru 3p</text>
<text x="155.2" y="184.5" font-size="6.2" font-weight="bold" fill="#222" text-anchor="start" textLength="42" lengthAdjust="spacingAndGlyphs">Ru@SCC-KU</text>
<text x="52.6" y="235.8" font-size="6.1" font-weight="bold" fill="#000" text-anchor="start" textLength="24.4" lengthAdjust="spacingAndGlyphs">Ru 3p<tspan font-size="4.6" dy="2.3">3/2</tspan></text>
<text x="74.1" y="248" font-size="6.1" font-weight="bold" fill="#000" text-anchor="start" textLength="11.4" lengthAdjust="spacingAndGlyphs">Ru<tspan font-size="4.2" dy="-2.6">0</tspan></text>
<line x1="62.7" y1="249.2" x2="73.3" y2="246.7" stroke="#222" stroke-width="0.6" />
<text x="150.8" y="259.6" font-size="6.1" font-weight="bold" fill="#000" text-anchor="start" textLength="24.6" lengthAdjust="spacingAndGlyphs">Ru 3p<tspan font-size="4.6" dy="2.3">1/2</tspan></text>
<text x="178" y="270.4" font-size="6.1" font-weight="bold" fill="#000" text-anchor="start" textLength="12.2" lengthAdjust="spacingAndGlyphs">Ru<tspan font-size="4.2" dy="-2.6">0</tspan></text>
<line x1="166" y1="271.4" x2="176.6" y2="269.1" stroke="#222" stroke-width="0.6" />
<text x="114.6" y="332.4" font-size="11.1" font-weight="bold" fill="#000" text-anchor="middle" textLength="98" lengthAdjust="spacingAndGlyphs">Binding Energy (eV)</text>
<text x="21.8" y="241.7" font-size="10.3" font-weight="bold" fill="#000" text-anchor="middle" textLength="31.5" lengthAdjust="spacingAndGlyphs" transform="rotate(-90 21.8 241.7)">Counts</text>
<polyline fill="none" stroke="#222" stroke-width="0.7" stroke-linejoin="round"  points="244,302.94 244.5,304.16 245,302.68 245.5,302.61 246,303.81 246.5,303.67 247,304.84 247.5,302.95 248,301.55 248.5,303.62 249,301.82 249.5,302.88 250,304.27 250.5,304.42 251,298.03 251.5,302.48 252,301.79 252.5,303.23 253,303.32 253.5,300.64 254,301.59 254.5,301.91 255,301.29 255.5,301.06 256,301.2 256.5,300.91 257,301.97 257.5,302.36 258,302.41 258.5,301.75 259,301.08 259.5,300.69 260,301.81 260.5,300.92 261,300.11 261.5,300.55 262,300.17 262.5,300.42 263,299.25 263.5,300.8 264,298.39 264.5,299.8 265,296.82 265.5,300.11 266,299.28 266.5,297.59 267,297.57 267.5,296.68 268,297.23 268.5,297.27 269,298.68 269.5,295.09 270,296.87 270.5,294.27 271,295.33 271.5,295.45 272,293.97 272.5,294.31 273,290.97 273.5,293.2 274,292.95 274.5,293.44 275,290.88 275.5,291.32 276,290.33 276.5,290.21 277,290 277.5,291.23 278,291.75 278.5,290.78 279,288.37 279.5,289.1 280,287.8 280.5,287.8 281,289.2 281.5,288.35 282,288.3 282.5,286.36 283,285.42 283.5,285.13 284,282.26 284.5,286.68 285,286.97 285.5,285.35 286,284.08 286.5,285.25 287,285.6 287.5,284.34 288,283.15 288.5,284.58 289,283.64 289.5,283.22 290,281.43 290.5,282.02 291,280.14 291.5,279.41 292,280.33 292.5,279.61 293,279.85 293.5,279.95 294,278.09 294.5,278.91 295,276.25 295.5,276.62 296,274.18 296.5,274.53 297,273.35 297.5,272.59 298,272.37 298.5,267.82 299,270.18 299.5,268.49 300,268.3 300.5,267.57 301,265.97 301.5,265 302,263.38 302.5,263.79 303,261.81 303.5,261.75 304,257.92 304.5,260.58 305,255.36 305.5,258.54 306,256.31 306.5,256.24 307,254.82 307.5,254.65 308,253.29 308.5,253.55 309,252.32 309.5,251.61 310,251.75 310.5,249.16 311,246.23 311.5,248.62 312,246.82 312.5,247.94 313,246.92 313.5,244.19 314,245.89 314.5,243.18 315,245.84 315.5,243.81 316,245.54 316.5,244.1 317,245.89 317.5,245.95 318,244.45 318.5,243.05 319,244.42 319.5,244.36 320,244.76 320.5,243.9 321,242.62 321.5,244.02 322,243.39 322.5,245.62 323,243.26 323.5,243.69 324,244.23 324.5,243.29 325,243.98 325.5,244.28 326,242.37 326.5,244.27 327,245.54 327.5,244.92 328,243.2 328.5,244.29 329,245.3 329.5,244.19 330,244.83 330.5,244.78 331,245.28 331.5,244.75 332,244.84 332.5,241.58 333,242.76 333.5,244.39 334,246.66 334.5,245.32 335,245.27 335.5,244.97 336,244.3 336.5,245.94 337,246 337.5,245.64 338,240.95 338.5,246.11 339,247.86 339.5,246.69 340,247.17 340.5,247.45 341,248.73 341.5,246.96 342,244.46 342.5,249.76 343,249.83 343.5,249.93 344,251.06 344.5,250.09 345,252.32 345.5,252.35 346,251.89 346.5,254.58 347,253.1 347.5,255.4 348,250.91 348.5,255.47 349,255.61 349.5,257.52 350,258.18 350.5,253.74 351,259.09 351.5,259.69 352,261.34 352.5,261.23 353,260.95 353.5,262.6 354,262.68 354.5,263.66 355,265.1 355.5,265.06 356,266.84 356.5,265.7 357,270.05 357.5,269.94 358,270.26 358.5,269.36 359,268.81 359.5,267.51 360,272.43 360.5,275 361,275.09 361.5,274.27 362,276.36 362.5,277.02 363,276.66 363.5,278.08 364,278.14 364.5,277.91 365,274.1 365.5,279.45 366,280.9 366.5,275.38 367,279.77 367.5,282.03 368,279.83 368.5,284.01 369,282.62 369.5,284.03 370,285.41 370.5,283.16 371,283.29 371.5,280.74 372,285.52 372.5,286.13 373,286.91 373.5,288.08 374,286.6 374.5,288.33 375,288.48 375.5,289.25 376,290.05 376.5,291.39 377,290.94 377.5,292.82 378,291.12 378.5,292.74 379,294.2 379.5,294.26 380,293.9 380.5,293.24 381,293.7 381.5,294.44 382,295.09 382.5,294.87 383,294.11 383.5,294.9 384,296.1 384.5,294.95 385,294.84 385.5,295.81 386,294.85 386.5,295.85 387,299.29 387.5,296.51 388,296.23 388.5,296.08 389,295.6 389.5,295.1 390,296.6 390.5,296.42 391,297.85 391.5,295.3 392,296.98 392.5,297.21 393,294.98 393.5,297.09 394,295.2 394.5,296.9 395,297.64 395.5,295.97 396,293.48 396.5,295.88 397,293.04 397.5,297.37 398,296.28 398.5,296.31 399,296.73 399.5,297.08 400,295.05 400.5,296.42 401,295.8 401.5,296.74 402,292.03 402.5,296.55 403,297.34 403.5,294.18 404,295.9 404.5,294.44 405,296.24 405.5,296.24 406,293.29 406.5,295.12 407,296.03 407.5,295.71 408,296.53 408.5,295.79 409,296.94 409.5,296.15 410,294.42 410.5,295.77 411,294.71 411.5,296.65 412,292.76 412.5,295.78 413,296.14 413.5,294.57 414,293.88 414.5,295.24 415,295.46 415.5,294.4 416,295.69 416.5,295.85 417,295.43 417.5,296.8 418,296.17 418.5,295.18 419,295.54 419.5,295.92 420,294.55 420.5,296.49 421,296.14 421.5,295.22"/>
<polyline fill="none" stroke="#888" stroke-width="0.9" stroke-linejoin="round"  points="244,303.28 244.5,303.27 245,303.25 245.5,303.24 246,303.22 246.5,303.21 247,303.19 247.5,303.18 248,303.16 248.5,303.15 249,303.13 249.5,303.12 250,303.1 250.5,303.09 251,303.07 251.5,303.06 252,303.04 252.5,303.03 253,303.01 253.5,303 254,302.98 254.5,302.97 255,302.95 255.5,302.94 256,302.92 256.5,302.91 257,302.89 257.5,302.88 258,302.86 258.5,302.85 259,302.83 259.5,302.82 260,302.8 260.5,302.79 261,302.77 261.5,302.76 262,302.74 262.5,302.73 263,302.71 263.5,302.7 264,302.68 264.5,302.67 265,302.65 265.5,302.64 266,302.62 266.5,302.61 267,302.59 267.5,302.58 268,302.56 268.5,302.55 269,302.53 269.5,302.52 270,302.5 270.5,302.49 271,302.47 271.5,302.46 272,302.44 272.5,302.43 273,302.41 273.5,302.4 274,302.38 274.5,302.37 275,302.35 275.5,302.34 276,302.32 276.5,302.31 277,302.29 277.5,302.28 278,302.26 278.5,302.25 279,302.23 279.5,302.22 280,302.2 280.5,302.19 281,302.17 281.5,302.16 282,302.14 282.5,302.13 283,302.11 283.5,302.1 284,302.08 284.5,302.07 285,302.05 285.5,302.04 286,302.02 286.5,302.01 287,301.99 287.5,301.98 288,301.96 288.5,301.95 289,301.93 289.5,301.92 290,301.9 290.5,301.89 291,301.87 291.5,301.86 292,301.84 292.5,301.83 293,301.81 293.5,301.8 294,301.78 294.5,301.77 295,301.75 295.5,301.74 296,301.72 296.5,301.71 297,301.69 297.5,301.68 298,301.66 298.5,301.65 299,301.63 299.5,301.62 300,301.6 300.5,301.59 301,301.57 301.5,301.56 302,301.54 302.5,301.53 303,301.51 303.5,301.5 304,301.48 304.5,301.47 305,301.45 305.5,301.44 306,301.42 306.5,301.41 307,301.39 307.5,301.38 308,301.36 308.5,301.35 309,301.33 309.5,301.32 310,301.3 310.5,301.29 311,301.27 311.5,301.26 312,301.24 312.5,301.23 313,301.21 313.5,301.2 314,301.18 314.5,301.17 315,301.15 315.5,301.14 316,301.12 316.5,301.11 317,301.09 317.5,301.08 318,301.06 318.5,301.05 319,301.03 319.5,301.02 320,301 320.5,300.99 321,300.97 321.5,300.96 322,300.94 322.5,300.93 323,300.91 323.5,300.9 324,300.88 324.5,300.87 325,300.85 325.5,300.84 326,300.82 326.5,300.81 327,300.79 327.5,300.78 328,300.76 328.5,300.75 329,300.73 329.5,300.72 330,300.7 330.5,300.69 331,300.67 331.5,300.66 332,300.64 332.5,300.63 333,300.61 333.5,300.6 334,300.58 334.5,300.57 335,300.55 335.5,300.54 336,300.52 336.5,300.51 337,300.49 337.5,300.48 338,300.46 338.5,300.45 339,300.43 339.5,300.42 340,300.4 340.5,300.39 341,300.37 341.5,300.36 342,300.34 342.5,300.33 343,300.31 343.5,300.3 344,300.28 344.5,300.27 345,300.25 345.5,300.24 346,300.22 346.5,300.21 347,300.19 347.5,300.18 348,300.16 348.5,300.15 349,300.13 349.5,300.12 350,300.1 350.5,300.09 351,300.07 351.5,300.06 352,300.04 352.5,300.03 353,300.01 353.5,300 354,299.98 354.5,299.97 355,299.95 355.5,299.94 356,299.92 356.5,299.91 357,299.89 357.5,299.88 358,299.86 358.5,299.85 359,299.83 359.5,299.82 360,299.8 360.5,299.79 361,299.77 361.5,299.76 362,299.74 362.5,299.73 363,299.71 363.5,299.7 364,299.68 364.5,299.67 365,299.65 365.5,299.64 366,299.62 366.5,299.61 367,299.59 367.5,299.58 368,299.56 368.5,299.55 369,299.53 369.5,299.52 370,299.5 370.5,299.49 371,299.47 371.5,299.46 372,299.44 372.5,299.43 373,299.41 373.5,299.4 374,299.38 374.5,299.37 375,299.35 375.5,299.34 376,299.32 376.5,299.31 377,299.29 377.5,299.28 378,299.26 378.5,299.25 379,299.23 379.5,299.22 380,299.2 380.5,299.19 381,299.17 381.5,299.16 382,299.14 382.5,299.13 383,299.11 383.5,299.1 384,299.08 384.5,299.07 385,299.05 385.5,299.04 386,299.02 386.5,299.01 387,298.99 387.5,298.98 388,298.96 388.5,298.95 389,298.93 389.5,298.92 390,298.9 390.5,298.89 391,298.87 391.5,298.86 392,298.84 392.5,298.83 393,298.81 393.5,298.8 394,298.78 394.5,298.77 395,298.75 395.5,298.74 396,298.72 396.5,298.71 397,298.69 397.5,298.68 398,298.66 398.5,298.65 399,298.63 399.5,298.62 400,298.6 400.5,298.59 401,298.57 401.5,298.56 402,298.54 402.5,298.53 403,298.51 403.5,298.5 404,298.48 404.5,298.47 405,298.45 405.5,298.44 406,298.42 406.5,298.41 407,298.39 407.5,298.38 408,298.36 408.5,298.35 409,298.33 409.5,298.32 410,298.3 410.5,298.29 411,298.27 411.5,298.26 412,298.24 412.5,298.23 413,298.21 413.5,298.2 414,298.18 414.5,298.17 415,298.15 415.5,298.14 416,298.12 416.5,298.11 417,298.09 417.5,298.08 418,298.06 418.5,298.05 419,298.03 419.5,298.02 420,298 420.5,298 421,298 421.5,298"/>
<polyline fill="none" stroke="#33cc33" stroke-width="0.9" stroke-linejoin="round"  points="252.5,302.78 253,302.73 253.5,302.67 254,302.61 254.5,302.55 255,302.48 255.5,302.4 256,302.32 256.5,302.23 257,302.13 257.5,302.03 258,301.91 258.5,301.79 259,301.66 259.5,301.52 260,301.37 260.5,301.21 261,301.04 261.5,300.86 262,300.67 262.5,300.47 263,300.25 263.5,300.03 264,299.8 264.5,299.55 265,299.3 265.5,299.04 266,298.76 266.5,298.49 267,298.2 267.5,297.91 268,297.61 268.5,297.31 269,297 269.5,296.7 270,296.39 270.5,296.09 271,295.78 271.5,295.49 272,295.2 272.5,294.92 273,294.64 273.5,294.38 274,294.13 274.5,293.9 275,293.68 275.5,293.48 276,293.29 276.5,293.13 277,292.99 277.5,292.87 278,292.77 278.5,292.7 279,292.65 279.5,292.62 280,292.62 280.5,292.64 281,292.68 281.5,292.75 282,292.84 282.5,292.95 283,293.08 283.5,293.24 284,293.41 284.5,293.6 285,293.8 285.5,294.02 286,294.25 286.5,294.49 287,294.75 287.5,295.01 288,295.27 288.5,295.55 289,295.82 289.5,296.1 290,296.37 290.5,296.65 291,296.92 291.5,297.19 292,297.45 292.5,297.7 293,297.95 293.5,298.2 294,298.43 294.5,298.65 295,298.87 295.5,299.07 296,299.26 296.5,299.45 297,299.62 297.5,299.78 298,299.93 298.5,300.07 299,300.2 299.5,300.32 300,300.43 300.5,300.53 301,300.62 301.5,300.7 302,300.78 302.5,300.85 303,300.91 303.5,300.96 304,301.01 304.5,301.05 305,301.08 305.5,301.11 306,301.14 306.5,301.16"/>
<polyline fill="none" stroke="#ee33ee" stroke-width="0.9" stroke-linejoin="round"  points="268,302.3 268.5,302.26 269,302.2 269.5,302.15 270,302.09 270.5,302.03 271,301.96 271.5,301.89 272,301.81 272.5,301.72 273,301.63 273.5,301.53 274,301.43 274.5,301.31 275,301.19 275.5,301.05 276,300.91 276.5,300.75 277,300.59 277.5,300.41 278,300.22 278.5,300.01 279,299.79 279.5,299.55 280,299.3 280.5,299.03 281,298.74 281.5,298.43 282,298.1 282.5,297.75 283,297.38 283.5,296.99 284,296.58 284.5,296.14 285,295.68 285.5,295.19 286,294.67 286.5,294.13 287,293.57 287.5,292.97 288,292.35 288.5,291.7 289,291.03 289.5,290.32 290,289.59 290.5,288.83 291,288.04 291.5,287.22 292,286.38 292.5,285.51 293,284.62 293.5,283.7 294,282.76 294.5,281.8 295,280.82 295.5,279.81 296,278.79 296.5,277.76 297,276.71 297.5,275.65 298,274.59 298.5,273.51 299,272.43 299.5,271.35 300,270.27 300.5,269.2 301,268.13 301.5,267.07 302,266.02 302.5,264.99 303,263.98 303.5,262.99 304,262.02 304.5,261.09 305,260.18 305.5,259.31 306,258.48 306.5,257.68 307,256.93 307.5,256.22 308,255.57 308.5,254.96 309,254.4 309.5,253.9 310,253.45 310.5,253.06 311,252.73 311.5,252.46 312,252.25 312.5,252.11 313,252.02 313.5,252 314,252.04 314.5,252.15 315,252.31 315.5,252.54 316,252.83 316.5,253.18 317,253.58 317.5,254.04 318,254.56 318.5,255.13 319,255.75 319.5,256.41 320,257.13 320.5,257.88 321,258.68 321.5,259.51 322,260.38 322.5,261.28 323,262.21 323.5,263.17 324,264.14 324.5,265.14 325,266.15 325.5,267.18 326,268.22 326.5,269.26 327,270.31 327.5,271.36 328,272.41 328.5,273.46 329,274.5 329.5,275.53 330,276.55 330.5,277.56 331,278.55 331.5,279.52 332,280.48 332.5,281.42 333,282.33 333.5,283.22 334,284.09 334.5,284.93 335,285.75 335.5,286.54 336,287.31 336.5,288.04 337,288.75 337.5,289.43 338,290.09 338.5,290.71 339,291.31 339.5,291.88 340,292.42 340.5,292.93 341,293.42 341.5,293.89 342,294.32 342.5,294.74 343,295.13 343.5,295.49 344,295.84 344.5,296.16 345,296.46 345.5,296.74 346,297.01 346.5,297.25 347,297.48 347.5,297.69 348,297.88 348.5,298.06 349,298.23 349.5,298.38 350,298.52 350.5,298.65 351,298.76 351.5,298.87 352,298.96 352.5,299.05 353,299.13 353.5,299.2 354,299.26 354.5,299.32 355,299.37 355.5,299.41 356,299.45 356.5,299.49 357,299.51 357.5,299.54 358,299.56 358.5,299.58"/>
<polyline fill="none" stroke="#ff9933" stroke-width="0.9" stroke-linejoin="round"  points="298.5,301.39 299,301.34 299.5,301.29 300,301.23 300.5,301.17 301,301.1 301.5,301.03 302,300.95 302.5,300.87 303,300.78 303.5,300.68 304,300.57 304.5,300.45 305,300.33 305.5,300.19 306,300.04 306.5,299.88 307,299.71 307.5,299.52 308,299.32 308.5,299.11 309,298.88 309.5,298.63 310,298.36 310.5,298.07 311,297.77 311.5,297.44 312,297.09 312.5,296.72 313,296.33 313.5,295.91 314,295.47 314.5,295 315,294.51 315.5,293.99 316,293.45 316.5,292.87 317,292.27 317.5,291.64 318,290.98 318.5,290.3 319,289.59 319.5,288.85 320,288.08 320.5,287.29 321,286.47 321.5,285.63 322,284.76 322.5,283.87 323,282.97 323.5,282.04 324,281.1 324.5,280.14 325,279.17 325.5,278.18 326,277.19 326.5,276.2 327,275.2 327.5,274.2 328,273.2 328.5,272.21 329,271.23 329.5,270.26 330,269.31 330.5,268.38 331,267.47 331.5,266.58 332,265.72 332.5,264.9 333,264.11 333.5,263.36 334,262.65 334.5,261.98 335,261.36 335.5,260.79 336,260.27 336.5,259.81 337,259.4 337.5,259.05 338,258.76 338.5,258.53 339,258.36 339.5,258.25 340,258.2 340.5,258.22 341,258.3 341.5,258.44 342,258.64 342.5,258.9 343,259.22 343.5,259.6 344,260.03 344.5,260.52 345,261.06 345.5,261.65 346,262.29 346.5,262.97 347,263.69 347.5,264.45 348,265.24 348.5,266.07 349,266.92 349.5,267.81 350,268.71 350.5,269.63 351,270.57 351.5,271.52 352,272.48 352.5,273.45 353,274.42 353.5,275.39 354,276.35 354.5,277.31 355,278.26 355.5,279.21 356,280.13 356.5,281.05 357,281.95 357.5,282.82 358,283.68 358.5,284.52 359,285.33 359.5,286.12 360,286.88 360.5,287.62 361,288.33 361.5,289.01 362,289.66 362.5,290.29 363,290.89 363.5,291.46 364,292 364.5,292.52 365,293.01 365.5,293.47 366,293.91 366.5,294.32 367,294.71 367.5,295.07 368,295.41 368.5,295.73 369,296.03 369.5,296.3 370,296.56 370.5,296.79 371,297.01 371.5,297.22 372,297.4 372.5,297.57 373,297.73 373.5,297.87 374,298 374.5,298.12 375,298.23 375.5,298.32 376,298.41 376.5,298.49 377,298.56 377.5,298.62 378,298.67 378.5,298.72 379,298.76 379.5,298.8 380,298.83 380.5,298.86 381,298.88 381.5,298.9"/>
<polyline fill="none" stroke="#4444ee" stroke-width="0.9" stroke-linejoin="round"  points="328.5,300.47 329,300.42 329.5,300.37 330,300.31 330.5,300.25 331,300.19 331.5,300.12 332,300.04 332.5,299.96 333,299.87 333.5,299.78 334,299.68 334.5,299.58 335,299.46 335.5,299.34 336,299.21 336.5,299.07 337,298.93 337.5,298.77 338,298.61 338.5,298.43 339,298.25 339.5,298.06 340,297.85 340.5,297.64 341,297.41 341.5,297.17 342,296.93 342.5,296.67 343,296.4 343.5,296.12 344,295.83 344.5,295.54 345,295.23 345.5,294.91 346,294.59 346.5,294.26 347,293.92 347.5,293.58 348,293.23 348.5,292.87 349,292.51 349.5,292.15 350,291.79 350.5,291.43 351,291.07 351.5,290.71 352,290.36 352.5,290.01 353,289.67 353.5,289.34 354,289.01 354.5,288.7 355,288.4 355.5,288.11 356,287.83 356.5,287.57 357,287.33 357.5,287.11 358,286.9 358.5,286.72 359,286.55 359.5,286.41 360,286.29 360.5,286.19 361,286.12 361.5,286.07 362,286.04 362.5,286.04 363,286.06 363.5,286.1 364,286.17 364.5,286.26 365,286.37 365.5,286.51 366,286.66 366.5,286.84 367,287.03 367.5,287.24 368,287.47 368.5,287.72 369,287.97 369.5,288.25 370,288.53 370.5,288.83 371,289.13 371.5,289.44 372,289.76 372.5,290.08 373,290.41 373.5,290.74 374,291.07 374.5,291.4 375,291.73 375.5,292.06 376,292.38 376.5,292.7 377,293.02 377.5,293.33 378,293.63 378.5,293.92 379,294.21 379.5,294.49 380,294.75 380.5,295.01 381,295.26 381.5,295.5 382,295.72 382.5,295.94 383,296.15 383.5,296.34 384,296.53 384.5,296.7 385,296.87 385.5,297.02 386,297.17 386.5,297.3 387,297.43 387.5,297.54 388,297.65 388.5,297.75 389,297.84 389.5,297.92 390,298 390.5,298.07 391,298.13 391.5,298.19 392,298.24 392.5,298.28 393,298.32 393.5,298.36 394,298.39 394.5,298.42 395,298.44 395.5,298.46"/>
<polyline fill="none" stroke="#ee2222" stroke-width="0.9" stroke-linejoin="round"  points="244,303.27 244.5,303.25 245,303.23 245.5,303.21 246,303.19 246.5,303.17 247,303.15 247.5,303.12 248,303.1 248.5,303.07 249,303.04 249.5,303.01 250,302.98 250.5,302.94 251,302.91 251.5,302.87 252,302.82 252.5,302.77 253,302.72 253.5,302.67 254,302.61 254.5,302.54 255,302.47 255.5,302.39 256,302.31 256.5,302.21 257,302.11 257.5,302.01 258,301.89 258.5,301.77 259,301.63 259.5,301.49 260,301.33 260.5,301.17 261,300.99 261.5,300.8 262,300.6 262.5,300.39 263,300.16 263.5,299.93 264,299.68 264.5,299.42 265,299.15 265.5,298.86 266,298.57 266.5,298.26 267,297.94 267.5,297.61 268,297.28 268.5,296.93 269,296.58 269.5,296.22 270,295.85 270.5,295.48 271,295.11 271.5,294.73 272,294.35 272.5,293.97 273,293.59 273.5,293.21 274,292.83 274.5,292.45 275,292.08 275.5,291.72 276,291.36 276.5,291.01 277,290.66 277.5,290.32 278,289.99 278.5,289.67 279,289.35 279.5,289.04 280,288.74 280.5,288.44 281,288.15 281.5,287.87 282,287.59 282.5,287.31 283,287.04 283.5,286.76 284,286.49 284.5,286.21 285,285.93 285.5,285.64 286,285.34 286.5,285.04 287,284.72 287.5,284.39 288,284.05 288.5,283.69 289,283.3 289.5,282.9 290,282.48 290.5,282.03 291,281.56 291.5,281.05 292,280.53 292.5,279.97 293,279.38 293.5,278.76 294,278.12 294.5,277.44 295,276.73 295.5,275.99 296,275.23 296.5,274.43 297,273.61 297.5,272.76 298,271.89 298.5,271 299,270.08 299.5,269.15 300,268.21 300.5,267.25 301,266.28 301.5,265.3 302,264.32 302.5,263.34 303,262.36 303.5,261.39 304,260.42 304.5,259.46 305,258.52 305.5,257.59 306,256.68 306.5,255.8 307,254.93 307.5,254.1 308,253.29 308.5,252.51 309,251.77 309.5,251.05 310,250.38 310.5,249.74 311,249.13 311.5,248.57 312,248.04 312.5,247.55 313,247.09 313.5,246.68 314,246.3 314.5,245.95 315,245.64 315.5,245.37 316,245.13 316.5,244.92 317,244.74 317.5,244.58 318,244.46 318.5,244.35 319,244.27 319.5,244.21 320,244.17 320.5,244.14 321,244.13 321.5,244.13 322,244.15 322.5,244.17 323,244.19 323.5,244.23 324,244.27 324.5,244.31 325,244.35 325.5,244.39 326,244.44 326.5,244.48 327,244.52 327.5,244.56 328,244.6 328.5,244.64 329,244.68 329.5,244.72 330,244.76 330.5,244.81 331,244.85 331.5,244.9 332,244.95 332.5,245.01 333,245.08 333.5,245.16 334,245.24 334.5,245.34 335,245.45 335.5,245.57 336,245.71 336.5,245.87 337,246.04 337.5,246.24 338,246.45 338.5,246.68 339,246.93 339.5,247.21 340,247.51 340.5,247.82 341,248.16 341.5,248.52 342,248.91 342.5,249.31 343,249.74 343.5,250.18 344,250.65 344.5,251.13 345,251.64 345.5,252.17 346,252.71 346.5,253.27 347,253.85 347.5,254.45 348,255.06 348.5,255.69 349,256.34 349.5,257 350,257.68 350.5,258.37 351,259.08 351.5,259.79 352,260.52 352.5,261.26 353,262.01 353.5,262.76 354,263.53 354.5,264.29 355,265.06 355.5,265.84 356,266.61 356.5,267.38 357,268.15 357.5,268.91 358,269.67 358.5,270.42 359,271.16 359.5,271.9 360,272.62 360.5,273.33 361,274.02 361.5,274.7 362,275.37 362.5,276.02 363,276.65 363.5,277.27 364,277.87 364.5,278.45 365,279.01 365.5,279.55 366,280.08 366.5,280.59 367,281.09 367.5,281.58 368,282.05 368.5,282.52 369,282.98 369.5,283.43 370,283.89 370.5,284.35 371,284.81 371.5,285.27 372,285.75 372.5,286.23 373,286.72 373.5,287.22 374,287.73 374.5,288.24 375,288.76 375.5,289.28 376,289.8 376.5,290.32 377,290.83 377.5,291.33 378,291.83 378.5,292.3 379,292.77 379.5,293.21 380,293.63 380.5,294.03 381,294.41 381.5,294.77 382,295.1 382.5,295.41 383,295.7 383.5,295.97 384,296.21 384.5,296.44 385,296.65 385.5,296.84 386,297.02 386.5,297.18 387,297.33 387.5,297.46 388,297.58 388.5,297.69 389,297.79 389.5,297.89 390,297.97 390.5,298.04 391,298.11 391.5,298.17 392,298.22 392.5,298.27 393,298.31 393.5,298.35 394,298.38 394.5,298.41 395,298.43 395.5,298.45 396,298.47 396.5,298.48 397,298.49 397.5,298.5 398,298.51 398.5,298.51"/>
<rect x="243.5" y="177.5" width="178.5" height="133" fill="none" stroke="#505050" stroke-width="1"/>
<line x1="243.5" y1="310.5" x2="243.5" y2="312.9" stroke="#505050" stroke-width="0.9" />
<line x1="261.35" y1="310.5" x2="261.35" y2="312" stroke="#505050" stroke-width="0.9" />
<line x1="279.2" y1="310.5" x2="279.2" y2="312.9" stroke="#505050" stroke-width="0.9" />
<line x1="297.05" y1="310.5" x2="297.05" y2="312" stroke="#505050" stroke-width="0.9" />
<line x1="314.9" y1="310.5" x2="314.9" y2="312.9" stroke="#505050" stroke-width="0.9" />
<line x1="332.75" y1="310.5" x2="332.75" y2="312" stroke="#505050" stroke-width="0.9" />
<line x1="350.6" y1="310.5" x2="350.6" y2="312.9" stroke="#505050" stroke-width="0.9" />
<line x1="368.45" y1="310.5" x2="368.45" y2="312" stroke="#505050" stroke-width="0.9" />
<line x1="386.3" y1="310.5" x2="386.3" y2="312.9" stroke="#505050" stroke-width="0.9" />
<line x1="404.15" y1="310.5" x2="404.15" y2="312" stroke="#505050" stroke-width="0.9" />
<line x1="422" y1="310.5" x2="422" y2="312.9" stroke="#505050" stroke-width="0.9" />
<text x="243.5" y="320.4" font-size="8.6" font-weight="bold" fill="#000" text-anchor="middle">528</text>
<text x="279.2" y="320.4" font-size="8.6" font-weight="bold" fill="#000" text-anchor="middle">530</text>
<text x="314.9" y="320.4" font-size="8.6" font-weight="bold" fill="#000" text-anchor="middle">532</text>
<text x="350.6" y="320.4" font-size="8.6" font-weight="bold" fill="#000" text-anchor="middle">534</text>
<text x="386.3" y="320.4" font-size="8.6" font-weight="bold" fill="#000" text-anchor="middle">536</text>
<text x="422" y="320.4" font-size="8.6" font-weight="bold" fill="#000" text-anchor="middle">538</text>
<text x="332.4" y="336.2" font-size="11.2" font-weight="bold" fill="#000" text-anchor="middle" textLength="99.5" lengthAdjust="spacingAndGlyphs">Binding Energy (eV)</text>
<text x="237.8" y="243.2" font-size="10.9" font-weight="bold" fill="#000" text-anchor="middle" textLength="33.5" lengthAdjust="spacingAndGlyphs" transform="rotate(-90 237.8 243.2)">Counts</text>
<text x="213.6" y="184.2" font-size="14.2" font-weight="bold" fill="#000" text-anchor="start" textLength="17" lengthAdjust="spacingAndGlyphs">(e)</text>
<text x="245.5" y="186.6" font-size="6.7" font-weight="bold" fill="#000" text-anchor="start" textLength="14.6" lengthAdjust="spacingAndGlyphs">O 1s</text>
<text x="375.4" y="186.5" font-size="6.2" font-weight="bold" fill="#222" text-anchor="start" textLength="44.1" lengthAdjust="spacingAndGlyphs">Ru@SCC-KU</text>
<text x="290.3" y="251.6" font-size="6.9" font-weight="bold" fill="#000" text-anchor="start" textLength="15.2" lengthAdjust="spacingAndGlyphs">C=O</text>
<text x="267.3" y="282.6" font-size="6.9" font-weight="bold" fill="#000" text-anchor="start" textLength="17.5" lengthAdjust="spacingAndGlyphs">Ru-O</text>
<line x1="285.8" y1="281.2" x2="292.2" y2="279.6" stroke="#222" stroke-width="0.6" />
<text x="350.7" y="256.5" font-size="6.9" font-weight="bold" fill="#000" text-anchor="start" textLength="12.9" lengthAdjust="spacingAndGlyphs">C-O</text>
<text x="371.1" y="283" font-size="6.9" font-weight="bold" fill="#000" text-anchor="start" textLength="29.5" lengthAdjust="spacingAndGlyphs">O=C-OH</text>
<polyline fill="none" stroke="#111" stroke-width="1.1" stroke-linejoin="round" stroke-linecap="round" points="494.6,238.89 495.1,236.77 495.6,234.05 496.1,231.88 496.6,230.34 497.1,229.01 497.6,227.86 498.1,226.7 498.6,225.55 499.1,224.48 499.6,223.63 500.1,223 500.6,222.5 501.1,222 501.6,221.5 502.1,221 502.6,220.5 503.1,220 503.6,219.5 504.1,219 504.6,218.5 505.1,218.1 505.6,217.8 506.1,217.59 506.6,217.39 507.1,217.19 507.6,216.98 508.1,216.78 508.6,216.58 509.1,216.37 509.6,216.17 510.1,215.97 510.6,215.77 511.1,215.56 511.6,215.36 512.1,215.16 512.6,214.95 513.1,214.75 513.6,214.55 514.1,214.34 514.6,214.17 515.1,214.05 515.6,213.96 516.1,213.88 516.6,213.8 517.1,213.72 517.6,213.65 518.1,213.57 518.6,213.49 519.1,213.41 519.6,213.33 520.1,213.26 520.6,213.18 521.1,213.1 521.6,213.02 522.1,212.94 522.6,212.87 523.1,212.79 523.6,212.71 524.1,212.64 524.6,212.59 525.1,212.55 525.6,212.51 526.1,212.48 526.6,212.44 527.1,212.41 527.6,212.38 528.1,212.34 528.6,212.31 529.1,212.27 529.6,212.24 530.1,212.21 530.6,212.17 531.1,212.14 531.6,212.1 532.1,212.07 532.6,212.04 533.1,212 533.6,211.97 534.1,211.93 534.6,211.9 535.1,211.86 535.6,211.83 536.1,211.8 536.6,211.76 537.1,211.73 537.6,211.69 538.1,211.66 538.6,211.63 539.1,211.59 539.6,211.56 540.1,211.52 540.6,211.49 541.1,211.46 541.6,211.42 542.1,211.39 542.6,211.35 543.1,211.32 543.6,211.29 544.1,211.26 544.6,211.23 545.1,211.2 545.6,211.17 546.1,211.14 546.6,211.12 547.1,211.09 547.6,211.06 548.1,211.03 548.6,211 549.1,210.97 549.6,210.94 550.1,210.91 550.6,210.89 551.1,210.86 551.6,210.83 552.1,210.8 552.6,210.77 553.1,210.74 553.6,210.71 554.1,210.68 554.6,210.66 555.1,210.63 555.6,210.6 556.1,210.57 556.6,210.54 557.1,210.51 557.6,210.48 558.1,210.45 558.6,210.43 559.1,210.4 559.6,210.37 560.1,210.34 560.6,210.31 561.1,210.28 561.6,210.25 562.1,210.22 562.6,210.2 563.1,210.17 563.6,210.14 564.1,210.11 564.6,210.08 565.1,210.05 565.6,210.02 566.1,210 566.6,209.99 567.1,209.97 567.6,209.96 568.1,209.95 568.6,209.94 569.1,209.93 569.6,209.92 570.1,209.9 570.6,209.89 571.1,209.88 571.6,209.87 572.1,209.86 572.6,209.85 573.1,209.83 573.6,209.82 574.1,209.81 574.6,209.8 575.1,209.79 575.6,209.78 576.1,209.76 576.6,209.75 577.1,209.74 577.6,209.73 578.1,209.72 578.6,209.71 579.1,209.69 579.6,209.68 580.1,209.67 580.6,209.66 581.1,209.65 581.6,209.63 582.1,209.62 582.6,209.61 583.1,209.6 583.6,209.59 584.1,209.58 584.6,209.56 585.1,209.55 585.6,209.54 586.1,209.53 586.6,209.52 587.1,209.51 587.6,209.49 588.1,209.48 588.6,209.47 589.1,209.46 589.6,209.45 590.1,209.44 590.6,209.42 591.1,209.41 591.6,209.4 592.1,209.39 592.6,209.38 593.1,209.37 593.6,209.35 594.1,209.34 594.6,209.33 595.1,209.32 595.6,209.31 596.1,209.29 596.6,209.28 597.1,209.27 597.6,209.25 598.1,209.24 598.6,209.23 599.1,209.21 599.6,209.2 600.1,209.19 600.6,209.17 601.1,209.16 601.6,209.15 602.1,209.13 602.6,209.12 603.1,209.11 603.6,209.09 604.1,209.08 604.6,209.07 605.1,209.05 605.6,209.04 606.1,209.03 606.6,209.01 607.1,209 607.6,208.99 608.1,208.97 608.6,208.96 609.1,208.95 609.6,208.93 610.1,208.92 610.6,208.9 611.1,208.87 611.6,208.82 612.1,208.77 612.6,208.72 613.1,208.67 613.6,208.62 614.1,208.57 614.6,208.52 615.1,208.47 615.6,208.42 616.1,208.37 616.6,208.32 617.1,208.27 617.6,208.22 618.1,208.17 618.6,208.12 619.1,208.07 619.6,208.02 620.1,207.97 620.6,207.92 621.1,207.87 621.6,207.82 622.1,207.77 622.6,207.72 623.1,207.67 623.6,207.62 624.1,207.57 624.6,207.52 625.1,207.47 625.6,207.41 626.1,207.35 626.6,207.28 627.1,207.2 627.6,207.13 628.1,207.05 628.6,206.97 629.1,206.9 629.6,206.82 630.1,206.75 630.6,206.67 631.1,206.59 631.6,206.52 632.1,206.44 632.6,206.37 633.1,206.29 633.6,206.21 634.1,206.14 634.6,206.06 635.1,205.95 635.6,205.83 636.1,205.69 636.6,205.55 637.1,205.41 637.6,205.27 638.1,205.13 638.6,204.99 639.1,204.85 639.6,204.71 640.1,204.57 640.6,204.41 641.1,204.23 641.6,204.02 642.1,203.81 642.6,203.6 643.1,203.4 643.6,203.19 644.1,202.98 644.6,202.77 645.1,202.55 645.6,202.32 646.1,202.08 646.6,201.85 647.1,201.62 647.6,201.38 648.1,201.22"/>
<circle cx="494.6" cy="238.89" r="1.05" fill="none" stroke="#111" stroke-width="0.6"/>
<circle cx="494.9" cy="237.61" r="1.05" fill="none" stroke="#111" stroke-width="0.6"/>
<circle cx="495.18" cy="236.31" r="1.05" fill="none" stroke="#111" stroke-width="0.6"/>
<circle cx="495.42" cy="235" r="1.05" fill="none" stroke="#111" stroke-width="0.6"/>
<circle cx="495.68" cy="233.69" r="1.05" fill="none" stroke="#111" stroke-width="0.6"/>
<circle cx="495.99" cy="232.38" r="1.05" fill="none" stroke="#111" stroke-width="0.6"/>
<circle cx="496.36" cy="231.08" r="1.05" fill="none" stroke="#111" stroke-width="0.6"/>
<circle cx="496.81" cy="229.79" r="1.05" fill="none" stroke="#111" stroke-width="0.6"/>
<circle cx="497.32" cy="228.51" r="1.05" fill="none" stroke="#111" stroke-width="0.6"/>
<circle cx="497.87" cy="227.24" r="1.05" fill="none" stroke="#111" stroke-width="0.6"/>
<circle cx="498.43" cy="225.95" r="1.05" fill="none" stroke="#111" stroke-width="0.6"/>
<circle cx="499.02" cy="224.65" r="1.05" fill="none" stroke="#111" stroke-width="0.6"/>
<circle cx="499.76" cy="223.43" r="1.05" fill="none" stroke="#111" stroke-width="0.6"/>
<circle cx="500.74" cy="222.36" r="1.05" fill="none" stroke="#111" stroke-width="0.6"/>
<circle cx="501.79" cy="221.31" r="1.05" fill="none" stroke="#111" stroke-width="0.6"/>
<circle cx="502.86" cy="220.24" r="1.05" fill="none" stroke="#111" stroke-width="0.6"/>
<circle cx="503.95" cy="219.15" r="1.05" fill="none" stroke="#111" stroke-width="0.6"/>
<circle cx="505.11" cy="218.09" r="1.05" fill="none" stroke="#111" stroke-width="0.6"/>
<circle cx="506.56" cy="217.41" r="1.05" fill="none" stroke="#111" stroke-width="0.6"/>
<circle cx="508.11" cy="216.78" r="1.05" fill="none" stroke="#111" stroke-width="0.6"/>
<circle cx="509.73" cy="216.12" r="1.05" fill="none" stroke="#111" stroke-width="0.6"/>
<circle cx="511.42" cy="215.43" r="1.05" fill="none" stroke="#111" stroke-width="0.6"/>
<circle cx="513.18" cy="214.72" r="1.05" fill="none" stroke="#111" stroke-width="0.6"/>
<circle cx="515.06" cy="214.06" r="1.05" fill="none" stroke="#111" stroke-width="0.6"/>
<circle cx="517.1" cy="213.72" r="1.05" fill="none" stroke="#111" stroke-width="0.6"/>
<circle cx="519.25" cy="213.39" r="1.05" fill="none" stroke="#111" stroke-width="0.6"/>
<circle cx="521.5" cy="213.04" r="1.05" fill="none" stroke="#111" stroke-width="0.6"/>
<circle cx="523.85" cy="212.67" r="1.05" fill="none" stroke="#111" stroke-width="0.6"/>
<circle cx="526.33" cy="212.46" r="1.05" fill="none" stroke="#111" stroke-width="0.6"/>
<circle cx="528.93" cy="212.28" r="1.05" fill="none" stroke="#111" stroke-width="0.6"/>
<circle cx="531.66" cy="212.1" r="1.05" fill="none" stroke="#111" stroke-width="0.6"/>
<circle cx="534.51" cy="211.91" r="1.05" fill="none" stroke="#111" stroke-width="0.6"/>
<circle cx="537.5" cy="211.7" r="1.05" fill="none" stroke="#111" stroke-width="0.6"/>
<circle cx="540.63" cy="211.49" r="1.05" fill="none" stroke="#111" stroke-width="0.6"/>
<circle cx="543.9" cy="211.27" r="1.05" fill="none" stroke="#111" stroke-width="0.6"/>
<circle cx="547.34" cy="211.07" r="1.05" fill="none" stroke="#111" stroke-width="0.6"/>
<circle cx="550.93" cy="210.87" r="1.05" fill="none" stroke="#111" stroke-width="0.6"/>
<circle cx="554.7" cy="210.65" r="1.05" fill="none" stroke="#111" stroke-width="0.6"/>
<circle cx="558.64" cy="210.42" r="1.05" fill="none" stroke="#111" stroke-width="0.6"/>
<circle cx="562.77" cy="210.19" r="1.05" fill="none" stroke="#111" stroke-width="0.6"/>
<circle cx="566.98" cy="209.98" r="1.05" fill="none" stroke="#111" stroke-width="0.6"/>
<circle cx="571.22" cy="209.88" r="1.05" fill="none" stroke="#111" stroke-width="0.6"/>
<circle cx="575.48" cy="209.78" r="1.05" fill="none" stroke="#111" stroke-width="0.6"/>
<circle cx="579.77" cy="209.68" r="1.05" fill="none" stroke="#111" stroke-width="0.6"/>
<circle cx="584.08" cy="209.58" r="1.05" fill="none" stroke="#111" stroke-width="0.6"/>
<circle cx="588.42" cy="209.48" r="1.05" fill="none" stroke="#111" stroke-width="0.6"/>
<circle cx="592.78" cy="209.37" r="1.05" fill="none" stroke="#111" stroke-width="0.6"/>
<circle cx="597.17" cy="209.27" r="1.05" fill="none" stroke="#111" stroke-width="0.6"/>
<circle cx="601.58" cy="209.15" r="1.05" fill="none" stroke="#111" stroke-width="0.6"/>
<circle cx="606.01" cy="209.03" r="1.05" fill="none" stroke="#111" stroke-width="0.6"/>
<circle cx="610.47" cy="208.9" r="1.05" fill="none" stroke="#111" stroke-width="0.6"/>
<circle cx="614.94" cy="208.49" r="1.05" fill="none" stroke="#111" stroke-width="0.6"/>
<circle cx="619.43" cy="208.04" r="1.05" fill="none" stroke="#111" stroke-width="0.6"/>
<circle cx="623.95" cy="207.58" r="1.05" fill="none" stroke="#111" stroke-width="0.6"/>
<circle cx="628.48" cy="206.99" r="1.05" fill="none" stroke="#111" stroke-width="0.6"/>
<circle cx="633.01" cy="206.3" r="1.05" fill="none" stroke="#111" stroke-width="0.6"/>
<circle cx="637.29" cy="205.36" r="1.05" fill="none" stroke="#111" stroke-width="0.6"/>
<circle cx="641.21" cy="204.18" r="1.05" fill="none" stroke="#111" stroke-width="0.6"/>
<circle cx="644.73" cy="202.71" r="1.05" fill="none" stroke="#111" stroke-width="0.6"/>
<circle cx="647.99" cy="201.26" r="1.05" fill="none" stroke="#111" stroke-width="0.6"/>
<polyline fill="none" stroke="#111" stroke-width="0.9" stroke-linejoin="round" stroke-linecap="round" points="560,209.6 560.5,209.59 561,209.58 561.5,209.57 562,209.56 562.5,209.54 563,209.53 563.5,209.52 564,209.51 564.5,209.5 565,209.49 565.5,209.48 566,209.47 566.5,209.46 567,209.44 567.5,209.43 568,209.42 568.5,209.41 569,209.4 569.5,209.39 570,209.38 570.5,209.37 571,209.35 571.5,209.34 572,209.33 572.5,209.32 573,209.31 573.5,209.3 574,209.29 574.5,209.28 575,209.27 575.5,209.25 576,209.24 576.5,209.23 577,209.22 577.5,209.21 578,209.2 578.5,209.19 579,209.18 579.5,209.17 580,209.15 580.5,209.14 581,209.13 581.5,209.12 582,209.11 582.5,209.1 583,209.09 583.5,209.08 584,209.07 584.5,209.05 585,209.04 585.5,209.03 586,209.02 586.5,209.01 587,209 587.5,208.99 588,208.98 588.5,208.96 589,208.95 589.5,208.94 590,208.93 590.5,208.92 591,208.91 591.5,208.9 592,208.89 592.5,208.88 593,208.86 593.5,208.85 594,208.84 594.5,208.83 595,208.82 595.5,208.81 596,208.8 596.5,208.78 597,208.77 597.5,208.76 598,208.74 598.5,208.73 599,208.72 599.5,208.7 600,208.69 600.5,208.68 601,208.66 601.5,208.65 602,208.64 602.5,208.62 603,208.61 603.5,208.6 604,208.58 604.5,208.57 605,208.56 605.5,208.54 606,208.53 606.5,208.52 607,208.5 607.5,208.49 608,208.48 608.5,208.46 609,208.45 609.5,208.43 610,208.42 610.5,208.4 611,208.37 611.5,208.33 612,208.29 612.5,208.24 613,208.19 613.5,208.15 614,208.1 614.5,208.05 615,208.01 615.5,207.96 616,207.91 616.5,207.87 617,207.82 617.5,207.77 618,207.73 618.5,207.68 619,207.63 619.5,207.59 620,207.54 620.5,207.49 621,207.45 621.5,207.4 622,207.35 622.5,207.31 623,207.26 623.5,207.21 624,207.17 624.5,207.12 625,207.07 625.5,207.02 626,206.95 626.5,206.86 627,206.76 627.5,206.66 628,206.56 628.5,206.46 629,206.36 629.5,206.26 630,206.15 630.5,206.05 631,205.95 631.5,205.85 632,205.75 632.5,205.65 633,205.55 633.5,205.45 634,205.35 634.5,205.25 635,205.15 635.5,205.05 636,204.95 636.5,204.85 637,204.74 637.5,204.64 638,204.54 638.5,204.44 639,204.34 639.5,204.24 640,204.14 640.5,204.02 641,203.87 641.5,203.69 642,203.5 642.5,203.3 643,203.11 643.5,202.92 644,202.72 644.5,202.53 645,202.34 645.5,202.14 646,201.95 646.5,201.76 647,201.56 647.5,201.37 648,201.24"/>
<circle cx="560" cy="209.6" r="1.05" fill="none" stroke="#111" stroke-width="0.6"/>
<circle cx="564.2" cy="209.51" r="1.05" fill="none" stroke="#111" stroke-width="0.6"/>
<circle cx="568.42" cy="209.41" r="1.05" fill="none" stroke="#111" stroke-width="0.6"/>
<circle cx="572.67" cy="209.32" r="1.05" fill="none" stroke="#111" stroke-width="0.6"/>
<circle cx="576.94" cy="209.22" r="1.05" fill="none" stroke="#111" stroke-width="0.6"/>
<circle cx="581.24" cy="209.13" r="1.05" fill="none" stroke="#111" stroke-width="0.6"/>
<circle cx="585.56" cy="209.03" r="1.05" fill="none" stroke="#111" stroke-width="0.6"/>
<circle cx="589.9" cy="208.93" r="1.05" fill="none" stroke="#111" stroke-width="0.6"/>
<circle cx="594.27" cy="208.84" r="1.05" fill="none" stroke="#111" stroke-width="0.6"/>
<circle cx="598.67" cy="208.73" r="1.05" fill="none" stroke="#111" stroke-width="0.6"/>
<circle cx="603.08" cy="208.61" r="1.05" fill="none" stroke="#111" stroke-width="0.6"/>
<circle cx="607.53" cy="208.49" r="1.05" fill="none" stroke="#111" stroke-width="0.6"/>
<circle cx="612" cy="208.29" r="1.05" fill="none" stroke="#111" stroke-width="0.6"/>
<circle cx="616.47" cy="207.87" r="1.05" fill="none" stroke="#111" stroke-width="0.6"/>
<circle cx="620.98" cy="207.45" r="1.05" fill="none" stroke="#111" stroke-width="0.6"/>
<circle cx="625.5" cy="207.02" r="1.05" fill="none" stroke="#111" stroke-width="0.6"/>
<circle cx="630" cy="206.16" r="1.05" fill="none" stroke="#111" stroke-width="0.6"/>
<circle cx="634.5" cy="205.25" r="1.05" fill="none" stroke="#111" stroke-width="0.6"/>
<circle cx="638.71" cy="204.4" r="1.05" fill="none" stroke="#111" stroke-width="0.6"/>
<circle cx="642.53" cy="203.29" r="1.05" fill="none" stroke="#111" stroke-width="0.6"/>
<circle cx="646" cy="201.95" r="1.05" fill="none" stroke="#111" stroke-width="0.6"/>
<polyline fill="none" stroke="#2b2bff" stroke-width="1.1" stroke-linejoin="round" stroke-linecap="round" points="494.6,249.81 495.1,247.7 495.6,244.92 496.1,242.59 496.6,240.84 497.1,239.33 497.6,238.02 498.1,236.71 498.6,235.4 499.1,234.17 499.6,233.16 500.1,232.35 500.6,231.68 501.1,231 501.6,230.33 502.1,229.65 502.6,228.98 503.1,228.3 503.6,227.63 504.1,226.95 504.6,226.28 505.1,225.74 505.6,225.35 506.1,225.1 506.6,224.85 507.1,224.6 507.6,224.35 508.1,224.1 508.6,223.85 509.1,223.6 509.6,223.35 510.1,223.1 510.6,222.85 511.1,222.6 511.6,222.35 512.1,222.1 512.6,221.85 513.1,221.6 513.6,221.35 514.1,221.1 514.6,220.89 515.1,220.73 515.6,220.62 516.1,220.52 516.6,220.42 517.1,220.32 517.6,220.23 518.1,220.13 518.6,220.03 519.1,219.93 519.6,219.83 520.1,219.73 520.6,219.63 521.1,219.53 521.6,219.43 522.1,219.34 522.6,219.24 523.1,219.14 523.6,219.04 524.1,218.95 524.6,218.87 525.1,218.8 525.6,218.74 526.1,218.68 526.6,218.62 527.1,218.56 527.6,218.5 528.1,218.44 528.6,218.38 529.1,218.32 529.6,218.26 530.1,218.2 530.6,218.14 531.1,218.08 531.6,218.02 532.1,217.96 532.6,217.9 533.1,217.84 533.6,217.78 534.1,217.72 534.6,217.66 535.1,217.6 535.6,217.54 536.1,217.48 536.6,217.42 537.1,217.36 537.6,217.3 538.1,217.24 538.6,217.18 539.1,217.12 539.6,217.06 540.1,217 540.6,216.94 541.1,216.88 541.6,216.82 542.1,216.76 542.6,216.7 543.1,216.64 543.6,216.59 544.1,216.55 544.6,216.51 545.1,216.47 545.6,216.43 546.1,216.4 546.6,216.36 547.1,216.32 547.6,216.28 548.1,216.25 548.6,216.21 549.1,216.17 549.6,216.13 550.1,216.1 550.6,216.06 551.1,216.02 551.6,215.98 552.1,215.95 552.6,215.91 553.1,215.87 553.6,215.83 554.1,215.8 554.6,215.76 555.1,215.72 555.6,215.68 556.1,215.64 556.6,215.61 557.1,215.57 557.6,215.53 558.1,215.49 558.6,215.46 559.1,215.42 559.6,215.38 560.1,215.34 560.6,215.31 561.1,215.27 561.6,215.23 562.1,215.19 562.6,215.16 563.1,215.12 563.6,215.08 564.1,215.04 564.6,215.01 565.1,214.97 565.6,214.93 566.1,214.89 566.6,214.86 567.1,214.82 567.6,214.79 568.1,214.75 568.6,214.72 569.1,214.68 569.6,214.64 570.1,214.61 570.6,214.57 571.1,214.54 571.6,214.5 572.1,214.47 572.6,214.43 573.1,214.4 573.6,214.36 574.1,214.33 574.6,214.29 575.1,214.26 575.6,214.22 576.1,214.18 576.6,214.15 577.1,214.11 577.6,214.08 578.1,214.04 578.6,214.01 579.1,213.97 579.6,213.94 580.1,213.9 580.6,213.87 581.1,213.83 581.6,213.79 582.1,213.76 582.6,213.72 583.1,213.69 583.6,213.65 584.1,213.62 584.6,213.58 585.1,213.55 585.6,213.51 586.1,213.48 586.6,213.44 587.1,213.41 587.6,213.37 588.1,213.33 588.6,213.3 589.1,213.26 589.6,213.23 590.1,213.18 590.6,213.12 591.1,213.06 591.6,213 592.1,212.94 592.6,212.88 593.1,212.81 593.6,212.75 594.1,212.69 594.6,212.62 595.1,212.56 595.6,212.5 596.1,212.44 596.6,212.38 597.1,212.31 597.6,212.25 598.1,212.19 598.6,212.12 599.1,212.06 599.6,212 600.1,211.94 600.6,211.87 601.1,211.81 601.6,211.75 602.1,211.69 602.6,211.62 603.1,211.56 603.6,211.5 604.1,211.44 604.6,211.38 605.1,211.31 605.6,211.25 606.1,211.19 606.6,211.12 607.1,211.06 607.6,211 608.1,210.94 608.6,210.88 609.1,210.81 609.6,210.75 610.1,210.69 610.6,210.62 611.1,210.53 611.6,210.42 612.1,210.31 612.6,210.2 613.1,210.09 613.6,209.98 614.1,209.87 614.6,209.76 615.1,209.65 615.6,209.54 616.1,209.43 616.6,209.32 617.1,209.21 617.6,209.1 618.1,208.99 618.6,208.88 619.1,208.77 619.6,208.66 620.1,208.55 620.6,208.44 621.1,208.33 621.6,208.22 622.1,208.11 622.6,208 623.1,207.89 623.6,207.78 624.1,207.67 624.6,207.56 625.1,207.45 625.6,207.33 626.1,207.2 626.6,207.05 627.1,206.89 627.6,206.73 628.1,206.57 628.6,206.42 629.1,206.26 629.6,206.1 630.1,205.94 630.6,205.79 631.1,205.63 631.6,205.47 632.1,205.31 632.6,205.16 633.1,205 633.6,204.84 634.1,204.68 634.6,204.52 635.1,204.37 635.6,204.21 636.1,204.05 636.6,203.89 637.1,203.74 637.6,203.58 638.1,203.42 638.6,203.26 639.1,203.1 639.6,202.95 640.1,202.79 640.6,202.58 641.1,202.3 641.6,201.95 642.1,201.59 642.6,201.23 643.1,200.87 643.6,200.51 644.1,200.15 644.6,199.77 645.1,199.33 645.6,198.81 646.1,198.24 646.6,197.67 647.1,197.1 647.6,196.53 648.1,196.15"/>
<circle cx="494.6" cy="249.81" r="1.05" fill="none" stroke="#2b2bff" stroke-width="0.6"/>
<circle cx="494.9" cy="248.53" r="1.05" fill="none" stroke="#2b2bff" stroke-width="0.6"/>
<circle cx="495.18" cy="247.23" r="1.05" fill="none" stroke="#2b2bff" stroke-width="0.6"/>
<circle cx="495.42" cy="245.92" r="1.05" fill="none" stroke="#2b2bff" stroke-width="0.6"/>
<circle cx="495.67" cy="244.61" r="1.05" fill="none" stroke="#2b2bff" stroke-width="0.6"/>
<circle cx="495.95" cy="243.29" r="1.05" fill="none" stroke="#2b2bff" stroke-width="0.6"/>
<circle cx="496.27" cy="241.98" r="1.05" fill="none" stroke="#2b2bff" stroke-width="0.6"/>
<circle cx="496.65" cy="240.67" r="1.05" fill="none" stroke="#2b2bff" stroke-width="0.6"/>
<circle cx="497.09" cy="239.37" r="1.05" fill="none" stroke="#2b2bff" stroke-width="0.6"/>
<circle cx="497.58" cy="238.07" r="1.05" fill="none" stroke="#2b2bff" stroke-width="0.6"/>
<circle cx="498.08" cy="236.77" r="1.05" fill="none" stroke="#2b2bff" stroke-width="0.6"/>
<circle cx="498.58" cy="235.45" r="1.05" fill="none" stroke="#2b2bff" stroke-width="0.6"/>
<circle cx="499.12" cy="234.13" r="1.05" fill="none" stroke="#2b2bff" stroke-width="0.6"/>
<circle cx="499.79" cy="232.86" r="1.05" fill="none" stroke="#2b2bff" stroke-width="0.6"/>
<circle cx="500.62" cy="231.66" r="1.05" fill="none" stroke="#2b2bff" stroke-width="0.6"/>
<circle cx="501.5" cy="230.47" r="1.05" fill="none" stroke="#2b2bff" stroke-width="0.6"/>
<circle cx="502.39" cy="229.26" r="1.05" fill="none" stroke="#2b2bff" stroke-width="0.6"/>
<circle cx="503.3" cy="228.03" r="1.05" fill="none" stroke="#2b2bff" stroke-width="0.6"/>
<circle cx="504.23" cy="226.78" r="1.05" fill="none" stroke="#2b2bff" stroke-width="0.6"/>
<circle cx="505.27" cy="225.61" r="1.05" fill="none" stroke="#2b2bff" stroke-width="0.6"/>
<circle cx="506.67" cy="224.82" r="1.05" fill="none" stroke="#2b2bff" stroke-width="0.6"/>
<circle cx="508.17" cy="224.06" r="1.05" fill="none" stroke="#2b2bff" stroke-width="0.6"/>
<circle cx="509.74" cy="223.28" r="1.05" fill="none" stroke="#2b2bff" stroke-width="0.6"/>
<circle cx="511.37" cy="222.47" r="1.05" fill="none" stroke="#2b2bff" stroke-width="0.6"/>
<circle cx="513.07" cy="221.62" r="1.05" fill="none" stroke="#2b2bff" stroke-width="0.6"/>
<circle cx="514.87" cy="220.8" r="1.05" fill="none" stroke="#2b2bff" stroke-width="0.6"/>
<circle cx="516.89" cy="220.37" r="1.05" fill="none" stroke="#2b2bff" stroke-width="0.6"/>
<circle cx="519.01" cy="219.95" r="1.05" fill="none" stroke="#2b2bff" stroke-width="0.6"/>
<circle cx="521.23" cy="219.51" r="1.05" fill="none" stroke="#2b2bff" stroke-width="0.6"/>
<circle cx="523.55" cy="219.05" r="1.05" fill="none" stroke="#2b2bff" stroke-width="0.6"/>
<circle cx="526" cy="218.69" r="1.05" fill="none" stroke="#2b2bff" stroke-width="0.6"/>
<circle cx="528.58" cy="218.38" r="1.05" fill="none" stroke="#2b2bff" stroke-width="0.6"/>
<circle cx="531.27" cy="218.06" r="1.05" fill="none" stroke="#2b2bff" stroke-width="0.6"/>
<circle cx="534.1" cy="217.72" r="1.05" fill="none" stroke="#2b2bff" stroke-width="0.6"/>
<circle cx="537.05" cy="217.36" r="1.05" fill="none" stroke="#2b2bff" stroke-width="0.6"/>
<circle cx="540.14" cy="216.99" r="1.05" fill="none" stroke="#2b2bff" stroke-width="0.6"/>
<circle cx="543.38" cy="216.61" r="1.05" fill="none" stroke="#2b2bff" stroke-width="0.6"/>
<circle cx="546.78" cy="216.35" r="1.05" fill="none" stroke="#2b2bff" stroke-width="0.6"/>
<circle cx="550.35" cy="216.08" r="1.05" fill="none" stroke="#2b2bff" stroke-width="0.6"/>
<circle cx="554.08" cy="215.8" r="1.05" fill="none" stroke="#2b2bff" stroke-width="0.6"/>
<circle cx="557.99" cy="215.5" r="1.05" fill="none" stroke="#2b2bff" stroke-width="0.6"/>
<circle cx="562.09" cy="215.19" r="1.05" fill="none" stroke="#2b2bff" stroke-width="0.6"/>
<circle cx="566.29" cy="214.88" r="1.05" fill="none" stroke="#2b2bff" stroke-width="0.6"/>
<circle cx="570.51" cy="214.58" r="1.05" fill="none" stroke="#2b2bff" stroke-width="0.6"/>
<circle cx="574.76" cy="214.28" r="1.05" fill="none" stroke="#2b2bff" stroke-width="0.6"/>
<circle cx="579.03" cy="213.98" r="1.05" fill="none" stroke="#2b2bff" stroke-width="0.6"/>
<circle cx="583.33" cy="213.67" r="1.05" fill="none" stroke="#2b2bff" stroke-width="0.6"/>
<circle cx="587.66" cy="213.37" r="1.05" fill="none" stroke="#2b2bff" stroke-width="0.6"/>
<circle cx="591.99" cy="212.95" r="1.05" fill="none" stroke="#2b2bff" stroke-width="0.6"/>
<circle cx="596.34" cy="212.41" r="1.05" fill="none" stroke="#2b2bff" stroke-width="0.6"/>
<circle cx="600.71" cy="211.86" r="1.05" fill="none" stroke="#2b2bff" stroke-width="0.6"/>
<circle cx="605.11" cy="211.31" r="1.05" fill="none" stroke="#2b2bff" stroke-width="0.6"/>
<circle cx="609.54" cy="210.76" r="1.05" fill="none" stroke="#2b2bff" stroke-width="0.6"/>
<circle cx="613.94" cy="209.91" r="1.05" fill="none" stroke="#2b2bff" stroke-width="0.6"/>
<circle cx="618.34" cy="208.94" r="1.05" fill="none" stroke="#2b2bff" stroke-width="0.6"/>
<circle cx="622.77" cy="207.97" r="1.05" fill="none" stroke="#2b2bff" stroke-width="0.6"/>
<circle cx="627.19" cy="206.86" r="1.05" fill="none" stroke="#2b2bff" stroke-width="0.6"/>
<circle cx="631.56" cy="205.48" r="1.05" fill="none" stroke="#2b2bff" stroke-width="0.6"/>
<circle cx="635.84" cy="204.13" r="1.05" fill="none" stroke="#2b2bff" stroke-width="0.6"/>
<circle cx="639.84" cy="202.87" r="1.05" fill="none" stroke="#2b2bff" stroke-width="0.6"/>
<circle cx="643.15" cy="200.83" r="1.05" fill="none" stroke="#2b2bff" stroke-width="0.6"/>
<circle cx="645.93" cy="198.44" r="1.05" fill="none" stroke="#2b2bff" stroke-width="0.6"/>
<polyline fill="none" stroke="#2b2bff" stroke-width="0.9" stroke-linejoin="round" stroke-linecap="round" points="566,212.79 566.5,212.78 567,212.75 567.5,212.72 568,212.7 568.5,212.68 569,212.65 569.5,212.62 570,212.6 570.5,212.58 571,212.55 571.5,212.52 572,212.5 572.5,212.47 573,212.45 573.5,212.43 574,212.4 574.5,212.37 575,212.35 575.5,212.32 576,212.3 576.5,212.27 577,212.25 577.5,212.22 578,212.2 578.5,212.17 579,212.15 579.5,212.12 580,212.1 580.5,212.07 581,212.05 581.5,212.03 582,212 582.5,211.97 583,211.95 583.5,211.92 584,211.9 584.5,211.88 585,211.85 585.5,211.82 586,211.8 586.5,211.77 587,211.75 587.5,211.72 588,211.7 588.5,211.68 589,211.65 589.5,211.62 590,211.59 590.5,211.56 591,211.51 591.5,211.47 592,211.43 592.5,211.38 593,211.34 593.5,211.3 594,211.25 594.5,211.21 595,211.17 595.5,211.12 596,211.08 596.5,211.04 597,210.99 597.5,210.95 598,210.91 598.5,210.86 599,210.82 599.5,210.78 600,210.73 600.5,210.69 601,210.65 601.5,210.6 602,210.56 602.5,210.52 603,210.47 603.5,210.43 604,210.39 604.5,210.35 605,210.3 605.5,210.26 606,210.22 606.5,210.17 607,210.13 607.5,210.09 608,210.04 608.5,210 609,209.96 609.5,209.91 610,209.87 610.5,209.82 611,209.74 611.5,209.65 612,209.54 612.5,209.44 613,209.33 613.5,209.22 614,209.12 614.5,209.01 615,208.9 615.5,208.8 616,208.69 616.5,208.58 617,208.48 617.5,208.37 618,208.26 618.5,208.16 619,208.05 619.5,207.94 620,207.84 620.5,207.73 621,207.62 621.5,207.52 622,207.41 622.5,207.3 623,207.2 623.5,207.09 624,206.98 624.5,206.88 625,206.77 625.5,206.66 626,206.52 626.5,206.37 627,206.2 627.5,206.03 628,205.86 628.5,205.69 629,205.53 629.5,205.36 630,205.19 630.5,205.02 631,204.86 631.5,204.69 632,204.52 632.5,204.35 633,204.18 633.5,204.02 634,203.85 634.5,203.68 635,203.51 635.5,203.34 636,203.18 636.5,203.01 637,202.84 637.5,202.67 638,202.51 638.5,202.34 639,202.17 639.5,202 640,201.83 640.5,201.62 641,201.34 641.5,200.97 642,200.58 642.5,200.19 643,199.8 643.5,199.41 644,199.02 644.5,198.63 645,198.24 645.5,197.85 646,197.46 646.5,197.06 647,196.67 647.5,196.28 648,195.89 648.5,195.63"/>
<circle cx="566" cy="212.79" r="1.05" fill="none" stroke="#2b2bff" stroke-width="0.6"/>
<circle cx="570.23" cy="212.59" r="1.05" fill="none" stroke="#2b2bff" stroke-width="0.6"/>
<circle cx="574.48" cy="212.38" r="1.05" fill="none" stroke="#2b2bff" stroke-width="0.6"/>
<circle cx="578.76" cy="212.16" r="1.05" fill="none" stroke="#2b2bff" stroke-width="0.6"/>
<circle cx="583.06" cy="211.95" r="1.05" fill="none" stroke="#2b2bff" stroke-width="0.6"/>
<circle cx="587.39" cy="211.73" r="1.05" fill="none" stroke="#2b2bff" stroke-width="0.6"/>
<circle cx="591.74" cy="211.45" r="1.05" fill="none" stroke="#2b2bff" stroke-width="0.6"/>
<circle cx="596.1" cy="211.07" r="1.05" fill="none" stroke="#2b2bff" stroke-width="0.6"/>
<circle cx="600.49" cy="210.69" r="1.05" fill="none" stroke="#2b2bff" stroke-width="0.6"/>
<circle cx="604.9" cy="210.31" r="1.05" fill="none" stroke="#2b2bff" stroke-width="0.6"/>
<circle cx="609.34" cy="209.93" r="1.05" fill="none" stroke="#2b2bff" stroke-width="0.6"/>
<circle cx="613.76" cy="209.17" r="1.05" fill="none" stroke="#2b2bff" stroke-width="0.6"/>
<circle cx="618.16" cy="208.23" r="1.05" fill="none" stroke="#2b2bff" stroke-width="0.6"/>
<circle cx="622.6" cy="207.28" r="1.05" fill="none" stroke="#2b2bff" stroke-width="0.6"/>
<circle cx="627.02" cy="206.19" r="1.05" fill="none" stroke="#2b2bff" stroke-width="0.6"/>
<circle cx="631.36" cy="204.73" r="1.05" fill="none" stroke="#2b2bff" stroke-width="0.6"/>
<circle cx="635.63" cy="203.3" r="1.05" fill="none" stroke="#2b2bff" stroke-width="0.6"/>
<circle cx="639.62" cy="201.96" r="1.05" fill="none" stroke="#2b2bff" stroke-width="0.6"/>
<circle cx="642.91" cy="199.87" r="1.05" fill="none" stroke="#2b2bff" stroke-width="0.6"/>
<circle cx="645.82" cy="197.59" r="1.05" fill="none" stroke="#2b2bff" stroke-width="0.6"/>
<rect x="486.5" y="177.5" width="179" height="133" fill="none" stroke="#505050" stroke-width="1"/>
<line x1="483.7" y1="310.5" x2="486.5" y2="310.5" stroke="#505050" stroke-width="0.9" />
<text x="481.6" y="312.4" font-size="8.4" font-weight="bold" fill="#000" text-anchor="end">100</text>
<line x1="483.7" y1="288.33" x2="486.5" y2="288.33" stroke="#505050" stroke-width="0.9" />
<text x="481.6" y="290.23" font-size="8.4" font-weight="bold" fill="#000" text-anchor="end">150</text>
<line x1="483.7" y1="266.17" x2="486.5" y2="266.17" stroke="#505050" stroke-width="0.9" />
<text x="481.6" y="268.07" font-size="8.4" font-weight="bold" fill="#000" text-anchor="end">200</text>
<line x1="483.7" y1="244" x2="486.5" y2="244" stroke="#505050" stroke-width="0.9" />
<text x="481.6" y="245.9" font-size="8.4" font-weight="bold" fill="#000" text-anchor="end">250</text>
<line x1="483.7" y1="221.83" x2="486.5" y2="221.83" stroke="#505050" stroke-width="0.9" />
<text x="481.6" y="223.73" font-size="8.4" font-weight="bold" fill="#000" text-anchor="end">300</text>
<line x1="483.7" y1="199.67" x2="486.5" y2="199.67" stroke="#505050" stroke-width="0.9" />
<text x="481.6" y="201.57" font-size="8.4" font-weight="bold" fill="#000" text-anchor="end">350</text>
<line x1="483.7" y1="177.5" x2="486.5" y2="177.5" stroke="#505050" stroke-width="0.9" />
<text x="481.6" y="179.4" font-size="8.4" font-weight="bold" fill="#000" text-anchor="end">400</text>
<line x1="484.9" y1="299.42" x2="486.5" y2="299.42" stroke="#505050" stroke-width="0.9" />
<line x1="484.9" y1="277.25" x2="486.5" y2="277.25" stroke="#505050" stroke-width="0.9" />
<line x1="484.9" y1="255.08" x2="486.5" y2="255.08" stroke="#505050" stroke-width="0.9" />
<line x1="484.9" y1="232.92" x2="486.5" y2="232.92" stroke="#505050" stroke-width="0.9" />
<line x1="484.9" y1="210.75" x2="486.5" y2="210.75" stroke="#505050" stroke-width="0.9" />
<line x1="484.9" y1="188.58" x2="486.5" y2="188.58" stroke="#505050" stroke-width="0.9" />
<line x1="494.4" y1="310.5" x2="494.4" y2="313.1" stroke="#505050" stroke-width="0.9" />
<line x1="509.93" y1="310.5" x2="509.93" y2="312" stroke="#505050" stroke-width="0.9" />
<line x1="525.46" y1="310.5" x2="525.46" y2="313.1" stroke="#505050" stroke-width="0.9" />
<line x1="540.99" y1="310.5" x2="540.99" y2="312" stroke="#505050" stroke-width="0.9" />
<line x1="556.52" y1="310.5" x2="556.52" y2="313.1" stroke="#505050" stroke-width="0.9" />
<line x1="572.05" y1="310.5" x2="572.05" y2="312" stroke="#505050" stroke-width="0.9" />
<line x1="587.58" y1="310.5" x2="587.58" y2="313.1" stroke="#505050" stroke-width="0.9" />
<line x1="603.11" y1="310.5" x2="603.11" y2="312" stroke="#505050" stroke-width="0.9" />
<line x1="618.64" y1="310.5" x2="618.64" y2="313.1" stroke="#505050" stroke-width="0.9" />
<line x1="634.17" y1="310.5" x2="634.17" y2="312" stroke="#505050" stroke-width="0.9" />
<line x1="649.7" y1="310.5" x2="649.7" y2="313.1" stroke="#505050" stroke-width="0.9" />
<text x="494.4" y="321.8" font-size="8.4" font-weight="bold" fill="#000" text-anchor="middle">0.0</text>
<text x="525.46" y="321.8" font-size="8.4" font-weight="bold" fill="#000" text-anchor="middle">0.2</text>
<text x="556.52" y="321.8" font-size="8.4" font-weight="bold" fill="#000" text-anchor="middle">0.4</text>
<text x="587.58" y="321.8" font-size="8.4" font-weight="bold" fill="#000" text-anchor="middle">0.6</text>
<text x="618.64" y="321.8" font-size="8.4" font-weight="bold" fill="#000" text-anchor="middle">0.8</text>
<text x="649.7" y="321.8" font-size="8.4" font-weight="bold" fill="#000" text-anchor="middle">1.0</text>
<text x="518.6" y="336.2" font-size="11.3" font-weight="bold" fill="#000" text-anchor="start">Relative pressure (<tspan font-style="italic">P</tspan>/<tspan font-style="italic">P</tspan><tspan font-size="6.5" dy="2" font-style="italic">0</tspan><tspan dy="-2">)</tspan></text>
<text x="461" y="314.2" font-size="10.3" font-weight="bold" fill="#000" text-anchor="start" textLength="84.2" lengthAdjust="spacingAndGlyphs" transform="rotate(-90 461 314.2)">Quantity Adsorbed</text>
<text x="461" y="229.6" font-size="9.6" font-weight="bold" fill="#000" text-anchor="start" textLength="55" lengthAdjust="spacingAndGlyphs" transform="rotate(-90 461 229.6)">(<tspan font-style="italic">cm<tspan font-size="6.6" dy="-3.6">3</tspan><tspan dy="3.6"> g</tspan><tspan font-size="6.6" dy="-3.6">-1</tspan><tspan dy="3.6"> STP</tspan></tspan>)</text>
<text x="438.6" y="182.7" font-size="14.2" font-weight="bold" fill="#000" text-anchor="start" textLength="16.6" lengthAdjust="spacingAndGlyphs">(f)</text>
<text x="506.6" y="208.5" font-size="7.1" font-weight="bold" fill="#111" text-anchor="start" textLength="27.3" lengthAdjust="spacingAndGlyphs">SCC-KU</text>
<text x="514.6" y="235" font-size="7.2" font-weight="bold" fill="#2b2bff" text-anchor="start" textLength="43.5" lengthAdjust="spacingAndGlyphs">Ru@SCC-KU</text>
<rect x="567.4" y="229.7" width="88.6" height="66" fill="white" stroke="#333" stroke-width="0.8"/>
<polyline fill="none" stroke="#111" stroke-width="0.9" stroke-linejoin="round"  points="575,230.98 575.4,233.13 575.8,236.35 576.2,239.56 576.6,242.66 577,245.67 577.4,248.6 577.8,251.46 578.2,254.18 578.6,256.75 579,259.25 579.4,261.75 579.8,264.02 580.2,265.83 580.6,267.18 581,268.31 581.4,269.43 581.8,270.55 582.2,271.68 582.6,272.68 583,273.56 583.4,274.33 583.8,275.09 584.2,275.86 584.6,276.62 585,277.39 585.4,278.15 585.8,278.88 586.2,279.53 586.6,280.1 587,280.63 587.4,281.17 587.8,281.7 588.2,282.23 588.6,282.77 589,283.22 589.4,283.59 589.8,283.89 590.2,284.18 590.6,284.47 591,284.77 591.4,285.06 591.8,285.32 592.2,285.49 592.6,285.6 593,285.66 593.4,285.72 593.8,285.79 594.2,285.85 594.6,285.92 595,285.98 595.4,286.04 595.8,286.11 596.2,286.17 596.6,286.24 597,286.24 597.4,286.19 597.8,286.09 598.2,285.98 598.6,285.87 599,285.77 599.4,285.66 599.8,285.5 600.2,285.22 600.6,284.83 601,284.38 601.4,283.94 601.8,283.49 602.2,283.05 602.6,282.97 603,283.25 603.4,283.9 603.8,284.55 604.2,285.2 604.6,285.85 605,286.4 605.4,286.86 605.8,287.22 606.2,287.58 606.6,287.94 607,288.3 607.4,288.66 607.8,288.96 608.2,289.15 608.6,289.22 609,289.23 609.4,289.25 609.8,289.26 610.2,289.27 610.6,289.29 611,289.3 611.4,289.31 611.8,289.33 612.2,289.34 612.6,289.35 613,289.37 613.4,289.38 613.8,289.39 614.2,289.41 614.6,289.42 615,289.43 615.4,289.45 615.8,289.46 616.2,289.47 616.6,289.49 617,289.5 617.4,289.51 617.8,289.53 618.2,289.54 618.6,289.55 619,289.57 619.4,289.58 619.8,289.59 620.2,289.6 620.6,289.6 621,289.6 621.4,289.6 621.8,289.61 622.2,289.61 622.6,289.61 623,289.61 623.4,289.61 623.8,289.61 624.2,289.61 624.6,289.61 625,289.61 625.4,289.62 625.8,289.62 626.2,289.62 626.6,289.62 627,289.62 627.4,289.62 627.8,289.62 628.2,289.62 628.6,289.62 629,289.63 629.4,289.63 629.8,289.63 630.2,289.63 630.6,289.63 631,289.63 631.4,289.63 631.8,289.63 632.2,289.63 632.6,289.64 633,289.64 633.4,289.64 633.8,289.64 634.2,289.64 634.6,289.64 635,289.64 635.4,289.64 635.8,289.64 636.2,289.65 636.6,289.65 637,289.65 637.4,289.65 637.8,289.65 638.2,289.65 638.6,289.65 639,289.65 639.4,289.65 639.8,289.66 640.2,289.66 640.6,289.66 641,289.66 641.4,289.66 641.8,289.66 642.2,289.66 642.6,289.66 643,289.66 643.4,289.67 643.8,289.67 644.2,289.67 644.6,289.67 645,289.67 645.4,289.67 645.8,289.67 646.2,289.67 646.6,289.67 647,289.68 647.4,289.68 647.8,289.68 648.2,289.68 648.6,289.68 649,289.68 649.4,289.68 649.8,289.68 650.2,289.68 650.6,289.69 651,289.69 651.4,289.69 651.8,289.69 652.2,289.69 652.6,289.69 653,289.69 653.4,289.69 653.8,289.69 654.2,289.7 654.6,289.7 655,289.7 655.4,289.7"/>
<rect x="574.7" y="233.13" width="1.6" height="1.6" fill="#111"/>
<rect x="576.2" y="244.87" width="1.6" height="1.6" fill="#111"/>
<rect x="577.7" y="255.31" width="1.6" height="1.6" fill="#111"/>
<rect x="579.2" y="264.13" width="1.6" height="1.6" fill="#111"/>
<rect x="581.2" y="270.32" width="1.6" height="1.6" fill="#111"/>
<rect x="583.2" y="274.68" width="1.6" height="1.6" fill="#111"/>
<rect x="585.2" y="278.4" width="1.6" height="1.6" fill="#111"/>
<rect x="587.7" y="281.83" width="1.6" height="1.6" fill="#111"/>
<rect x="590.2" y="283.97" width="1.6" height="1.6" fill="#111"/>
<rect x="593.2" y="285.02" width="1.6" height="1.6" fill="#111"/>
<rect x="596.2" y="285.44" width="1.6" height="1.6" fill="#111"/>
<rect x="599.2" y="284.56" width="1.6" height="1.6" fill="#111"/>
<rect x="602.2" y="282.45" width="1.6" height="1.6" fill="#111"/>
<rect x="605.2" y="286.6" width="1.6" height="1.6" fill="#111"/>
<rect x="608.2" y="288.43" width="1.6" height="1.6" fill="#111"/>
<rect x="611.2" y="288.53" width="1.6" height="1.6" fill="#111"/>
<rect x="617.2" y="288.73" width="1.6" height="1.6" fill="#111"/>
<rect x="623.2" y="288.81" width="1.6" height="1.6" fill="#111"/>
<rect x="629.2" y="288.83" width="1.6" height="1.6" fill="#111"/>
<rect x="636.2" y="288.85" width="1.6" height="1.6" fill="#111"/>
<rect x="642.2" y="288.86" width="1.6" height="1.6" fill="#111"/>
<rect x="649.2" y="288.88" width="1.6" height="1.6" fill="#111"/>
<polyline fill="none" stroke="#2b2bff" stroke-width="0.9" stroke-linejoin="round"  points="575,230.8 575.4,232.59 575.8,235.29 576.2,238 576.6,240.79 577,243.67 577.4,246.6 577.8,249.31 578.2,251.58 578.6,253.4 579,255 579.4,256.6 579.8,258.09 580.2,259.35 580.6,260.38 581,261.31 581.4,262.23 581.8,263.15 582.2,264.08 582.6,264.93 583,265.71 583.4,266.41 583.8,267.12 584.2,267.82 584.6,268.53 585,269.24 585.4,269.94 585.8,270.63 586.2,271.28 586.6,271.9 587,272.5 587.4,273.1 587.8,273.7 588.2,274.3 588.6,274.9 589,275.51 589.4,276.14 589.8,276.78 590.2,277.42 590.6,278.06 591,278.7 591.4,279.34 591.8,279.86 592.2,280.12 592.6,280.14 593,280.03 593.4,279.93 593.8,279.82 594.2,279.71 594.6,279.61 595,279.47 595.4,279.3 595.8,279.1 596.2,278.9 596.6,278.7 597,278.5 597.4,278.3 597.8,278.05 598.2,277.71 598.6,277.28 599,276.8 599.4,276.32 599.8,275.84 600.2,275.33 600.6,274.73 601,274.02 601.4,273.24 601.8,272.46 602.2,271.68 602.6,271.59 603,272.18 603.4,273.47 603.8,274.75 604.2,276.02 604.6,277.23 605,278.38 605.4,279.48 605.8,280.59 606.2,281.69 606.6,282.79 607,283.9 607.4,284.67 607.8,285.12 608.2,285.24 608.6,285.37 609,285.49 609.4,285.61 609.8,285.73 610.2,285.85 610.6,285.97 611,286.1 611.4,286.22 611.8,286.32 612.2,286.38 612.6,286.41 613,286.41 613.4,286.42 613.8,286.42 614.2,286.42 614.6,286.43 615,286.43 615.4,286.44 615.8,286.44 616.2,286.45 616.6,286.45 617,286.46 617.4,286.46 617.8,286.46 618.2,286.47 618.6,286.47 619,286.48 619.4,286.48 619.8,286.49 620.2,286.49 620.6,286.5 621,286.5 621.4,286.5 621.8,286.51 622.2,286.51 622.6,286.52 623,286.52 623.4,286.53 623.8,286.53 624.2,286.54 624.6,286.54 625,286.54 625.4,286.55 625.8,286.55 626.2,286.56 626.6,286.56 627,286.57 627.4,286.57 627.8,286.58 628.2,286.58 628.6,286.58 629,286.59 629.4,286.59 629.8,286.6 630.2,286.6 630.6,286.6 631,286.6 631.4,286.6 631.8,286.6 632.2,286.6 632.6,286.6 633,286.6 633.4,286.6 633.8,286.6 634.2,286.6 634.6,286.6 635,286.6 635.4,286.6 635.8,286.6 636.2,286.6 636.6,286.6 637,286.6 637.4,286.6 637.8,286.6 638.2,286.6 638.6,286.6 639,286.6 639.4,286.6 639.8,286.6 640.2,286.6 640.6,286.6 641,286.6 641.4,286.6 641.8,286.6 642.2,286.6 642.6,286.6 643,286.6 643.4,286.6 643.8,286.6 644.2,286.6 644.6,286.6 645,286.6 645.4,286.6 645.8,286.6 646.2,286.6 646.6,286.6 647,286.6 647.4,286.6 647.8,286.6 648.2,286.6 648.6,286.6 649,286.6 649.4,286.6 649.8,286.6 650.2,286.6 650.6,286.6 651,286.6 651.4,286.6 651.8,286.6 652.2,286.6 652.6,286.6 653,286.6 653.4,286.6 653.8,286.6 654.2,286.6 654.6,286.6 655,286.6 655.4,286.6"/>
<rect x="574.7" y="232.47" width="1.6" height="1.6" fill="#2b2bff"/>
<rect x="576.2" y="242.87" width="1.6" height="1.6" fill="#2b2bff"/>
<rect x="577.7" y="252.14" width="1.6" height="1.6" fill="#2b2bff"/>
<rect x="579.2" y="257.92" width="1.6" height="1.6" fill="#2b2bff"/>
<rect x="581.2" y="262.82" width="1.6" height="1.6" fill="#2b2bff"/>
<rect x="583.2" y="266.67" width="1.6" height="1.6" fill="#2b2bff"/>
<rect x="585.2" y="270.16" width="1.6" height="1.6" fill="#2b2bff"/>
<rect x="587.7" y="273.95" width="1.6" height="1.6" fill="#2b2bff"/>
<rect x="590.2" y="277.9" width="1.6" height="1.6" fill="#2b2bff"/>
<rect x="593.2" y="278.97" width="1.6" height="1.6" fill="#2b2bff"/>
<rect x="596.2" y="277.7" width="1.6" height="1.6" fill="#2b2bff"/>
<rect x="599.2" y="274.79" width="1.6" height="1.6" fill="#2b2bff"/>
<rect x="602.2" y="271.38" width="1.6" height="1.6" fill="#2b2bff"/>
<rect x="605.2" y="280.34" width="1.6" height="1.6" fill="#2b2bff"/>
<rect x="608.2" y="284.69" width="1.6" height="1.6" fill="#2b2bff"/>
<rect x="611.2" y="285.55" width="1.6" height="1.6" fill="#2b2bff"/>
<rect x="617.2" y="285.67" width="1.6" height="1.6" fill="#2b2bff"/>
<rect x="623.2" y="285.73" width="1.6" height="1.6" fill="#2b2bff"/>
<rect x="629.2" y="285.8" width="1.6" height="1.6" fill="#2b2bff"/>
<rect x="636.2" y="285.8" width="1.6" height="1.6" fill="#2b2bff"/>
<rect x="642.2" y="285.8" width="1.6" height="1.6" fill="#2b2bff"/>
<rect x="649.2" y="285.8" width="1.6" height="1.6" fill="#2b2bff"/>
<line x1="567.4" y1="295.7" x2="567.4" y2="296.9" stroke="#333" stroke-width="0.6" />
<text x="567.4" y="301" font-size="3.9" font-weight="normal" fill="#000" text-anchor="middle" style="stroke:#000;stroke-width:0.12">10</text>
<line x1="580.06" y1="295.7" x2="580.06" y2="296.9" stroke="#333" stroke-width="0.6" />
<text x="580.06" y="301" font-size="3.9" font-weight="normal" fill="#000" text-anchor="middle" style="stroke:#000;stroke-width:0.12">20</text>
<line x1="592.71" y1="295.7" x2="592.71" y2="296.9" stroke="#333" stroke-width="0.6" />
<text x="592.71" y="301" font-size="3.9" font-weight="normal" fill="#000" text-anchor="middle" style="stroke:#000;stroke-width:0.12">30</text>
<line x1="605.37" y1="295.7" x2="605.37" y2="296.9" stroke="#333" stroke-width="0.6" />
<text x="605.37" y="301" font-size="3.9" font-weight="normal" fill="#000" text-anchor="middle" style="stroke:#000;stroke-width:0.12">40</text>
<line x1="618.03" y1="295.7" x2="618.03" y2="296.9" stroke="#333" stroke-width="0.6" />
<text x="618.03" y="301" font-size="3.9" font-weight="normal" fill="#000" text-anchor="middle" style="stroke:#000;stroke-width:0.12">50</text>
<line x1="630.69" y1="295.7" x2="630.69" y2="296.9" stroke="#333" stroke-width="0.6" />
<text x="630.69" y="301" font-size="3.9" font-weight="normal" fill="#000" text-anchor="middle" style="stroke:#000;stroke-width:0.12">60</text>
<line x1="643.34" y1="295.7" x2="643.34" y2="296.9" stroke="#333" stroke-width="0.6" />
<text x="643.34" y="301" font-size="3.9" font-weight="normal" fill="#000" text-anchor="middle" style="stroke:#000;stroke-width:0.12">70</text>
<line x1="656" y1="295.7" x2="656" y2="296.9" stroke="#333" stroke-width="0.6" />
<text x="656" y="301" font-size="3.9" font-weight="normal" fill="#000" text-anchor="middle" style="stroke:#000;stroke-width:0.12">80</text>
<text x="565.2" y="231.4" font-size="3.9" font-weight="normal" fill="#000" text-anchor="end" style="stroke:#000;stroke-width:0.12">1.0</text>
<text x="565.2" y="261.7" font-size="3.9" font-weight="normal" fill="#000" text-anchor="end" style="stroke:#000;stroke-width:0.12">0.5</text>
<text x="565.2" y="291.4" font-size="3.9" font-weight="normal" fill="#000" text-anchor="end" style="stroke:#000;stroke-width:0.12">0.0</text>
<text x="613.6" y="307.5" font-size="5.2" font-weight="bold" fill="#000" text-anchor="middle" textLength="43.4" lengthAdjust="spacingAndGlyphs">Pore Diameter (Å)</text>
<text x="557.4" y="264.8" font-size="5.2" font-weight="normal" fill="#000" text-anchor="middle" transform="rotate(-90 557.4 264.8)" style="stroke:#000;stroke-width:0.1">dV/dlog(D) (cm<tspan font-size="3.4" dy="-1.7">3</tspan><tspan dy="1.7">g</tspan><tspan font-size="3.4" dy="-1.7">-1</tspan><tspan dy="1.7">)</tspan></text>
</svg>
</body></html>
